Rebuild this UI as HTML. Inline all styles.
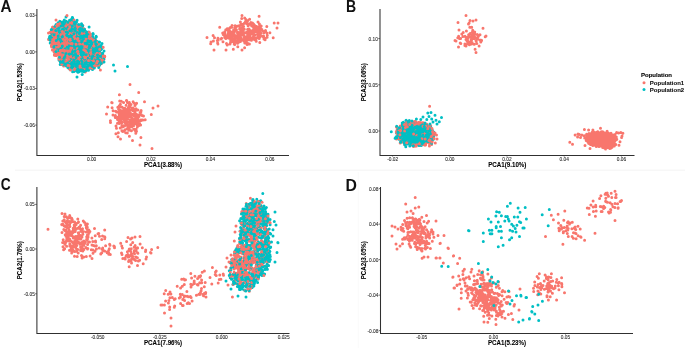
<!DOCTYPE html>
<html><head><meta charset="utf-8"><style>
html,body{margin:0;padding:0;background:#fff;width:685px;height:348px;overflow:hidden;font-family:"Liberation Sans",sans-serif}
svg{display:block;will-change:transform}
</style></head><body>
<svg width="685" height="348" viewBox="0 0 685 348">
<line x1="15" y1="170.3" x2="685" y2="170.3" stroke="#f7f7f7" stroke-width="1.4"/><line x1="358.3" y1="172" x2="358.3" y2="348" stroke="#fbfbfb" stroke-width="1"/><path d="M75.7 38.8h0M76.0 34.5h0" stroke="#F8766D" stroke-width="3.0" stroke-linecap="round"/><path d="M89.6 39.3h0" stroke="#00BFC4" stroke-width="3.0" stroke-linecap="round"/><path d="M92.1 43.9h0" stroke="#F8766D" stroke-width="3.0" stroke-linecap="round"/><path d="M96.0 53.2h0" stroke="#00BFC4" stroke-width="3.0" stroke-linecap="round"/><path d="M80.3 41.7h0" stroke="#F8766D" stroke-width="3.0" stroke-linecap="round"/><path d="M83.1 44.4h0" stroke="#00BFC4" stroke-width="3.0" stroke-linecap="round"/><path d="M95.1 66.2h0" stroke="#F8766D" stroke-width="3.0" stroke-linecap="round"/><path d="M77.0 29.1h0" stroke="#00BFC4" stroke-width="3.0" stroke-linecap="round"/><path d="M90.5 54.1h0" stroke="#F8766D" stroke-width="3.0" stroke-linecap="round"/><path d="M83.3 53.7h0M93.5 55.9h0M93.1 47.6h0" stroke="#00BFC4" stroke-width="3.0" stroke-linecap="round"/><path d="M83.4 68.6h0M92.6 55.9h0M92.9 39.0h0M79.3 47.0h0" stroke="#F8766D" stroke-width="3.0" stroke-linecap="round"/><path d="M81.8 64.0h0" stroke="#00BFC4" stroke-width="3.0" stroke-linecap="round"/><path d="M56.1 45.6h0M74.0 41.2h0M78.3 30.7h0M58.6 54.9h0" stroke="#F8766D" stroke-width="3.0" stroke-linecap="round"/><path d="M98.8 65.0h0M87.0 54.6h0" stroke="#00BFC4" stroke-width="3.0" stroke-linecap="round"/><path d="M80.2 31.1h0M53.8 44.0h0M96.1 60.2h0M56.8 45.8h0" stroke="#F8766D" stroke-width="3.0" stroke-linecap="round"/><path d="M54.3 33.8h0" stroke="#00BFC4" stroke-width="3.0" stroke-linecap="round"/><path d="M55.6 31.6h0" stroke="#F8766D" stroke-width="3.0" stroke-linecap="round"/><path d="M71.9 42.8h0M53.1 31.9h0" stroke="#00BFC4" stroke-width="3.0" stroke-linecap="round"/><path d="M61.8 45.8h0M80.9 39.7h0M69.7 62.7h0" stroke="#F8766D" stroke-width="3.0" stroke-linecap="round"/><path d="M64.3 42.4h0M95.1 46.1h0M100.7 47.7h0" stroke="#00BFC4" stroke-width="3.0" stroke-linecap="round"/><path d="M100.7 53.7h0M55.0 52.5h0M64.1 28.9h0M101.0 63.6h0M87.9 59.2h0M91.4 65.6h0" stroke="#F8766D" stroke-width="3.0" stroke-linecap="round"/><path d="M55.8 42.5h0M67.2 45.3h0" stroke="#00BFC4" stroke-width="3.0" stroke-linecap="round"/><path d="M88.4 60.2h0" stroke="#F8766D" stroke-width="3.0" stroke-linecap="round"/><path d="M65.0 40.8h0M91.2 53.0h0" stroke="#00BFC4" stroke-width="3.0" stroke-linecap="round"/><path d="M70.8 61.3h0M61.2 31.1h0" stroke="#F8766D" stroke-width="3.0" stroke-linecap="round"/><path d="M86.1 51.6h0M91.0 40.0h0" stroke="#00BFC4" stroke-width="3.0" stroke-linecap="round"/><path d="M78.2 61.4h0" stroke="#F8766D" stroke-width="3.0" stroke-linecap="round"/><path d="M82.2 74.4h0" stroke="#00BFC4" stroke-width="3.0" stroke-linecap="round"/><path d="M79.0 67.8h0M68.0 43.8h0M50.7 38.9h0" stroke="#F8766D" stroke-width="3.0" stroke-linecap="round"/><path d="M79.6 33.0h0M101.7 48.3h0" stroke="#00BFC4" stroke-width="3.0" stroke-linecap="round"/><path d="M100.0 57.1h0M75.0 63.4h0" stroke="#F8766D" stroke-width="3.0" stroke-linecap="round"/><path d="M87.1 41.4h0M69.4 36.6h0M77.8 62.3h0M86.3 36.3h0M77.0 31.1h0M99.9 45.5h0M70.6 56.1h0M54.8 51.8h0M89.7 53.6h0M79.3 49.3h0M71.9 66.0h0M69.9 38.3h0" stroke="#00BFC4" stroke-width="3.0" stroke-linecap="round"/><path d="M57.0 44.1h0" stroke="#F8766D" stroke-width="3.0" stroke-linecap="round"/><path d="M93.3 49.7h0" stroke="#00BFC4" stroke-width="3.0" stroke-linecap="round"/><path d="M76.0 40.0h0M62.2 44.2h0" stroke="#F8766D" stroke-width="3.0" stroke-linecap="round"/><path d="M62.4 31.3h0" stroke="#00BFC4" stroke-width="3.0" stroke-linecap="round"/><path d="M62.3 64.4h0M90.4 36.5h0M80.4 68.0h0M85.3 72.0h0" stroke="#F8766D" stroke-width="3.0" stroke-linecap="round"/><path d="M69.8 43.5h0M78.0 69.0h0" stroke="#00BFC4" stroke-width="3.0" stroke-linecap="round"/><path d="M68.9 57.5h0" stroke="#F8766D" stroke-width="3.0" stroke-linecap="round"/><path d="M75.2 29.6h0" stroke="#00BFC4" stroke-width="3.0" stroke-linecap="round"/><path d="M58.3 29.5h0M91.1 60.9h0M84.9 30.9h0" stroke="#F8766D" stroke-width="3.0" stroke-linecap="round"/><path d="M91.2 59.2h0" stroke="#00BFC4" stroke-width="3.0" stroke-linecap="round"/><path d="M82.6 56.6h0" stroke="#F8766D" stroke-width="3.0" stroke-linecap="round"/><path d="M94.0 53.1h0" stroke="#00BFC4" stroke-width="3.0" stroke-linecap="round"/><path d="M68.8 58.2h0" stroke="#F8766D" stroke-width="3.0" stroke-linecap="round"/><path d="M88.0 65.1h0M68.0 32.8h0M90.4 42.1h0M65.2 53.2h0" stroke="#00BFC4" stroke-width="3.0" stroke-linecap="round"/><path d="M55.5 55.0h0" stroke="#F8766D" stroke-width="3.0" stroke-linecap="round"/><path d="M54.3 52.0h0" stroke="#00BFC4" stroke-width="3.0" stroke-linecap="round"/><path d="M75.5 52.4h0M76.2 36.3h0M85.1 68.3h0M98.1 64.3h0M75.8 61.4h0" stroke="#F8766D" stroke-width="3.0" stroke-linecap="round"/><path d="M93.3 42.0h0M50.2 43.1h0" stroke="#00BFC4" stroke-width="3.0" stroke-linecap="round"/><path d="M82.9 29.5h0M59.4 38.0h0" stroke="#F8766D" stroke-width="3.0" stroke-linecap="round"/><path d="M83.3 62.9h0" stroke="#00BFC4" stroke-width="3.0" stroke-linecap="round"/><path d="M61.5 36.8h0" stroke="#F8766D" stroke-width="3.0" stroke-linecap="round"/><path d="M73.5 45.3h0" stroke="#00BFC4" stroke-width="3.0" stroke-linecap="round"/><path d="M62.9 39.4h0M66.2 61.2h0" stroke="#F8766D" stroke-width="3.0" stroke-linecap="round"/><path d="M64.1 25.9h0M78.1 63.2h0" stroke="#00BFC4" stroke-width="3.0" stroke-linecap="round"/><path d="M57.4 41.3h0" stroke="#F8766D" stroke-width="3.0" stroke-linecap="round"/><path d="M82.4 56.3h0M66.8 62.5h0" stroke="#00BFC4" stroke-width="3.0" stroke-linecap="round"/><path d="M80.1 58.9h0M63.1 52.4h0" stroke="#F8766D" stroke-width="3.0" stroke-linecap="round"/><path d="M59.5 53.2h0M98.3 64.6h0" stroke="#00BFC4" stroke-width="3.0" stroke-linecap="round"/><path d="M73.9 25.4h0M101.5 47.2h0M68.7 43.8h0" stroke="#F8766D" stroke-width="3.0" stroke-linecap="round"/><path d="M56.5 48.9h0M102.2 58.5h0" stroke="#00BFC4" stroke-width="3.0" stroke-linecap="round"/><path d="M60.9 54.2h0M94.4 57.8h0M96.8 50.8h0M72.2 38.9h0" stroke="#F8766D" stroke-width="3.0" stroke-linecap="round"/><path d="M97.7 45.7h0M86.5 43.0h0" stroke="#00BFC4" stroke-width="3.0" stroke-linecap="round"/><path d="M82.4 48.5h0" stroke="#F8766D" stroke-width="3.0" stroke-linecap="round"/><path d="M86.1 35.2h0" stroke="#00BFC4" stroke-width="3.0" stroke-linecap="round"/><path d="M64.2 46.3h0" stroke="#F8766D" stroke-width="3.0" stroke-linecap="round"/><path d="M79.7 51.6h0M91.2 58.0h0" stroke="#00BFC4" stroke-width="3.0" stroke-linecap="round"/><path d="M72.0 61.4h0" stroke="#F8766D" stroke-width="3.0" stroke-linecap="round"/><path d="M78.6 27.5h0M69.1 30.7h0M85.9 39.7h0M88.2 46.4h0" stroke="#00BFC4" stroke-width="3.0" stroke-linecap="round"/><path d="M83.8 65.9h0" stroke="#F8766D" stroke-width="3.0" stroke-linecap="round"/><path d="M58.2 31.0h0M86.8 62.1h0" stroke="#00BFC4" stroke-width="3.0" stroke-linecap="round"/><path d="M80.9 43.9h0" stroke="#F8766D" stroke-width="3.0" stroke-linecap="round"/><path d="M94.0 55.1h0M79.7 47.7h0M86.1 36.1h0" stroke="#00BFC4" stroke-width="3.0" stroke-linecap="round"/><path d="M57.5 45.8h0" stroke="#F8766D" stroke-width="3.0" stroke-linecap="round"/><path d="M91.9 36.8h0M90.4 66.6h0" stroke="#00BFC4" stroke-width="3.0" stroke-linecap="round"/><path d="M87.4 50.4h0M63.8 22.6h0" stroke="#F8766D" stroke-width="3.0" stroke-linecap="round"/><path d="M76.4 57.4h0M73.7 33.0h0M78.2 52.2h0" stroke="#00BFC4" stroke-width="3.0" stroke-linecap="round"/><path d="M88.5 46.6h0M70.3 35.5h0" stroke="#F8766D" stroke-width="3.0" stroke-linecap="round"/><path d="M71.8 32.9h0M83.2 50.4h0" stroke="#00BFC4" stroke-width="3.0" stroke-linecap="round"/><path d="M94.0 49.8h0M57.4 36.0h0" stroke="#F8766D" stroke-width="3.0" stroke-linecap="round"/><path d="M96.4 45.4h0M78.3 32.0h0" stroke="#00BFC4" stroke-width="3.0" stroke-linecap="round"/><path d="M57.0 37.2h0" stroke="#F8766D" stroke-width="3.0" stroke-linecap="round"/><path d="M87.0 42.5h0M67.4 53.6h0M85.8 37.3h0M88.1 53.1h0" stroke="#00BFC4" stroke-width="3.0" stroke-linecap="round"/><path d="M65.8 37.4h0" stroke="#F8766D" stroke-width="3.0" stroke-linecap="round"/><path d="M62.1 38.5h0" stroke="#00BFC4" stroke-width="3.0" stroke-linecap="round"/><path d="M73.2 35.5h0M69.8 46.9h0" stroke="#F8766D" stroke-width="3.0" stroke-linecap="round"/><path d="M81.4 48.3h0M75.8 32.5h0" stroke="#00BFC4" stroke-width="3.0" stroke-linecap="round"/><path d="M57.9 46.6h0" stroke="#F8766D" stroke-width="3.0" stroke-linecap="round"/><path d="M86.2 50.5h0M71.8 65.4h0M94.1 48.4h0M71.9 23.1h0M75.7 28.9h0" stroke="#00BFC4" stroke-width="3.0" stroke-linecap="round"/><path d="M72.7 59.6h0" stroke="#F8766D" stroke-width="3.0" stroke-linecap="round"/><path d="M88.0 36.0h0M64.1 37.7h0M80.1 68.1h0M85.7 47.2h0" stroke="#00BFC4" stroke-width="3.0" stroke-linecap="round"/><path d="M98.0 48.6h0M101.1 46.5h0M61.6 36.4h0M91.8 65.2h0M62.3 50.0h0" stroke="#F8766D" stroke-width="3.0" stroke-linecap="round"/><path d="M72.7 66.4h0M89.1 44.5h0M55.6 52.8h0" stroke="#00BFC4" stroke-width="3.0" stroke-linecap="round"/><path d="M68.4 56.2h0" stroke="#F8766D" stroke-width="3.0" stroke-linecap="round"/><path d="M76.1 26.3h0M72.8 55.3h0M65.2 35.1h0" stroke="#00BFC4" stroke-width="3.0" stroke-linecap="round"/><path d="M93.7 38.2h0M51.7 43.9h0M100.8 54.7h0" stroke="#F8766D" stroke-width="3.0" stroke-linecap="round"/><path d="M85.0 40.5h0M84.5 46.7h0" stroke="#00BFC4" stroke-width="3.0" stroke-linecap="round"/><path d="M57.1 47.7h0" stroke="#F8766D" stroke-width="3.0" stroke-linecap="round"/><path d="M84.7 43.4h0" stroke="#00BFC4" stroke-width="3.0" stroke-linecap="round"/><path d="M63.7 66.0h0M57.8 53.4h0" stroke="#F8766D" stroke-width="3.0" stroke-linecap="round"/><path d="M60.4 56.0h0M70.1 40.2h0" stroke="#00BFC4" stroke-width="3.0" stroke-linecap="round"/><path d="M66.9 41.6h0M75.3 32.8h0M58.8 40.9h0M59.4 38.0h0" stroke="#F8766D" stroke-width="3.0" stroke-linecap="round"/><path d="M59.8 33.9h0M70.6 27.4h0M96.8 62.5h0M82.0 32.1h0" stroke="#00BFC4" stroke-width="3.0" stroke-linecap="round"/><path d="M84.7 50.7h0" stroke="#F8766D" stroke-width="3.0" stroke-linecap="round"/><path d="M68.7 65.4h0M90.0 43.6h0M82.3 42.8h0M73.7 32.8h0M74.3 52.0h0" stroke="#00BFC4" stroke-width="3.0" stroke-linecap="round"/><path d="M77.1 44.1h0" stroke="#F8766D" stroke-width="3.0" stroke-linecap="round"/><path d="M59.4 57.8h0M69.8 25.5h0M82.2 51.2h0" stroke="#00BFC4" stroke-width="3.0" stroke-linecap="round"/><path d="M89.5 38.2h0" stroke="#F8766D" stroke-width="3.0" stroke-linecap="round"/><path d="M65.0 62.5h0" stroke="#00BFC4" stroke-width="3.0" stroke-linecap="round"/><path d="M84.4 29.3h0" stroke="#F8766D" stroke-width="3.0" stroke-linecap="round"/><path d="M83.3 33.5h0" stroke="#00BFC4" stroke-width="3.0" stroke-linecap="round"/><path d="M51.1 32.2h0" stroke="#F8766D" stroke-width="3.0" stroke-linecap="round"/><path d="M92.9 66.8h0" stroke="#00BFC4" stroke-width="3.0" stroke-linecap="round"/><path d="M55.9 55.3h0" stroke="#F8766D" stroke-width="3.0" stroke-linecap="round"/><path d="M96.9 46.3h0" stroke="#00BFC4" stroke-width="3.0" stroke-linecap="round"/><path d="M66.5 53.8h0" stroke="#F8766D" stroke-width="3.0" stroke-linecap="round"/><path d="M62.7 63.3h0" stroke="#00BFC4" stroke-width="3.0" stroke-linecap="round"/><path d="M54.5 55.0h0M74.0 33.3h0M86.4 37.2h0" stroke="#F8766D" stroke-width="3.0" stroke-linecap="round"/><path d="M97.0 49.9h0" stroke="#00BFC4" stroke-width="3.0" stroke-linecap="round"/><path d="M59.4 31.8h0" stroke="#F8766D" stroke-width="3.0" stroke-linecap="round"/><path d="M92.7 62.8h0M69.7 37.2h0M85.6 60.7h0M90.9 50.2h0M95.2 42.0h0M62.6 64.8h0M102.6 61.8h0" stroke="#00BFC4" stroke-width="3.0" stroke-linecap="round"/><path d="M100.5 62.3h0" stroke="#F8766D" stroke-width="3.0" stroke-linecap="round"/><path d="M91.9 46.4h0" stroke="#00BFC4" stroke-width="3.0" stroke-linecap="round"/><path d="M60.6 41.9h0" stroke="#F8766D" stroke-width="3.0" stroke-linecap="round"/><path d="M53.7 29.1h0" stroke="#00BFC4" stroke-width="3.0" stroke-linecap="round"/><path d="M63.1 49.6h0" stroke="#F8766D" stroke-width="3.0" stroke-linecap="round"/><path d="M65.4 54.4h0" stroke="#00BFC4" stroke-width="3.0" stroke-linecap="round"/><path d="M63.6 52.5h0" stroke="#F8766D" stroke-width="3.0" stroke-linecap="round"/><path d="M59.1 23.7h0M60.7 51.8h0M83.2 31.0h0M49.0 38.8h0M93.3 53.6h0M81.9 32.2h0" stroke="#00BFC4" stroke-width="3.0" stroke-linecap="round"/><path d="M89.5 49.8h0" stroke="#F8766D" stroke-width="3.0" stroke-linecap="round"/><path d="M96.3 43.6h0" stroke="#00BFC4" stroke-width="3.0" stroke-linecap="round"/><path d="M62.8 31.0h0M70.2 26.0h0M103.5 59.2h0" stroke="#F8766D" stroke-width="3.0" stroke-linecap="round"/><path d="M99.6 53.1h0" stroke="#00BFC4" stroke-width="3.0" stroke-linecap="round"/><path d="M94.0 58.1h0M82.8 56.7h0M75.4 44.8h0" stroke="#F8766D" stroke-width="3.0" stroke-linecap="round"/><path d="M71.2 55.4h0M89.5 54.4h0" stroke="#00BFC4" stroke-width="3.0" stroke-linecap="round"/><path d="M54.2 48.3h0" stroke="#F8766D" stroke-width="3.0" stroke-linecap="round"/><path d="M102.6 53.7h0M97.8 53.3h0" stroke="#00BFC4" stroke-width="3.0" stroke-linecap="round"/><path d="M80.3 63.8h0" stroke="#F8766D" stroke-width="3.0" stroke-linecap="round"/><path d="M64.6 61.1h0M100.6 49.9h0M81.3 26.2h0M91.8 49.6h0M64.9 22.0h0M72.8 18.8h0M68.8 44.2h0M92.5 56.9h0M85.0 66.8h0M88.7 37.1h0M55.4 26.1h0" stroke="#00BFC4" stroke-width="3.0" stroke-linecap="round"/><path d="M52.7 30.9h0M63.0 49.8h0" stroke="#F8766D" stroke-width="3.0" stroke-linecap="round"/><path d="M83.6 32.4h0M66.8 26.7h0M85.6 49.7h0" stroke="#00BFC4" stroke-width="3.0" stroke-linecap="round"/><path d="M81.8 28.7h0" stroke="#F8766D" stroke-width="3.0" stroke-linecap="round"/><path d="M76.7 42.2h0" stroke="#00BFC4" stroke-width="3.0" stroke-linecap="round"/><path d="M92.2 54.7h0" stroke="#F8766D" stroke-width="3.0" stroke-linecap="round"/><path d="M57.5 31.4h0" stroke="#00BFC4" stroke-width="3.0" stroke-linecap="round"/><path d="M77.3 44.8h0M59.8 24.5h0" stroke="#F8766D" stroke-width="3.0" stroke-linecap="round"/><path d="M93.5 63.2h0" stroke="#00BFC4" stroke-width="3.0" stroke-linecap="round"/><path d="M71.2 49.7h0M104.6 56.8h0M75.1 65.0h0" stroke="#F8766D" stroke-width="3.0" stroke-linecap="round"/><path d="M64.2 42.1h0M61.2 41.8h0M77.1 20.2h0" stroke="#00BFC4" stroke-width="3.0" stroke-linecap="round"/><path d="M70.1 63.5h0" stroke="#F8766D" stroke-width="3.0" stroke-linecap="round"/><path d="M63.0 40.8h0M93.6 56.5h0" stroke="#00BFC4" stroke-width="3.0" stroke-linecap="round"/><path d="M69.2 32.5h0" stroke="#F8766D" stroke-width="3.0" stroke-linecap="round"/><path d="M99.9 63.4h0" stroke="#00BFC4" stroke-width="3.0" stroke-linecap="round"/><path d="M56.4 55.6h0M61.0 35.8h0" stroke="#F8766D" stroke-width="3.0" stroke-linecap="round"/><path d="M91.6 51.2h0" stroke="#00BFC4" stroke-width="3.0" stroke-linecap="round"/><path d="M70.7 39.0h0" stroke="#F8766D" stroke-width="3.0" stroke-linecap="round"/><path d="M71.8 19.1h0M71.7 42.9h0M65.4 56.2h0" stroke="#00BFC4" stroke-width="3.0" stroke-linecap="round"/><path d="M76.3 62.9h0" stroke="#F8766D" stroke-width="3.0" stroke-linecap="round"/><path d="M98.1 60.7h0" stroke="#00BFC4" stroke-width="3.0" stroke-linecap="round"/><path d="M82.4 58.8h0" stroke="#F8766D" stroke-width="3.0" stroke-linecap="round"/><path d="M79.1 27.4h0M102.2 62.3h0M97.4 60.5h0M76.1 28.3h0M85.1 31.7h0M70.5 40.0h0M93.4 43.1h0M73.2 31.0h0M62.7 50.7h0M59.5 48.5h0M92.1 49.8h0M92.4 45.3h0M76.3 49.1h0M64.9 33.9h0" stroke="#00BFC4" stroke-width="3.0" stroke-linecap="round"/><path d="M58.9 42.3h0" stroke="#F8766D" stroke-width="3.0" stroke-linecap="round"/><path d="M86.7 58.0h0M99.6 48.3h0" stroke="#00BFC4" stroke-width="3.0" stroke-linecap="round"/><path d="M87.0 60.7h0M52.4 41.4h0M71.0 50.3h0" stroke="#F8766D" stroke-width="3.0" stroke-linecap="round"/><path d="M87.5 47.1h0M67.0 44.1h0M89.4 59.0h0" stroke="#00BFC4" stroke-width="3.0" stroke-linecap="round"/><path d="M99.2 60.9h0M73.4 33.4h0" stroke="#F8766D" stroke-width="3.0" stroke-linecap="round"/><path d="M76.1 46.4h0" stroke="#00BFC4" stroke-width="3.0" stroke-linecap="round"/><path d="M74.0 59.7h0" stroke="#F8766D" stroke-width="3.0" stroke-linecap="round"/><path d="M69.2 52.0h0M86.4 31.7h0M95.1 49.4h0" stroke="#00BFC4" stroke-width="3.0" stroke-linecap="round"/><path d="M70.7 63.3h0M90.4 40.2h0" stroke="#F8766D" stroke-width="3.0" stroke-linecap="round"/><path d="M78.4 61.0h0M83.1 57.6h0" stroke="#00BFC4" stroke-width="3.0" stroke-linecap="round"/><path d="M56.3 41.4h0" stroke="#F8766D" stroke-width="3.0" stroke-linecap="round"/><path d="M65.6 33.8h0M73.1 30.1h0M69.6 27.2h0" stroke="#00BFC4" stroke-width="3.0" stroke-linecap="round"/><path d="M57.4 40.9h0" stroke="#F8766D" stroke-width="3.0" stroke-linecap="round"/><path d="M88.4 52.7h0M74.4 25.4h0M63.5 44.8h0" stroke="#00BFC4" stroke-width="3.0" stroke-linecap="round"/><path d="M62.9 49.8h0" stroke="#F8766D" stroke-width="3.0" stroke-linecap="round"/><path d="M76.2 51.4h0" stroke="#00BFC4" stroke-width="3.0" stroke-linecap="round"/><path d="M63.4 32.2h0M70.5 22.5h0M84.3 64.6h0M86.5 60.8h0M71.7 39.0h0" stroke="#F8766D" stroke-width="3.0" stroke-linecap="round"/><path d="M79.2 28.7h0M55.9 43.5h0M87.5 42.9h0" stroke="#00BFC4" stroke-width="3.0" stroke-linecap="round"/><path d="M93.3 57.1h0M54.4 32.7h0" stroke="#F8766D" stroke-width="3.0" stroke-linecap="round"/><path d="M79.1 71.7h0" stroke="#00BFC4" stroke-width="3.0" stroke-linecap="round"/><path d="M55.4 38.4h0" stroke="#F8766D" stroke-width="3.0" stroke-linecap="round"/><path d="M69.7 23.3h0" stroke="#00BFC4" stroke-width="3.0" stroke-linecap="round"/><path d="M73.2 25.2h0M79.7 50.9h0M71.6 44.5h0M96.9 48.3h0" stroke="#F8766D" stroke-width="3.0" stroke-linecap="round"/><path d="M70.9 64.3h0" stroke="#00BFC4" stroke-width="3.0" stroke-linecap="round"/><path d="M72.3 55.0h0M53.7 47.1h0" stroke="#F8766D" stroke-width="3.0" stroke-linecap="round"/><path d="M68.3 51.8h0" stroke="#00BFC4" stroke-width="3.0" stroke-linecap="round"/><path d="M91.5 51.1h0M73.7 36.2h0M88.8 62.4h0" stroke="#F8766D" stroke-width="3.0" stroke-linecap="round"/><path d="M102.1 56.4h0" stroke="#00BFC4" stroke-width="3.0" stroke-linecap="round"/><path d="M81.7 51.5h0M85.4 36.1h0" stroke="#F8766D" stroke-width="3.0" stroke-linecap="round"/><path d="M89.2 65.5h0M79.2 36.5h0M81.7 31.8h0" stroke="#00BFC4" stroke-width="3.0" stroke-linecap="round"/><path d="M100.0 63.3h0" stroke="#F8766D" stroke-width="3.0" stroke-linecap="round"/><path d="M95.4 39.2h0" stroke="#00BFC4" stroke-width="3.0" stroke-linecap="round"/><path d="M87.4 58.6h0" stroke="#F8766D" stroke-width="3.0" stroke-linecap="round"/><path d="M84.0 48.7h0M81.0 55.3h0" stroke="#00BFC4" stroke-width="3.0" stroke-linecap="round"/><path d="M78.1 66.9h0M67.1 27.1h0M62.4 39.0h0M67.3 44.3h0" stroke="#F8766D" stroke-width="3.0" stroke-linecap="round"/><path d="M61.7 32.0h0" stroke="#00BFC4" stroke-width="3.0" stroke-linecap="round"/><path d="M61.4 50.3h0M59.1 39.7h0" stroke="#F8766D" stroke-width="3.0" stroke-linecap="round"/><path d="M97.6 62.6h0" stroke="#00BFC4" stroke-width="3.0" stroke-linecap="round"/><path d="M52.2 33.9h0M92.0 43.3h0" stroke="#F8766D" stroke-width="3.0" stroke-linecap="round"/><path d="M90.4 62.4h0" stroke="#00BFC4" stroke-width="3.0" stroke-linecap="round"/><path d="M60.7 30.9h0" stroke="#F8766D" stroke-width="3.0" stroke-linecap="round"/><path d="M94.0 61.0h0" stroke="#00BFC4" stroke-width="3.0" stroke-linecap="round"/><path d="M58.5 37.7h0" stroke="#F8766D" stroke-width="3.0" stroke-linecap="round"/><path d="M54.8 33.5h0M91.0 43.2h0M63.0 54.8h0" stroke="#00BFC4" stroke-width="3.0" stroke-linecap="round"/><path d="M79.4 38.1h0" stroke="#F8766D" stroke-width="3.0" stroke-linecap="round"/><path d="M64.9 36.3h0" stroke="#00BFC4" stroke-width="3.0" stroke-linecap="round"/><path d="M81.8 61.8h0" stroke="#F8766D" stroke-width="3.0" stroke-linecap="round"/><path d="M94.9 52.2h0" stroke="#00BFC4" stroke-width="3.0" stroke-linecap="round"/><path d="M63.6 31.3h0M60.0 43.6h0" stroke="#F8766D" stroke-width="3.0" stroke-linecap="round"/><path d="M70.7 20.0h0M76.9 71.0h0M72.2 60.7h0" stroke="#00BFC4" stroke-width="3.0" stroke-linecap="round"/><path d="M85.8 61.2h0M69.3 25.2h0" stroke="#F8766D" stroke-width="3.0" stroke-linecap="round"/><path d="M56.1 36.4h0" stroke="#00BFC4" stroke-width="3.0" stroke-linecap="round"/><path d="M69.9 22.4h0" stroke="#F8766D" stroke-width="3.0" stroke-linecap="round"/><path d="M84.2 60.1h0M71.2 69.3h0M74.9 41.4h0M80.9 50.1h0" stroke="#00BFC4" stroke-width="3.0" stroke-linecap="round"/><path d="M64.5 41.2h0" stroke="#F8766D" stroke-width="3.0" stroke-linecap="round"/><path d="M67.7 50.1h0" stroke="#00BFC4" stroke-width="3.0" stroke-linecap="round"/><path d="M98.9 57.6h0M58.9 46.1h0" stroke="#F8766D" stroke-width="3.0" stroke-linecap="round"/><path d="M51.6 42.1h0" stroke="#00BFC4" stroke-width="3.0" stroke-linecap="round"/><path d="M74.2 61.5h0M62.3 31.5h0M70.2 55.4h0M81.2 53.5h0" stroke="#F8766D" stroke-width="3.0" stroke-linecap="round"/><path d="M51.6 38.4h0" stroke="#00BFC4" stroke-width="3.0" stroke-linecap="round"/><path d="M86.5 67.9h0M64.5 26.8h0M62.9 58.3h0" stroke="#F8766D" stroke-width="3.0" stroke-linecap="round"/><path d="M88.8 31.9h0M67.6 60.5h0M84.5 37.7h0" stroke="#00BFC4" stroke-width="3.0" stroke-linecap="round"/><path d="M66.1 29.9h0" stroke="#F8766D" stroke-width="3.0" stroke-linecap="round"/><path d="M55.1 35.0h0M74.0 51.5h0" stroke="#00BFC4" stroke-width="3.0" stroke-linecap="round"/><path d="M80.8 45.0h0" stroke="#F8766D" stroke-width="3.0" stroke-linecap="round"/><path d="M92.5 69.6h0M96.6 45.3h0" stroke="#00BFC4" stroke-width="3.0" stroke-linecap="round"/><path d="M82.5 54.2h0" stroke="#F8766D" stroke-width="3.0" stroke-linecap="round"/><path d="M73.3 25.4h0" stroke="#00BFC4" stroke-width="3.0" stroke-linecap="round"/><path d="M95.7 60.5h0M92.0 46.3h0M67.0 61.0h0" stroke="#F8766D" stroke-width="3.0" stroke-linecap="round"/><path d="M70.5 63.5h0" stroke="#00BFC4" stroke-width="3.0" stroke-linecap="round"/><path d="M84.4 39.0h0M103.4 56.0h0M70.9 60.3h0" stroke="#F8766D" stroke-width="3.0" stroke-linecap="round"/><path d="M74.9 33.0h0" stroke="#00BFC4" stroke-width="3.0" stroke-linecap="round"/><path d="M70.6 53.7h0" stroke="#F8766D" stroke-width="3.0" stroke-linecap="round"/><path d="M67.8 55.5h0M61.0 33.8h0" stroke="#00BFC4" stroke-width="3.0" stroke-linecap="round"/><path d="M102.3 61.9h0" stroke="#F8766D" stroke-width="3.0" stroke-linecap="round"/><path d="M86.2 32.4h0" stroke="#00BFC4" stroke-width="3.0" stroke-linecap="round"/><path d="M69.2 44.0h0M55.8 52.0h0" stroke="#F8766D" stroke-width="3.0" stroke-linecap="round"/><path d="M83.6 69.3h0" stroke="#00BFC4" stroke-width="3.0" stroke-linecap="round"/><path d="M92.2 61.9h0" stroke="#F8766D" stroke-width="3.0" stroke-linecap="round"/><path d="M85.2 64.5h0M86.2 61.9h0" stroke="#00BFC4" stroke-width="3.0" stroke-linecap="round"/><path d="M58.8 23.6h0M70.5 42.4h0" stroke="#F8766D" stroke-width="3.0" stroke-linecap="round"/><path d="M81.1 32.4h0" stroke="#00BFC4" stroke-width="3.0" stroke-linecap="round"/><path d="M70.7 23.1h0" stroke="#F8766D" stroke-width="3.0" stroke-linecap="round"/><path d="M93.0 34.3h0" stroke="#00BFC4" stroke-width="3.0" stroke-linecap="round"/><path d="M86.5 45.4h0" stroke="#F8766D" stroke-width="3.0" stroke-linecap="round"/><path d="M61.4 46.9h0" stroke="#00BFC4" stroke-width="3.0" stroke-linecap="round"/><path d="M68.8 25.5h0" stroke="#F8766D" stroke-width="3.0" stroke-linecap="round"/><path d="M81.9 64.9h0" stroke="#00BFC4" stroke-width="3.0" stroke-linecap="round"/><path d="M63.0 27.5h0M65.0 44.2h0" stroke="#F8766D" stroke-width="3.0" stroke-linecap="round"/><path d="M82.6 55.6h0" stroke="#00BFC4" stroke-width="3.0" stroke-linecap="round"/><path d="M63.0 39.0h0" stroke="#F8766D" stroke-width="3.0" stroke-linecap="round"/><path d="M91.4 52.1h0" stroke="#00BFC4" stroke-width="3.0" stroke-linecap="round"/><path d="M67.7 30.9h0" stroke="#F8766D" stroke-width="3.0" stroke-linecap="round"/><path d="M84.2 28.9h0" stroke="#00BFC4" stroke-width="3.0" stroke-linecap="round"/><path d="M68.8 33.3h0M81.1 50.9h0" stroke="#F8766D" stroke-width="3.0" stroke-linecap="round"/><path d="M67.5 42.8h0" stroke="#00BFC4" stroke-width="3.0" stroke-linecap="round"/><path d="M56.6 53.8h0" stroke="#F8766D" stroke-width="3.0" stroke-linecap="round"/><path d="M82.6 52.1h0" stroke="#00BFC4" stroke-width="3.0" stroke-linecap="round"/><path d="M92.4 40.7h0M72.5 65.2h0" stroke="#F8766D" stroke-width="3.0" stroke-linecap="round"/><path d="M75.2 51.5h0M55.2 33.5h0M82.0 47.1h0" stroke="#00BFC4" stroke-width="3.0" stroke-linecap="round"/><path d="M86.7 59.8h0" stroke="#F8766D" stroke-width="3.0" stroke-linecap="round"/><path d="M77.2 66.0h0M68.6 64.8h0M85.8 49.9h0" stroke="#00BFC4" stroke-width="3.0" stroke-linecap="round"/><path d="M68.1 58.3h0M98.3 65.5h0M88.2 66.4h0" stroke="#F8766D" stroke-width="3.0" stroke-linecap="round"/><path d="M75.4 25.7h0M77.3 28.1h0" stroke="#00BFC4" stroke-width="3.0" stroke-linecap="round"/><path d="M101.0 55.2h0" stroke="#F8766D" stroke-width="3.0" stroke-linecap="round"/><path d="M87.2 49.5h0" stroke="#00BFC4" stroke-width="3.0" stroke-linecap="round"/><path d="M78.0 61.3h0" stroke="#F8766D" stroke-width="3.0" stroke-linecap="round"/><path d="M89.4 44.3h0M82.7 58.6h0M80.2 33.5h0M76.5 26.6h0M80.4 53.4h0M84.4 68.5h0M74.2 66.9h0" stroke="#00BFC4" stroke-width="3.0" stroke-linecap="round"/><path d="M52.8 27.1h0" stroke="#F8766D" stroke-width="3.0" stroke-linecap="round"/><path d="M74.7 31.3h0M101.9 47.2h0M75.4 23.4h0" stroke="#00BFC4" stroke-width="3.0" stroke-linecap="round"/><path d="M84.9 67.9h0M48.6 39.6h0M51.3 32.7h0M55.3 35.2h0" stroke="#F8766D" stroke-width="3.0" stroke-linecap="round"/><path d="M59.0 36.6h0M94.4 56.9h0" stroke="#00BFC4" stroke-width="3.0" stroke-linecap="round"/><path d="M93.9 49.0h0M74.4 42.6h0M51.3 33.6h0" stroke="#F8766D" stroke-width="3.0" stroke-linecap="round"/><path d="M76.8 42.7h0M81.1 34.6h0M99.2 49.9h0" stroke="#00BFC4" stroke-width="3.0" stroke-linecap="round"/><path d="M76.7 67.5h0" stroke="#F8766D" stroke-width="3.0" stroke-linecap="round"/><path d="M61.8 31.3h0" stroke="#00BFC4" stroke-width="3.0" stroke-linecap="round"/><path d="M81.4 44.1h0" stroke="#F8766D" stroke-width="3.0" stroke-linecap="round"/><path d="M50.5 36.6h0" stroke="#00BFC4" stroke-width="3.0" stroke-linecap="round"/><path d="M69.9 45.3h0" stroke="#F8766D" stroke-width="3.0" stroke-linecap="round"/><path d="M68.0 28.6h0M96.4 64.0h0M62.4 60.9h0" stroke="#00BFC4" stroke-width="3.0" stroke-linecap="round"/><path d="M71.2 54.7h0" stroke="#F8766D" stroke-width="3.0" stroke-linecap="round"/><path d="M82.2 64.2h0M52.6 36.4h0M84.0 29.5h0M71.6 20.4h0M84.3 29.6h0" stroke="#00BFC4" stroke-width="3.0" stroke-linecap="round"/><path d="M68.5 31.6h0" stroke="#F8766D" stroke-width="3.0" stroke-linecap="round"/><path d="M83.6 32.4h0M76.3 25.2h0M62.4 63.0h0" stroke="#00BFC4" stroke-width="3.0" stroke-linecap="round"/><path d="M80.1 59.2h0" stroke="#F8766D" stroke-width="3.0" stroke-linecap="round"/><path d="M56.1 24.6h0" stroke="#00BFC4" stroke-width="3.0" stroke-linecap="round"/><path d="M75.2 57.5h0" stroke="#F8766D" stroke-width="3.0" stroke-linecap="round"/><path d="M76.6 59.7h0M84.7 43.2h0M57.3 48.7h0M66.7 29.2h0M80.3 41.1h0" stroke="#00BFC4" stroke-width="3.0" stroke-linecap="round"/><path d="M97.4 50.2h0M76.2 25.6h0" stroke="#F8766D" stroke-width="3.0" stroke-linecap="round"/><path d="M79.0 65.4h0" stroke="#00BFC4" stroke-width="3.0" stroke-linecap="round"/><path d="M82.2 37.3h0M75.2 30.6h0M90.1 56.6h0" stroke="#F8766D" stroke-width="3.0" stroke-linecap="round"/><path d="M82.6 62.2h0M60.4 45.7h0M63.3 44.9h0M69.0 26.7h0" stroke="#00BFC4" stroke-width="3.0" stroke-linecap="round"/><path d="M67.7 44.5h0M75.8 60.6h0M66.7 24.5h0M54.4 54.9h0M54.0 51.4h0" stroke="#F8766D" stroke-width="3.0" stroke-linecap="round"/><path d="M98.7 53.6h0" stroke="#00BFC4" stroke-width="3.0" stroke-linecap="round"/><path d="M60.9 38.7h0" stroke="#F8766D" stroke-width="3.0" stroke-linecap="round"/><path d="M63.9 33.1h0M82.6 60.2h0" stroke="#00BFC4" stroke-width="3.0" stroke-linecap="round"/><path d="M84.4 31.0h0M77.8 57.6h0" stroke="#F8766D" stroke-width="3.0" stroke-linecap="round"/><path d="M58.0 44.8h0" stroke="#00BFC4" stroke-width="3.0" stroke-linecap="round"/><path d="M63.5 49.1h0" stroke="#F8766D" stroke-width="3.0" stroke-linecap="round"/><path d="M84.2 64.3h0" stroke="#00BFC4" stroke-width="3.0" stroke-linecap="round"/><path d="M60.4 36.6h0" stroke="#F8766D" stroke-width="3.0" stroke-linecap="round"/><path d="M83.7 64.2h0M49.9 38.3h0" stroke="#00BFC4" stroke-width="3.0" stroke-linecap="round"/><path d="M61.3 50.4h0" stroke="#F8766D" stroke-width="3.0" stroke-linecap="round"/><path d="M69.5 46.0h0M85.7 56.2h0M60.0 51.1h0" stroke="#00BFC4" stroke-width="3.0" stroke-linecap="round"/><path d="M74.0 25.6h0" stroke="#F8766D" stroke-width="3.0" stroke-linecap="round"/><path d="M71.7 21.4h0" stroke="#00BFC4" stroke-width="3.0" stroke-linecap="round"/><path d="M88.7 40.8h0" stroke="#F8766D" stroke-width="3.0" stroke-linecap="round"/><path d="M97.6 41.7h0" stroke="#00BFC4" stroke-width="3.0" stroke-linecap="round"/><path d="M87.3 35.1h0" stroke="#F8766D" stroke-width="3.0" stroke-linecap="round"/><path d="M81.9 49.6h0" stroke="#00BFC4" stroke-width="3.0" stroke-linecap="round"/><path d="M84.9 34.9h0" stroke="#F8766D" stroke-width="3.0" stroke-linecap="round"/><path d="M74.1 48.0h0M70.0 57.8h0" stroke="#00BFC4" stroke-width="3.0" stroke-linecap="round"/><path d="M98.5 44.1h0M100.4 69.9h0M64.0 55.0h0" stroke="#F8766D" stroke-width="3.0" stroke-linecap="round"/><path d="M82.0 71.3h0" stroke="#00BFC4" stroke-width="3.0" stroke-linecap="round"/><path d="M62.0 45.2h0M63.8 51.5h0" stroke="#F8766D" stroke-width="3.0" stroke-linecap="round"/><path d="M91.3 38.0h0" stroke="#00BFC4" stroke-width="3.0" stroke-linecap="round"/><path d="M73.6 36.0h0M99.7 59.4h0M76.4 42.6h0" stroke="#F8766D" stroke-width="3.0" stroke-linecap="round"/><path d="M85.8 56.8h0" stroke="#00BFC4" stroke-width="3.0" stroke-linecap="round"/><path d="M94.6 43.6h0" stroke="#F8766D" stroke-width="3.0" stroke-linecap="round"/><path d="M90.6 41.3h0" stroke="#00BFC4" stroke-width="3.0" stroke-linecap="round"/><path d="M68.7 45.1h0" stroke="#F8766D" stroke-width="3.0" stroke-linecap="round"/><path d="M76.0 24.6h0M65.9 45.6h0M81.5 56.9h0" stroke="#00BFC4" stroke-width="3.0" stroke-linecap="round"/><path d="M64.5 52.2h0M87.4 59.9h0M64.7 58.9h0" stroke="#F8766D" stroke-width="3.0" stroke-linecap="round"/><path d="M62.5 35.8h0" stroke="#00BFC4" stroke-width="3.0" stroke-linecap="round"/><path d="M66.4 34.9h0" stroke="#F8766D" stroke-width="3.0" stroke-linecap="round"/><path d="M90.6 58.2h0" stroke="#00BFC4" stroke-width="3.0" stroke-linecap="round"/><path d="M84.6 41.1h0" stroke="#F8766D" stroke-width="3.0" stroke-linecap="round"/><path d="M88.1 45.9h0M97.0 50.5h0M57.3 48.4h0" stroke="#00BFC4" stroke-width="3.0" stroke-linecap="round"/><path d="M87.5 35.8h0" stroke="#F8766D" stroke-width="3.0" stroke-linecap="round"/><path d="M67.7 63.8h0M64.9 51.4h0M65.1 24.4h0M82.5 43.7h0M68.2 29.5h0M53.2 36.9h0M72.1 67.9h0M99.0 56.7h0M73.1 63.8h0M51.1 32.7h0M88.0 39.1h0M86.8 50.3h0M70.8 57.4h0" stroke="#00BFC4" stroke-width="3.0" stroke-linecap="round"/><path d="M65.8 25.9h0" stroke="#F8766D" stroke-width="3.0" stroke-linecap="round"/><path d="M67.3 45.1h0M73.7 62.0h0M85.9 57.8h0" stroke="#00BFC4" stroke-width="3.0" stroke-linecap="round"/><path d="M65.8 49.6h0" stroke="#F8766D" stroke-width="3.0" stroke-linecap="round"/><path d="M85.0 44.4h0M66.4 66.0h0M81.8 62.7h0" stroke="#00BFC4" stroke-width="3.0" stroke-linecap="round"/><path d="M58.4 26.6h0" stroke="#F8766D" stroke-width="3.0" stroke-linecap="round"/><path d="M58.0 29.0h0" stroke="#00BFC4" stroke-width="3.0" stroke-linecap="round"/><path d="M97.9 45.8h0M81.0 66.8h0M93.6 44.6h0" stroke="#F8766D" stroke-width="3.0" stroke-linecap="round"/><path d="M73.7 33.1h0M68.2 25.2h0M86.3 54.8h0M89.8 34.4h0" stroke="#00BFC4" stroke-width="3.0" stroke-linecap="round"/><path d="M54.1 43.3h0" stroke="#F8766D" stroke-width="3.0" stroke-linecap="round"/><path d="M86.9 39.5h0" stroke="#00BFC4" stroke-width="3.0" stroke-linecap="round"/><path d="M85.0 62.1h0" stroke="#F8766D" stroke-width="3.0" stroke-linecap="round"/><path d="M83.3 39.5h0" stroke="#00BFC4" stroke-width="3.0" stroke-linecap="round"/><path d="M79.5 42.6h0M54.3 52.0h0" stroke="#F8766D" stroke-width="3.0" stroke-linecap="round"/><path d="M85.6 49.5h0M73.2 29.4h0" stroke="#00BFC4" stroke-width="3.0" stroke-linecap="round"/><path d="M61.3 53.5h0M69.7 25.9h0" stroke="#F8766D" stroke-width="3.0" stroke-linecap="round"/><path d="M78.8 38.8h0" stroke="#00BFC4" stroke-width="3.0" stroke-linecap="round"/><path d="M64.3 25.5h0" stroke="#F8766D" stroke-width="3.0" stroke-linecap="round"/><path d="M78.3 40.3h0M69.9 69.3h0" stroke="#00BFC4" stroke-width="3.0" stroke-linecap="round"/><path d="M88.8 50.8h0M76.0 25.3h0" stroke="#F8766D" stroke-width="3.0" stroke-linecap="round"/><path d="M99.6 65.3h0M57.2 34.0h0M68.1 52.7h0M79.9 29.9h0M83.4 36.3h0" stroke="#00BFC4" stroke-width="3.0" stroke-linecap="round"/><path d="M79.5 50.8h0M79.9 57.5h0M53.4 32.2h0" stroke="#F8766D" stroke-width="3.0" stroke-linecap="round"/><path d="M78.8 36.1h0" stroke="#00BFC4" stroke-width="3.0" stroke-linecap="round"/><path d="M98.1 46.8h0M56.4 39.0h0M66.1 57.2h0" stroke="#F8766D" stroke-width="3.0" stroke-linecap="round"/><path d="M69.7 36.5h0" stroke="#00BFC4" stroke-width="3.0" stroke-linecap="round"/><path d="M63.8 44.1h0" stroke="#F8766D" stroke-width="3.0" stroke-linecap="round"/><path d="M58.8 26.6h0M92.2 53.0h0" stroke="#00BFC4" stroke-width="3.0" stroke-linecap="round"/><path d="M63.5 25.1h0" stroke="#F8766D" stroke-width="3.0" stroke-linecap="round"/><path d="M55.6 34.0h0" stroke="#00BFC4" stroke-width="3.0" stroke-linecap="round"/><path d="M57.6 52.0h0M68.2 38.6h0" stroke="#F8766D" stroke-width="3.0" stroke-linecap="round"/><path d="M91.1 38.4h0M73.4 55.0h0M66.2 21.3h0" stroke="#00BFC4" stroke-width="3.0" stroke-linecap="round"/><path d="M93.1 68.2h0M78.3 48.1h0M85.2 53.8h0" stroke="#F8766D" stroke-width="3.0" stroke-linecap="round"/><path d="M92.7 36.6h0" stroke="#00BFC4" stroke-width="3.0" stroke-linecap="round"/><path d="M93.5 60.9h0M75.7 67.4h0M56.5 45.4h0M63.2 22.2h0" stroke="#F8766D" stroke-width="3.0" stroke-linecap="round"/><path d="M70.4 47.2h0" stroke="#00BFC4" stroke-width="3.0" stroke-linecap="round"/><path d="M65.2 49.3h0M67.4 46.1h0" stroke="#F8766D" stroke-width="3.0" stroke-linecap="round"/><path d="M71.8 51.4h0" stroke="#00BFC4" stroke-width="3.0" stroke-linecap="round"/><path d="M87.4 50.3h0M67.2 41.2h0" stroke="#F8766D" stroke-width="3.0" stroke-linecap="round"/><path d="M95.0 60.2h0M73.2 57.4h0" stroke="#00BFC4" stroke-width="3.0" stroke-linecap="round"/><path d="M50.1 36.9h0M62.9 39.9h0" stroke="#F8766D" stroke-width="3.0" stroke-linecap="round"/><path d="M58.1 22.7h0M91.9 54.1h0" stroke="#00BFC4" stroke-width="3.0" stroke-linecap="round"/><path d="M94.5 58.6h0M63.9 54.4h0M59.6 26.0h0" stroke="#F8766D" stroke-width="3.0" stroke-linecap="round"/><path d="M61.0 33.1h0M76.4 29.5h0M85.7 67.0h0M72.2 67.6h0M71.9 64.0h0M74.4 40.2h0M85.3 48.3h0" stroke="#00BFC4" stroke-width="3.0" stroke-linecap="round"/><path d="M68.9 25.8h0" stroke="#F8766D" stroke-width="3.0" stroke-linecap="round"/><path d="M87.6 40.7h0" stroke="#00BFC4" stroke-width="3.0" stroke-linecap="round"/><path d="M64.2 31.8h0M92.8 65.0h0" stroke="#F8766D" stroke-width="3.0" stroke-linecap="round"/><path d="M75.7 47.6h0" stroke="#00BFC4" stroke-width="3.0" stroke-linecap="round"/><path d="M56.4 45.5h0" stroke="#F8766D" stroke-width="3.0" stroke-linecap="round"/><path d="M56.0 30.6h0" stroke="#00BFC4" stroke-width="3.0" stroke-linecap="round"/><path d="M71.9 36.3h0" stroke="#F8766D" stroke-width="3.0" stroke-linecap="round"/><path d="M81.6 32.4h0" stroke="#00BFC4" stroke-width="3.0" stroke-linecap="round"/><path d="M67.8 22.7h0" stroke="#F8766D" stroke-width="3.0" stroke-linecap="round"/><path d="M75.4 23.7h0M66.1 51.7h0" stroke="#00BFC4" stroke-width="3.0" stroke-linecap="round"/><path d="M56.6 32.5h0" stroke="#F8766D" stroke-width="3.0" stroke-linecap="round"/><path d="M85.8 61.9h0M53.9 36.6h0M86.2 41.6h0" stroke="#00BFC4" stroke-width="3.0" stroke-linecap="round"/><path d="M86.7 62.4h0M61.3 49.0h0" stroke="#F8766D" stroke-width="3.0" stroke-linecap="round"/><path d="M66.5 38.6h0M81.5 23.7h0M95.9 50.1h0" stroke="#00BFC4" stroke-width="3.0" stroke-linecap="round"/><path d="M74.2 55.0h0" stroke="#F8766D" stroke-width="3.0" stroke-linecap="round"/><path d="M63.5 39.2h0M74.9 48.5h0M65.9 41.8h0M60.0 25.3h0M58.1 37.3h0M79.4 57.2h0M70.7 68.2h0M84.7 39.0h0M94.7 40.8h0M84.6 47.4h0" stroke="#00BFC4" stroke-width="3.0" stroke-linecap="round"/><path d="M83.3 33.6h0" stroke="#F8766D" stroke-width="3.0" stroke-linecap="round"/><path d="M90.3 59.1h0M85.1 42.3h0" stroke="#00BFC4" stroke-width="3.0" stroke-linecap="round"/><path d="M69.9 23.7h0" stroke="#F8766D" stroke-width="3.0" stroke-linecap="round"/><path d="M70.7 39.5h0M93.0 38.1h0M88.2 52.5h0M73.6 48.5h0" stroke="#00BFC4" stroke-width="3.0" stroke-linecap="round"/><path d="M76.3 52.5h0" stroke="#F8766D" stroke-width="3.0" stroke-linecap="round"/><path d="M55.7 38.3h0" stroke="#00BFC4" stroke-width="3.0" stroke-linecap="round"/><path d="M73.4 63.0h0" stroke="#F8766D" stroke-width="3.0" stroke-linecap="round"/><path d="M101.0 45.7h0" stroke="#00BFC4" stroke-width="3.0" stroke-linecap="round"/><path d="M67.2 26.6h0M86.8 45.4h0M85.1 50.1h0M92.4 60.9h0M53.9 37.4h0" stroke="#F8766D" stroke-width="3.0" stroke-linecap="round"/><path d="M88.8 36.4h0" stroke="#00BFC4" stroke-width="3.0" stroke-linecap="round"/><path d="M68.0 52.9h0M68.1 43.8h0" stroke="#F8766D" stroke-width="3.0" stroke-linecap="round"/><path d="M65.4 33.2h0M76.7 35.6h0M88.3 57.4h0M68.1 28.1h0" stroke="#00BFC4" stroke-width="3.0" stroke-linecap="round"/><path d="M89.8 42.1h0" stroke="#F8766D" stroke-width="3.0" stroke-linecap="round"/><path d="M86.8 32.6h0" stroke="#00BFC4" stroke-width="3.0" stroke-linecap="round"/><path d="M96.3 64.2h0M80.5 27.5h0" stroke="#F8766D" stroke-width="3.0" stroke-linecap="round"/><path d="M70.1 33.4h0" stroke="#00BFC4" stroke-width="3.0" stroke-linecap="round"/><path d="M75.4 27.2h0" stroke="#F8766D" stroke-width="3.0" stroke-linecap="round"/><path d="M73.0 66.4h0" stroke="#00BFC4" stroke-width="3.0" stroke-linecap="round"/><path d="M100.4 60.7h0" stroke="#F8766D" stroke-width="3.0" stroke-linecap="round"/><path d="M75.5 41.9h0M82.3 33.1h0M88.3 59.5h0" stroke="#00BFC4" stroke-width="3.0" stroke-linecap="round"/><path d="M57.1 29.0h0" stroke="#F8766D" stroke-width="3.0" stroke-linecap="round"/><path d="M55.4 44.8h0" stroke="#00BFC4" stroke-width="3.0" stroke-linecap="round"/><path d="M73.6 55.7h0" stroke="#F8766D" stroke-width="3.0" stroke-linecap="round"/><path d="M70.6 60.5h0" stroke="#00BFC4" stroke-width="3.0" stroke-linecap="round"/><path d="M77.5 27.6h0" stroke="#F8766D" stroke-width="3.0" stroke-linecap="round"/><path d="M76.2 21.8h0M72.0 61.2h0M49.6 37.6h0" stroke="#00BFC4" stroke-width="3.0" stroke-linecap="round"/><path d="M62.6 55.8h0M77.3 54.2h0" stroke="#F8766D" stroke-width="3.0" stroke-linecap="round"/><path d="M95.7 63.6h0M81.3 49.4h0" stroke="#00BFC4" stroke-width="3.0" stroke-linecap="round"/><path d="M57.7 48.2h0" stroke="#F8766D" stroke-width="3.0" stroke-linecap="round"/><path d="M76.8 69.7h0" stroke="#00BFC4" stroke-width="3.0" stroke-linecap="round"/><path d="M62.7 60.2h0" stroke="#F8766D" stroke-width="3.0" stroke-linecap="round"/><path d="M65.8 53.6h0" stroke="#00BFC4" stroke-width="3.0" stroke-linecap="round"/><path d="M93.1 52.1h0M55.5 53.6h0" stroke="#F8766D" stroke-width="3.0" stroke-linecap="round"/><path d="M72.4 45.3h0M74.0 71.4h0M88.3 60.0h0M59.5 32.1h0" stroke="#00BFC4" stroke-width="3.0" stroke-linecap="round"/><path d="M86.6 49.0h0" stroke="#F8766D" stroke-width="3.0" stroke-linecap="round"/><path d="M80.8 32.7h0M62.0 29.8h0M65.3 45.9h0M85.3 55.0h0M78.8 51.9h0M98.7 63.9h0" stroke="#00BFC4" stroke-width="3.0" stroke-linecap="round"/><path d="M60.4 58.6h0M64.0 60.6h0M72.1 32.2h0M82.3 26.6h0M81.4 60.5h0M93.1 55.0h0M78.7 31.9h0M53.5 31.7h0M54.4 34.7h0M71.1 62.0h0M78.8 33.1h0M69.2 44.1h0" stroke="#F8766D" stroke-width="3.0" stroke-linecap="round"/><path d="M74.0 60.5h0" stroke="#00BFC4" stroke-width="3.0" stroke-linecap="round"/><path d="M85.8 47.0h0" stroke="#F8766D" stroke-width="3.0" stroke-linecap="round"/><path d="M57.2 46.0h0" stroke="#00BFC4" stroke-width="3.0" stroke-linecap="round"/><path d="M59.6 39.7h0M91.2 45.0h0" stroke="#F8766D" stroke-width="3.0" stroke-linecap="round"/><path d="M71.0 36.9h0" stroke="#00BFC4" stroke-width="3.0" stroke-linecap="round"/><path d="M99.7 55.9h0" stroke="#F8766D" stroke-width="3.0" stroke-linecap="round"/><path d="M63.4 37.0h0" stroke="#00BFC4" stroke-width="3.0" stroke-linecap="round"/><path d="M80.1 68.0h0" stroke="#F8766D" stroke-width="3.0" stroke-linecap="round"/><path d="M67.1 37.2h0M74.1 29.7h0" stroke="#00BFC4" stroke-width="3.0" stroke-linecap="round"/><path d="M66.0 37.8h0" stroke="#F8766D" stroke-width="3.0" stroke-linecap="round"/><path d="M80.0 61.0h0M89.2 35.3h0M59.2 27.9h0" stroke="#00BFC4" stroke-width="3.0" stroke-linecap="round"/><path d="M88.3 60.5h0M53.3 34.7h0" stroke="#F8766D" stroke-width="3.0" stroke-linecap="round"/><path d="M71.4 29.8h0M85.6 52.7h0" stroke="#00BFC4" stroke-width="3.0" stroke-linecap="round"/><path d="M94.6 58.1h0M55.0 41.7h0" stroke="#F8766D" stroke-width="3.0" stroke-linecap="round"/><path d="M89.4 54.4h0" stroke="#00BFC4" stroke-width="3.0" stroke-linecap="round"/><path d="M72.5 24.8h0M58.6 24.7h0" stroke="#F8766D" stroke-width="3.0" stroke-linecap="round"/><path d="M76.4 60.5h0M50.4 37.9h0" stroke="#00BFC4" stroke-width="3.0" stroke-linecap="round"/><path d="M82.8 28.3h0" stroke="#F8766D" stroke-width="3.0" stroke-linecap="round"/><path d="M84.2 48.8h0M91.1 58.6h0" stroke="#00BFC4" stroke-width="3.0" stroke-linecap="round"/><path d="M88.8 52.8h0" stroke="#F8766D" stroke-width="3.0" stroke-linecap="round"/><path d="M85.2 48.9h0M67.4 36.2h0" stroke="#00BFC4" stroke-width="3.0" stroke-linecap="round"/><path d="M73.9 45.4h0" stroke="#F8766D" stroke-width="3.0" stroke-linecap="round"/><path d="M61.5 35.9h0" stroke="#00BFC4" stroke-width="3.0" stroke-linecap="round"/><path d="M60.7 55.7h0" stroke="#F8766D" stroke-width="3.0" stroke-linecap="round"/><path d="M101.2 49.1h0" stroke="#00BFC4" stroke-width="3.0" stroke-linecap="round"/><path d="M64.2 53.6h0M82.8 25.5h0M67.7 43.1h0M85.2 47.4h0" stroke="#F8766D" stroke-width="3.0" stroke-linecap="round"/><path d="M75.5 61.9h0M72.7 23.3h0M70.2 66.5h0M72.8 46.6h0" stroke="#00BFC4" stroke-width="3.0" stroke-linecap="round"/><path d="M90.5 64.2h0" stroke="#F8766D" stroke-width="3.0" stroke-linecap="round"/><path d="M86.7 33.0h0" stroke="#00BFC4" stroke-width="3.0" stroke-linecap="round"/><path d="M97.3 65.1h0M74.0 20.0h0" stroke="#F8766D" stroke-width="3.0" stroke-linecap="round"/><path d="M72.0 64.9h0" stroke="#00BFC4" stroke-width="3.0" stroke-linecap="round"/><path d="M57.4 38.3h0" stroke="#F8766D" stroke-width="3.0" stroke-linecap="round"/><path d="M77.4 62.0h0M66.3 38.0h0M52.2 33.2h0M71.4 26.2h0" stroke="#00BFC4" stroke-width="3.0" stroke-linecap="round"/><path d="M76.9 55.1h0M75.8 62.7h0" stroke="#F8766D" stroke-width="3.0" stroke-linecap="round"/><path d="M85.1 66.9h0M63.2 61.1h0" stroke="#00BFC4" stroke-width="3.0" stroke-linecap="round"/><path d="M74.7 25.7h0" stroke="#F8766D" stroke-width="3.0" stroke-linecap="round"/><path d="M89.0 48.7h0" stroke="#00BFC4" stroke-width="3.0" stroke-linecap="round"/><path d="M77.6 58.1h0" stroke="#F8766D" stroke-width="3.0" stroke-linecap="round"/><path d="M61.4 57.5h0M72.6 36.0h0M79.1 51.0h0M84.1 52.5h0M78.5 64.9h0M92.9 61.3h0" stroke="#00BFC4" stroke-width="3.0" stroke-linecap="round"/><path d="M96.9 58.1h0M70.6 47.2h0" stroke="#F8766D" stroke-width="3.0" stroke-linecap="round"/><path d="M55.4 48.6h0M63.6 35.5h0" stroke="#00BFC4" stroke-width="3.0" stroke-linecap="round"/><path d="M70.0 48.9h0" stroke="#F8766D" stroke-width="3.0" stroke-linecap="round"/><path d="M61.3 38.3h0M65.3 46.5h0" stroke="#00BFC4" stroke-width="3.0" stroke-linecap="round"/><path d="M98.1 49.5h0M64.7 24.9h0" stroke="#F8766D" stroke-width="3.0" stroke-linecap="round"/><path d="M75.6 44.5h0M76.3 37.1h0M100.8 61.3h0M72.8 44.4h0M74.1 50.5h0" stroke="#00BFC4" stroke-width="3.0" stroke-linecap="round"/><path d="M61.1 26.0h0M76.8 30.6h0" stroke="#F8766D" stroke-width="3.0" stroke-linecap="round"/><path d="M74.2 58.8h0" stroke="#00BFC4" stroke-width="3.0" stroke-linecap="round"/><path d="M73.8 51.8h0M69.4 46.9h0" stroke="#F8766D" stroke-width="3.0" stroke-linecap="round"/><path d="M77.7 49.9h0M87.0 34.4h0" stroke="#00BFC4" stroke-width="3.0" stroke-linecap="round"/><path d="M83.9 62.6h0M54.5 40.6h0" stroke="#F8766D" stroke-width="3.0" stroke-linecap="round"/><path d="M57.1 36.1h0M88.6 43.5h0M59.0 47.8h0" stroke="#00BFC4" stroke-width="3.0" stroke-linecap="round"/><path d="M91.2 47.1h0M90.5 63.8h0M52.5 41.7h0" stroke="#F8766D" stroke-width="3.0" stroke-linecap="round"/><path d="M91.4 45.1h0M95.3 60.1h0" stroke="#00BFC4" stroke-width="3.0" stroke-linecap="round"/><path d="M60.7 59.7h0" stroke="#F8766D" stroke-width="3.0" stroke-linecap="round"/><path d="M61.7 42.7h0M69.5 20.3h0" stroke="#00BFC4" stroke-width="3.0" stroke-linecap="round"/><path d="M71.0 33.9h0" stroke="#F8766D" stroke-width="3.0" stroke-linecap="round"/><path d="M91.2 53.7h0" stroke="#00BFC4" stroke-width="3.0" stroke-linecap="round"/><path d="M59.4 58.7h0M91.2 53.9h0" stroke="#F8766D" stroke-width="3.0" stroke-linecap="round"/><path d="M64.5 52.4h0" stroke="#00BFC4" stroke-width="3.0" stroke-linecap="round"/><path d="M64.9 41.4h0" stroke="#F8766D" stroke-width="3.0" stroke-linecap="round"/><path d="M71.4 58.9h0M76.2 64.0h0M77.8 42.5h0M64.7 45.8h0M86.9 52.8h0M95.0 60.5h0" stroke="#00BFC4" stroke-width="3.0" stroke-linecap="round"/><path d="M67.2 37.0h0" stroke="#F8766D" stroke-width="3.0" stroke-linecap="round"/><path d="M61.8 53.2h0M96.1 43.4h0M81.1 68.6h0" stroke="#00BFC4" stroke-width="3.0" stroke-linecap="round"/><path d="M83.2 68.9h0M59.7 45.8h0M57.3 52.2h0M75.3 33.4h0" stroke="#F8766D" stroke-width="3.0" stroke-linecap="round"/><path d="M78.8 40.3h0" stroke="#00BFC4" stroke-width="3.0" stroke-linecap="round"/><path d="M96.0 64.3h0M64.3 45.5h0M84.0 55.5h0M58.4 40.5h0" stroke="#F8766D" stroke-width="3.0" stroke-linecap="round"/><path d="M100.8 53.6h0M86.5 37.3h0M81.7 47.7h0M84.3 29.9h0M81.4 66.1h0" stroke="#00BFC4" stroke-width="3.0" stroke-linecap="round"/><path d="M84.2 46.5h0" stroke="#F8766D" stroke-width="3.0" stroke-linecap="round"/><path d="M79.8 29.2h0M93.2 56.3h0M95.5 51.9h0M68.9 37.2h0" stroke="#00BFC4" stroke-width="3.0" stroke-linecap="round"/><path d="M80.6 44.4h0" stroke="#F8766D" stroke-width="3.0" stroke-linecap="round"/><path d="M91.5 43.6h0M61.0 32.2h0M74.6 70.8h0" stroke="#00BFC4" stroke-width="3.0" stroke-linecap="round"/><path d="M89.4 40.4h0M65.8 26.5h0" stroke="#F8766D" stroke-width="3.0" stroke-linecap="round"/><path d="M73.0 46.3h0" stroke="#00BFC4" stroke-width="3.0" stroke-linecap="round"/><path d="M54.0 42.6h0" stroke="#F8766D" stroke-width="3.0" stroke-linecap="round"/><path d="M81.8 41.7h0" stroke="#00BFC4" stroke-width="3.0" stroke-linecap="round"/><path d="M79.3 58.7h0" stroke="#F8766D" stroke-width="3.0" stroke-linecap="round"/><path d="M72.8 51.9h0" stroke="#00BFC4" stroke-width="3.0" stroke-linecap="round"/><path d="M61.5 49.4h0" stroke="#F8766D" stroke-width="3.0" stroke-linecap="round"/><path d="M81.7 58.6h0" stroke="#00BFC4" stroke-width="3.0" stroke-linecap="round"/><path d="M67.2 26.5h0M62.8 48.5h0M89.4 52.9h0" stroke="#F8766D" stroke-width="3.0" stroke-linecap="round"/><path d="M90.1 40.7h0" stroke="#00BFC4" stroke-width="3.0" stroke-linecap="round"/><path d="M86.2 57.0h0" stroke="#F8766D" stroke-width="3.0" stroke-linecap="round"/><path d="M52.3 40.6h0" stroke="#00BFC4" stroke-width="3.0" stroke-linecap="round"/><path d="M60.5 56.4h0" stroke="#F8766D" stroke-width="3.0" stroke-linecap="round"/><path d="M66.1 49.6h0M62.2 42.6h0M98.8 52.0h0M84.4 66.4h0" stroke="#00BFC4" stroke-width="3.0" stroke-linecap="round"/><path d="M58.5 39.6h0" stroke="#F8766D" stroke-width="3.0" stroke-linecap="round"/><path d="M87.5 50.0h0" stroke="#00BFC4" stroke-width="3.0" stroke-linecap="round"/><path d="M69.9 28.4h0" stroke="#F8766D" stroke-width="3.0" stroke-linecap="round"/><path d="M98.5 50.4h0M70.1 45.0h0M55.7 28.6h0" stroke="#00BFC4" stroke-width="3.0" stroke-linecap="round"/><path d="M59.8 58.3h0" stroke="#F8766D" stroke-width="3.0" stroke-linecap="round"/><path d="M71.7 22.4h0M64.8 25.8h0M65.0 27.3h0" stroke="#00BFC4" stroke-width="3.0" stroke-linecap="round"/><path d="M78.8 26.1h0" stroke="#F8766D" stroke-width="3.0" stroke-linecap="round"/><path d="M58.8 30.7h0M60.8 24.8h0M90.0 59.1h0M88.5 66.5h0M93.3 54.3h0" stroke="#00BFC4" stroke-width="3.0" stroke-linecap="round"/><path d="M56.1 41.2h0" stroke="#F8766D" stroke-width="3.0" stroke-linecap="round"/><path d="M94.8 66.0h0" stroke="#00BFC4" stroke-width="3.0" stroke-linecap="round"/><path d="M62.9 36.1h0M95.6 40.4h0" stroke="#F8766D" stroke-width="3.0" stroke-linecap="round"/><path d="M85.6 59.2h0M81.0 31.8h0M50.4 40.1h0M69.2 31.2h0" stroke="#00BFC4" stroke-width="3.0" stroke-linecap="round"/><path d="M79.7 68.5h0M65.3 37.0h0" stroke="#F8766D" stroke-width="3.0" stroke-linecap="round"/><path d="M64.5 26.3h0M73.6 53.0h0M86.1 62.5h0M88.7 58.7h0" stroke="#00BFC4" stroke-width="3.0" stroke-linecap="round"/><path d="M68.9 68.4h0M99.3 57.6h0" stroke="#F8766D" stroke-width="3.0" stroke-linecap="round"/><path d="M90.3 45.0h0M51.5 30.1h0M99.5 62.1h0M66.9 49.4h0" stroke="#00BFC4" stroke-width="3.0" stroke-linecap="round"/><path d="M52.5 31.6h0M70.6 34.8h0" stroke="#F8766D" stroke-width="3.0" stroke-linecap="round"/><path d="M64.3 19.9h0M92.8 50.2h0M59.8 37.2h0" stroke="#00BFC4" stroke-width="3.0" stroke-linecap="round"/><path d="M68.8 60.9h0M65.1 53.7h0M75.7 41.2h0M104.1 59.0h0M60.6 45.1h0" stroke="#F8766D" stroke-width="3.0" stroke-linecap="round"/><path d="M68.0 57.7h0M104.0 51.1h0M75.6 69.5h0M77.1 32.4h0" stroke="#00BFC4" stroke-width="3.0" stroke-linecap="round"/><path d="M66.0 48.5h0" stroke="#F8766D" stroke-width="3.0" stroke-linecap="round"/><path d="M60.6 62.4h0" stroke="#00BFC4" stroke-width="3.0" stroke-linecap="round"/><path d="M61.8 44.1h0M51.7 39.7h0" stroke="#F8766D" stroke-width="3.0" stroke-linecap="round"/><path d="M76.4 46.1h0" stroke="#00BFC4" stroke-width="3.0" stroke-linecap="round"/><path d="M83.5 33.0h0" stroke="#F8766D" stroke-width="3.0" stroke-linecap="round"/><path d="M72.7 23.4h0M70.5 50.5h0M79.7 61.4h0" stroke="#00BFC4" stroke-width="3.0" stroke-linecap="round"/><path d="M91.6 67.2h0" stroke="#F8766D" stroke-width="3.0" stroke-linecap="round"/><path d="M76.6 34.7h0M88.2 65.2h0" stroke="#00BFC4" stroke-width="3.0" stroke-linecap="round"/><path d="M95.5 54.7h0M85.9 45.3h0M79.0 34.8h0M69.0 52.3h0" stroke="#F8766D" stroke-width="3.0" stroke-linecap="round"/><path d="M71.6 44.4h0" stroke="#00BFC4" stroke-width="3.0" stroke-linecap="round"/><path d="M57.9 24.2h0M66.7 38.6h0" stroke="#F8766D" stroke-width="3.0" stroke-linecap="round"/><path d="M63.5 64.8h0" stroke="#00BFC4" stroke-width="3.0" stroke-linecap="round"/><path d="M61.8 54.4h0" stroke="#F8766D" stroke-width="3.0" stroke-linecap="round"/><path d="M85.9 48.4h0M88.0 47.4h0" stroke="#00BFC4" stroke-width="3.0" stroke-linecap="round"/><path d="M103.1 57.3h0M52.9 43.4h0M62.5 39.5h0" stroke="#F8766D" stroke-width="3.0" stroke-linecap="round"/><path d="M71.2 46.6h0M53.6 44.6h0" stroke="#00BFC4" stroke-width="3.0" stroke-linecap="round"/><path d="M65.1 46.7h0M69.0 51.0h0" stroke="#F8766D" stroke-width="3.0" stroke-linecap="round"/><path d="M82.4 65.0h0" stroke="#00BFC4" stroke-width="3.0" stroke-linecap="round"/><path d="M55.3 42.5h0M94.3 59.0h0M100.3 60.1h0M85.3 68.0h0M86.2 61.5h0" stroke="#F8766D" stroke-width="3.0" stroke-linecap="round"/><path d="M69.3 26.7h0M100.4 56.2h0M75.0 22.3h0M75.2 28.5h0" stroke="#00BFC4" stroke-width="3.0" stroke-linecap="round"/><path d="M60.9 38.0h0" stroke="#F8766D" stroke-width="3.0" stroke-linecap="round"/><path d="M83.2 43.2h0M61.3 25.2h0M80.2 31.0h0M86.1 66.8h0" stroke="#00BFC4" stroke-width="3.0" stroke-linecap="round"/><path d="M79.2 49.4h0M70.3 60.3h0M83.3 37.3h0M90.1 63.6h0M55.6 26.6h0" stroke="#F8766D" stroke-width="3.0" stroke-linecap="round"/><path d="M67.5 43.4h0M82.7 31.0h0" stroke="#00BFC4" stroke-width="3.0" stroke-linecap="round"/><path d="M81.2 47.0h0" stroke="#F8766D" stroke-width="3.0" stroke-linecap="round"/><path d="M70.5 61.6h0" stroke="#00BFC4" stroke-width="3.0" stroke-linecap="round"/><path d="M104.7 56.4h0" stroke="#F8766D" stroke-width="3.0" stroke-linecap="round"/><path d="M91.3 62.6h0M79.9 61.2h0M71.5 33.3h0M93.9 49.2h0M85.3 35.1h0M68.9 48.1h0" stroke="#00BFC4" stroke-width="3.0" stroke-linecap="round"/><path d="M53.3 44.1h0M67.3 31.6h0M60.0 48.0h0M65.4 31.3h0" stroke="#F8766D" stroke-width="3.0" stroke-linecap="round"/><path d="M89.5 68.8h0M56.2 47.6h0M49.8 36.3h0" stroke="#00BFC4" stroke-width="3.0" stroke-linecap="round"/><path d="M70.5 61.8h0" stroke="#F8766D" stroke-width="3.0" stroke-linecap="round"/><path d="M80.8 33.1h0M66.3 28.0h0" stroke="#00BFC4" stroke-width="3.0" stroke-linecap="round"/><path d="M77.5 52.6h0" stroke="#F8766D" stroke-width="3.0" stroke-linecap="round"/><path d="M86.4 69.0h0M88.0 58.2h0M81.6 35.6h0M89.9 49.3h0" stroke="#00BFC4" stroke-width="3.0" stroke-linecap="round"/><path d="M73.2 60.3h0M81.7 60.2h0" stroke="#F8766D" stroke-width="3.0" stroke-linecap="round"/><path d="M98.7 46.9h0" stroke="#00BFC4" stroke-width="3.0" stroke-linecap="round"/><path d="M64.2 50.1h0" stroke="#F8766D" stroke-width="3.0" stroke-linecap="round"/><path d="M81.9 67.3h0M82.7 41.8h0M77.9 54.9h0" stroke="#00BFC4" stroke-width="3.0" stroke-linecap="round"/><path d="M71.3 43.0h0M68.4 52.6h0M59.6 60.2h0M68.0 23.6h0M91.1 58.0h0" stroke="#F8766D" stroke-width="3.0" stroke-linecap="round"/><path d="M80.7 60.8h0M72.6 24.2h0M81.0 48.4h0M74.2 39.6h0" stroke="#00BFC4" stroke-width="3.0" stroke-linecap="round"/><path d="M68.0 23.6h0M59.7 26.5h0M81.0 38.8h0M95.4 46.1h0M86.8 40.4h0" stroke="#F8766D" stroke-width="3.0" stroke-linecap="round"/><path d="M70.5 54.2h0" stroke="#00BFC4" stroke-width="3.0" stroke-linecap="round"/><path d="M64.4 48.3h0" stroke="#F8766D" stroke-width="3.0" stroke-linecap="round"/><path d="M83.0 32.1h0M87.9 68.3h0M74.3 42.1h0" stroke="#00BFC4" stroke-width="3.0" stroke-linecap="round"/><path d="M101.1 63.7h0M64.1 31.7h0" stroke="#F8766D" stroke-width="3.0" stroke-linecap="round"/><path d="M79.7 38.4h0M67.6 26.9h0M77.9 53.3h0M74.8 34.7h0" stroke="#00BFC4" stroke-width="3.0" stroke-linecap="round"/><path d="M57.1 34.8h0" stroke="#F8766D" stroke-width="3.0" stroke-linecap="round"/><path d="M80.2 70.4h0M66.8 34.3h0" stroke="#00BFC4" stroke-width="3.0" stroke-linecap="round"/><path d="M71.8 59.5h0M70.5 41.7h0M97.1 53.0h0M88.1 38.4h0M60.7 21.9h0" stroke="#F8766D" stroke-width="3.0" stroke-linecap="round"/><path d="M70.0 58.5h0M65.0 58.1h0" stroke="#00BFC4" stroke-width="3.0" stroke-linecap="round"/><path d="M73.5 62.6h0M63.1 24.0h0" stroke="#F8766D" stroke-width="3.0" stroke-linecap="round"/><path d="M76.4 22.5h0M67.5 50.6h0M91.6 43.0h0M87.8 67.6h0M61.5 36.0h0" stroke="#00BFC4" stroke-width="3.0" stroke-linecap="round"/><path d="M61.3 50.7h0" stroke="#F8766D" stroke-width="3.0" stroke-linecap="round"/><path d="M99.5 51.7h0M93.4 60.8h0M86.3 69.2h0" stroke="#00BFC4" stroke-width="3.0" stroke-linecap="round"/><path d="M73.1 32.0h0" stroke="#F8766D" stroke-width="3.0" stroke-linecap="round"/><path d="M70.1 44.5h0M62.9 46.9h0M66.0 53.1h0" stroke="#00BFC4" stroke-width="3.0" stroke-linecap="round"/><path d="M52.4 50.0h0" stroke="#F8766D" stroke-width="3.0" stroke-linecap="round"/><path d="M54.4 26.9h0" stroke="#00BFC4" stroke-width="3.0" stroke-linecap="round"/><path d="M93.9 64.9h0" stroke="#F8766D" stroke-width="3.0" stroke-linecap="round"/><path d="M66.1 63.3h0M72.4 28.6h0" stroke="#00BFC4" stroke-width="3.0" stroke-linecap="round"/><path d="M91.9 58.0h0" stroke="#F8766D" stroke-width="3.0" stroke-linecap="round"/><path d="M96.9 56.3h0M87.8 52.0h0M73.1 22.4h0M97.7 63.3h0M55.9 48.6h0M77.7 37.4h0M59.8 21.2h0M70.1 40.1h0M76.1 44.8h0M74.3 63.8h0" stroke="#00BFC4" stroke-width="3.0" stroke-linecap="round"/><path d="M69.3 25.3h0M62.7 42.2h0M79.6 45.1h0" stroke="#F8766D" stroke-width="3.0" stroke-linecap="round"/><path d="M83.4 66.7h0M94.4 64.2h0M86.9 61.6h0M62.9 39.8h0" stroke="#00BFC4" stroke-width="3.0" stroke-linecap="round"/><path d="M53.5 35.0h0" stroke="#F8766D" stroke-width="3.0" stroke-linecap="round"/><path d="M97.9 49.1h0" stroke="#00BFC4" stroke-width="3.0" stroke-linecap="round"/><path d="M55.7 53.1h0" stroke="#F8766D" stroke-width="3.0" stroke-linecap="round"/><path d="M93.3 47.1h0M98.3 50.8h0M63.9 33.7h0M65.3 34.3h0" stroke="#00BFC4" stroke-width="3.0" stroke-linecap="round"/><path d="M81.0 68.3h0M60.2 53.2h0M89.3 42.1h0M55.9 31.5h0M64.6 34.9h0M59.4 52.6h0" stroke="#F8766D" stroke-width="3.0" stroke-linecap="round"/><path d="M72.3 17.8h0" stroke="#00BFC4" stroke-width="3.0" stroke-linecap="round"/><path d="M84.9 57.7h0" stroke="#F8766D" stroke-width="3.0" stroke-linecap="round"/><path d="M72.7 32.5h0M86.2 49.2h0M58.9 48.6h0M94.6 39.8h0" stroke="#00BFC4" stroke-width="3.0" stroke-linecap="round"/><path d="M76.9 40.5h0M62.4 56.7h0" stroke="#F8766D" stroke-width="3.0" stroke-linecap="round"/><path d="M74.3 54.7h0" stroke="#00BFC4" stroke-width="3.0" stroke-linecap="round"/><path d="M85.2 55.1h0" stroke="#F8766D" stroke-width="3.0" stroke-linecap="round"/><path d="M62.4 22.3h0" stroke="#00BFC4" stroke-width="3.0" stroke-linecap="round"/><path d="M51.9 32.3h0" stroke="#F8766D" stroke-width="3.0" stroke-linecap="round"/><path d="M72.2 44.6h0" stroke="#00BFC4" stroke-width="3.0" stroke-linecap="round"/><path d="M88.4 40.1h0M90.5 49.8h0M84.4 34.6h0M55.9 36.3h0" stroke="#F8766D" stroke-width="3.0" stroke-linecap="round"/><path d="M96.6 41.5h0" stroke="#00BFC4" stroke-width="3.0" stroke-linecap="round"/><path d="M71.1 50.5h0" stroke="#F8766D" stroke-width="3.0" stroke-linecap="round"/><path d="M62.8 40.8h0" stroke="#00BFC4" stroke-width="3.0" stroke-linecap="round"/><path d="M60.6 59.6h0" stroke="#F8766D" stroke-width="3.0" stroke-linecap="round"/><path d="M70.3 32.0h0" stroke="#00BFC4" stroke-width="3.0" stroke-linecap="round"/><path d="M70.3 56.9h0M86.5 54.4h0" stroke="#F8766D" stroke-width="3.0" stroke-linecap="round"/><path d="M75.2 60.0h0M99.4 60.7h0" stroke="#00BFC4" stroke-width="3.0" stroke-linecap="round"/><path d="M63.8 30.1h0M59.0 39.8h0" stroke="#F8766D" stroke-width="3.0" stroke-linecap="round"/><path d="M98.7 67.6h0M79.2 48.1h0" stroke="#00BFC4" stroke-width="3.0" stroke-linecap="round"/><path d="M87.6 59.2h0M84.4 69.4h0" stroke="#F8766D" stroke-width="3.0" stroke-linecap="round"/><path d="M87.0 49.2h0M66.0 27.3h0M62.5 29.4h0M68.7 55.0h0" stroke="#00BFC4" stroke-width="3.0" stroke-linecap="round"/><path d="M66.9 42.5h0" stroke="#F8766D" stroke-width="3.0" stroke-linecap="round"/><path d="M69.1 27.0h0M70.4 41.6h0" stroke="#00BFC4" stroke-width="3.0" stroke-linecap="round"/><path d="M96.6 42.3h0" stroke="#F8766D" stroke-width="3.0" stroke-linecap="round"/><path d="M84.0 36.2h0" stroke="#00BFC4" stroke-width="3.0" stroke-linecap="round"/><path d="M64.5 33.6h0" stroke="#F8766D" stroke-width="3.0" stroke-linecap="round"/><path d="M60.4 49.0h0M89.1 34.3h0M81.1 69.7h0" stroke="#00BFC4" stroke-width="3.0" stroke-linecap="round"/><path d="M98.4 60.5h0M58.6 42.3h0" stroke="#F8766D" stroke-width="3.0" stroke-linecap="round"/><path d="M63.2 32.3h0M69.9 58.3h0" stroke="#00BFC4" stroke-width="3.0" stroke-linecap="round"/><path d="M87.3 35.5h0M69.2 31.8h0" stroke="#F8766D" stroke-width="3.0" stroke-linecap="round"/><path d="M84.1 42.5h0M81.8 25.1h0" stroke="#00BFC4" stroke-width="3.0" stroke-linecap="round"/><path d="M72.8 26.9h0" stroke="#F8766D" stroke-width="3.0" stroke-linecap="round"/><path d="M79.9 41.7h0M69.5 29.7h0M71.0 54.6h0M88.6 55.7h0M72.9 45.7h0M103.7 59.0h0M88.8 58.5h0" stroke="#00BFC4" stroke-width="3.0" stroke-linecap="round"/><path d="M91.1 58.4h0M73.5 53.4h0M64.3 42.0h0M53.9 34.7h0" stroke="#F8766D" stroke-width="3.0" stroke-linecap="round"/><path d="M101.9 48.2h0M86.3 70.6h0M78.0 69.5h0" stroke="#00BFC4" stroke-width="3.0" stroke-linecap="round"/><path d="M59.9 59.5h0M69.8 33.2h0" stroke="#F8766D" stroke-width="3.0" stroke-linecap="round"/><path d="M80.9 70.7h0M72.6 71.7h0M79.5 63.3h0M88.2 56.7h0M65.9 57.4h0" stroke="#00BFC4" stroke-width="3.0" stroke-linecap="round"/><path d="M52.5 27.5h0" stroke="#F8766D" stroke-width="3.0" stroke-linecap="round"/><path d="M69.2 45.5h0M66.3 50.2h0M73.0 38.1h0" stroke="#00BFC4" stroke-width="3.0" stroke-linecap="round"/><path d="M82.9 61.0h0M59.4 24.6h0" stroke="#F8766D" stroke-width="3.0" stroke-linecap="round"/><path d="M63.5 23.8h0" stroke="#00BFC4" stroke-width="3.0" stroke-linecap="round"/><path d="M65.8 48.9h0" stroke="#F8766D" stroke-width="3.0" stroke-linecap="round"/><path d="M71.9 28.1h0M70.9 60.2h0M95.8 52.3h0M70.8 26.5h0" stroke="#00BFC4" stroke-width="3.0" stroke-linecap="round"/><path d="M59.7 36.0h0" stroke="#F8766D" stroke-width="3.0" stroke-linecap="round"/><path d="M83.2 51.7h0M89.4 58.3h0M72.0 66.7h0" stroke="#00BFC4" stroke-width="3.0" stroke-linecap="round"/><path d="M71.8 24.5h0" stroke="#F8766D" stroke-width="3.0" stroke-linecap="round"/><path d="M74.7 24.9h0" stroke="#00BFC4" stroke-width="3.0" stroke-linecap="round"/><path d="M98.5 65.1h0" stroke="#F8766D" stroke-width="3.0" stroke-linecap="round"/><path d="M62.8 22.0h0M90.0 38.8h0" stroke="#00BFC4" stroke-width="3.0" stroke-linecap="round"/><path d="M56.1 35.8h0M86.2 46.8h0M86.7 52.5h0M52.2 38.0h0M62.5 32.9h0M54.8 28.9h0" stroke="#F8766D" stroke-width="3.0" stroke-linecap="round"/><path d="M80.4 58.4h0" stroke="#00BFC4" stroke-width="3.0" stroke-linecap="round"/><path d="M75.6 67.9h0" stroke="#F8766D" stroke-width="3.0" stroke-linecap="round"/><path d="M73.3 32.8h0M63.5 39.4h0" stroke="#00BFC4" stroke-width="3.0" stroke-linecap="round"/><path d="M70.8 61.0h0M80.0 66.0h0M73.1 26.2h0" stroke="#F8766D" stroke-width="3.0" stroke-linecap="round"/><path d="M59.0 59.9h0" stroke="#00BFC4" stroke-width="3.0" stroke-linecap="round"/><path d="M63.6 39.3h0M96.6 54.9h0M72.5 48.2h0" stroke="#F8766D" stroke-width="3.0" stroke-linecap="round"/><path d="M71.2 35.3h0" stroke="#00BFC4" stroke-width="3.0" stroke-linecap="round"/><path d="M53.1 40.2h0M57.8 25.4h0M68.8 51.3h0" stroke="#F8766D" stroke-width="3.0" stroke-linecap="round"/><path d="M92.8 53.1h0" stroke="#00BFC4" stroke-width="3.0" stroke-linecap="round"/><path d="M71.7 22.5h0" stroke="#F8766D" stroke-width="3.0" stroke-linecap="round"/><path d="M81.1 53.1h0" stroke="#00BFC4" stroke-width="3.0" stroke-linecap="round"/><path d="M68.8 29.3h0M70.9 23.6h0M84.5 66.7h0M83.3 34.1h0" stroke="#F8766D" stroke-width="3.0" stroke-linecap="round"/><path d="M89.1 57.1h0M59.1 27.9h0" stroke="#00BFC4" stroke-width="3.0" stroke-linecap="round"/><path d="M80.1 57.3h0M50.4 32.0h0M51.4 40.7h0M72.5 33.5h0" stroke="#F8766D" stroke-width="3.0" stroke-linecap="round"/><path d="M100.4 56.0h0M82.0 55.0h0M93.3 61.2h0M70.4 42.6h0M57.7 29.2h0M91.1 64.2h0" stroke="#00BFC4" stroke-width="3.0" stroke-linecap="round"/><path d="M88.9 60.6h0" stroke="#F8766D" stroke-width="3.0" stroke-linecap="round"/><path d="M85.7 35.9h0M51.6 37.2h0M90.5 66.7h0" stroke="#00BFC4" stroke-width="3.0" stroke-linecap="round"/><path d="M52.7 43.1h0M73.6 50.3h0M98.3 50.8h0M90.4 33.9h0" stroke="#F8766D" stroke-width="3.0" stroke-linecap="round"/><path d="M89.8 47.0h0M69.2 26.0h0M77.9 68.8h0M86.7 44.0h0M86.9 38.3h0" stroke="#00BFC4" stroke-width="3.0" stroke-linecap="round"/><path d="M81.6 62.3h0M93.2 66.3h0" stroke="#F8766D" stroke-width="3.0" stroke-linecap="round"/><path d="M64.6 56.8h0" stroke="#00BFC4" stroke-width="3.0" stroke-linecap="round"/><path d="M81.4 33.2h0M70.5 51.8h0" stroke="#F8766D" stroke-width="3.0" stroke-linecap="round"/><path d="M60.3 61.5h0M79.8 36.6h0" stroke="#00BFC4" stroke-width="3.0" stroke-linecap="round"/><path d="M99.2 49.6h0" stroke="#F8766D" stroke-width="3.0" stroke-linecap="round"/><path d="M93.0 60.4h0M96.3 47.4h0" stroke="#00BFC4" stroke-width="3.0" stroke-linecap="round"/><path d="M102.7 60.3h0M72.4 44.1h0" stroke="#F8766D" stroke-width="3.0" stroke-linecap="round"/><path d="M87.5 67.9h0M82.1 36.6h0M91.8 42.7h0" stroke="#00BFC4" stroke-width="3.0" stroke-linecap="round"/><path d="M64.5 51.2h0" stroke="#F8766D" stroke-width="3.0" stroke-linecap="round"/><path d="M93.9 53.3h0" stroke="#00BFC4" stroke-width="3.0" stroke-linecap="round"/><path d="M89.8 58.3h0" stroke="#F8766D" stroke-width="3.0" stroke-linecap="round"/><path d="M75.5 25.0h0M60.0 41.8h0M76.3 48.4h0M99.5 60.2h0" stroke="#00BFC4" stroke-width="3.0" stroke-linecap="round"/><path d="M86.1 55.8h0" stroke="#F8766D" stroke-width="3.0" stroke-linecap="round"/><path d="M64.1 60.3h0" stroke="#00BFC4" stroke-width="3.0" stroke-linecap="round"/><path d="M65.8 26.0h0M77.1 48.6h0" stroke="#F8766D" stroke-width="3.0" stroke-linecap="round"/><path d="M52.1 35.1h0" stroke="#00BFC4" stroke-width="3.0" stroke-linecap="round"/><path d="M103.2 47.3h0M78.5 45.2h0M54.9 39.4h0M88.9 38.5h0M97.4 55.4h0" stroke="#F8766D" stroke-width="3.0" stroke-linecap="round"/><path d="M74.8 47.6h0" stroke="#00BFC4" stroke-width="3.0" stroke-linecap="round"/><path d="M55.0 30.0h0" stroke="#F8766D" stroke-width="3.0" stroke-linecap="round"/><path d="M62.5 54.5h0" stroke="#00BFC4" stroke-width="3.0" stroke-linecap="round"/><path d="M64.6 47.5h0" stroke="#F8766D" stroke-width="3.0" stroke-linecap="round"/><path d="M67.4 47.0h0M73.8 55.4h0" stroke="#00BFC4" stroke-width="3.0" stroke-linecap="round"/><path d="M55.4 37.7h0" stroke="#F8766D" stroke-width="3.0" stroke-linecap="round"/><path d="M97.7 57.4h0M84.0 42.2h0M77.3 42.9h0M73.4 50.0h0M102.7 53.3h0" stroke="#00BFC4" stroke-width="3.0" stroke-linecap="round"/><path d="M61.5 24.5h0" stroke="#F8766D" stroke-width="3.0" stroke-linecap="round"/><path d="M65.9 54.3h0M61.9 22.3h0M73.8 39.3h0" stroke="#00BFC4" stroke-width="3.0" stroke-linecap="round"/><path d="M97.2 61.3h0" stroke="#F8766D" stroke-width="3.0" stroke-linecap="round"/><path d="M96.2 60.9h0M89.7 65.9h0M70.6 45.6h0M86.0 38.0h0M83.4 66.2h0M70.0 30.7h0M92.3 37.6h0" stroke="#00BFC4" stroke-width="3.0" stroke-linecap="round"/><path d="M53.0 35.5h0M86.7 47.8h0" stroke="#F8766D" stroke-width="3.0" stroke-linecap="round"/><path d="M84.3 71.4h0" stroke="#00BFC4" stroke-width="3.0" stroke-linecap="round"/><path d="M96.8 53.3h0" stroke="#F8766D" stroke-width="3.0" stroke-linecap="round"/><path d="M87.2 33.0h0M63.0 24.4h0" stroke="#00BFC4" stroke-width="3.0" stroke-linecap="round"/><path d="M55.9 30.0h0M64.2 38.2h0M76.0 25.0h0M55.6 43.8h0" stroke="#F8766D" stroke-width="3.0" stroke-linecap="round"/><path d="M77.6 37.5h0" stroke="#00BFC4" stroke-width="3.0" stroke-linecap="round"/><path d="M65.9 62.0h0" stroke="#F8766D" stroke-width="3.0" stroke-linecap="round"/><path d="M83.7 35.8h0M67.6 63.1h0M88.3 59.0h0M82.1 49.9h0" stroke="#00BFC4" stroke-width="3.0" stroke-linecap="round"/><path d="M51.7 46.9h0" stroke="#F8766D" stroke-width="3.0" stroke-linecap="round"/><path d="M97.5 63.8h0M78.1 50.5h0M75.5 53.7h0M70.3 25.7h0M88.2 41.2h0" stroke="#00BFC4" stroke-width="3.0" stroke-linecap="round"/><path d="M98.6 49.4h0" stroke="#F8766D" stroke-width="3.0" stroke-linecap="round"/><path d="M54.0 34.8h0" stroke="#00BFC4" stroke-width="3.0" stroke-linecap="round"/><path d="M74.2 50.3h0M55.2 49.8h0M69.1 65.7h0" stroke="#F8766D" stroke-width="3.0" stroke-linecap="round"/><path d="M65.9 55.8h0M74.9 51.0h0M97.9 59.2h0M77.8 69.6h0M88.7 41.2h0M71.5 63.3h0" stroke="#00BFC4" stroke-width="3.0" stroke-linecap="round"/><path d="M72.4 56.5h0" stroke="#F8766D" stroke-width="3.0" stroke-linecap="round"/><path d="M74.9 28.2h0M94.9 51.2h0" stroke="#00BFC4" stroke-width="3.0" stroke-linecap="round"/><path d="M55.9 40.3h0" stroke="#F8766D" stroke-width="3.0" stroke-linecap="round"/><path d="M80.3 46.3h0M99.4 50.6h0" stroke="#00BFC4" stroke-width="3.0" stroke-linecap="round"/><path d="M57.5 24.4h0" stroke="#F8766D" stroke-width="3.0" stroke-linecap="round"/><path d="M82.8 70.3h0M101.1 63.4h0" stroke="#00BFC4" stroke-width="3.0" stroke-linecap="round"/><path d="M66.5 44.3h0M93.6 40.1h0M68.0 24.3h0" stroke="#F8766D" stroke-width="3.0" stroke-linecap="round"/><path d="M63.5 29.5h0M82.9 36.5h0M61.8 39.9h0" stroke="#00BFC4" stroke-width="3.0" stroke-linecap="round"/><path d="M75.3 24.6h0M74.1 36.7h0" stroke="#F8766D" stroke-width="3.0" stroke-linecap="round"/><path d="M60.5 48.8h0M69.3 36.4h0M80.8 59.3h0M65.2 48.7h0M74.3 55.6h0" stroke="#00BFC4" stroke-width="3.0" stroke-linecap="round"/><path d="M70.2 39.3h0M77.8 59.2h0" stroke="#F8766D" stroke-width="3.0" stroke-linecap="round"/><path d="M85.7 64.1h0" stroke="#00BFC4" stroke-width="3.0" stroke-linecap="round"/><path d="M93.8 63.9h0" stroke="#F8766D" stroke-width="3.0" stroke-linecap="round"/><path d="M94.4 59.9h0M64.1 39.8h0M96.2 37.1h0M74.6 45.3h0M82.1 46.5h0M82.1 61.6h0" stroke="#00BFC4" stroke-width="3.0" stroke-linecap="round"/><path d="M69.6 50.9h0M59.1 51.5h0" stroke="#F8766D" stroke-width="3.0" stroke-linecap="round"/><path d="M69.0 47.3h0" stroke="#00BFC4" stroke-width="3.0" stroke-linecap="round"/><path d="M55.2 30.3h0M58.7 58.2h0" stroke="#F8766D" stroke-width="3.0" stroke-linecap="round"/><path d="M76.0 25.4h0" stroke="#00BFC4" stroke-width="3.0" stroke-linecap="round"/><path d="M55.1 31.4h0" stroke="#F8766D" stroke-width="3.0" stroke-linecap="round"/><path d="M61.1 25.8h0M77.7 62.5h0" stroke="#00BFC4" stroke-width="3.0" stroke-linecap="round"/><path d="M68.7 40.6h0" stroke="#F8766D" stroke-width="3.0" stroke-linecap="round"/><path d="M96.1 44.5h0" stroke="#00BFC4" stroke-width="3.0" stroke-linecap="round"/><path d="M64.1 43.4h0M87.0 47.4h0" stroke="#F8766D" stroke-width="3.0" stroke-linecap="round"/><path d="M87.5 69.0h0M98.0 49.4h0" stroke="#00BFC4" stroke-width="3.0" stroke-linecap="round"/><path d="M76.1 60.9h0" stroke="#F8766D" stroke-width="3.0" stroke-linecap="round"/><path d="M91.7 63.5h0M67.9 67.5h0M88.2 55.1h0M85.2 62.8h0M60.2 64.4h0M77.9 72.3h0M86.1 49.8h0" stroke="#00BFC4" stroke-width="3.0" stroke-linecap="round"/><path d="M86.2 39.0h0" stroke="#F8766D" stroke-width="3.0" stroke-linecap="round"/><path d="M77.6 43.1h0M79.0 49.5h0M88.3 60.5h0M88.5 70.2h0" stroke="#00BFC4" stroke-width="3.0" stroke-linecap="round"/><path d="M73.0 61.0h0" stroke="#F8766D" stroke-width="3.0" stroke-linecap="round"/><path d="M74.7 45.6h0" stroke="#00BFC4" stroke-width="3.0" stroke-linecap="round"/><path d="M64.7 50.4h0" stroke="#F8766D" stroke-width="3.0" stroke-linecap="round"/><path d="M80.0 51.4h0" stroke="#00BFC4" stroke-width="3.0" stroke-linecap="round"/><path d="M70.9 48.1h0" stroke="#F8766D" stroke-width="3.0" stroke-linecap="round"/><path d="M76.7 25.3h0M66.6 35.0h0" stroke="#00BFC4" stroke-width="3.0" stroke-linecap="round"/><path d="M61.8 50.4h0" stroke="#F8766D" stroke-width="3.0" stroke-linecap="round"/><path d="M87.6 62.0h0M97.6 50.6h0" stroke="#00BFC4" stroke-width="3.0" stroke-linecap="round"/><path d="M61.9 64.3h0" stroke="#F8766D" stroke-width="3.0" stroke-linecap="round"/><path d="M72.0 43.3h0" stroke="#00BFC4" stroke-width="3.0" stroke-linecap="round"/><path d="M75.1 38.8h0M68.0 65.4h0M60.0 23.6h0M67.6 55.7h0M68.7 43.0h0" stroke="#F8766D" stroke-width="3.0" stroke-linecap="round"/><path d="M56.0 51.5h0" stroke="#00BFC4" stroke-width="3.0" stroke-linecap="round"/><path d="M91.4 38.6h0" stroke="#F8766D" stroke-width="3.0" stroke-linecap="round"/><path d="M58.8 50.5h0M62.1 36.2h0M80.3 41.8h0" stroke="#00BFC4" stroke-width="3.0" stroke-linecap="round"/><path d="M60.4 50.5h0M62.0 31.6h0" stroke="#F8766D" stroke-width="3.0" stroke-linecap="round"/><path d="M60.7 33.0h0" stroke="#00BFC4" stroke-width="3.0" stroke-linecap="round"/><path d="M62.3 45.0h0M58.6 42.5h0" stroke="#F8766D" stroke-width="3.0" stroke-linecap="round"/><path d="M83.8 71.7h0M92.1 66.5h0M82.3 63.4h0" stroke="#00BFC4" stroke-width="3.0" stroke-linecap="round"/><path d="M96.7 63.1h0M87.7 55.4h0" stroke="#F8766D" stroke-width="3.0" stroke-linecap="round"/><path d="M80.3 28.6h0" stroke="#00BFC4" stroke-width="3.0" stroke-linecap="round"/><path d="M69.8 26.8h0" stroke="#F8766D" stroke-width="3.0" stroke-linecap="round"/><path d="M84.6 66.8h0" stroke="#00BFC4" stroke-width="3.0" stroke-linecap="round"/><path d="M83.1 44.1h0" stroke="#F8766D" stroke-width="3.0" stroke-linecap="round"/><path d="M88.9 35.3h0" stroke="#00BFC4" stroke-width="3.0" stroke-linecap="round"/><path d="M99.7 53.5h0M78.6 34.1h0" stroke="#F8766D" stroke-width="3.0" stroke-linecap="round"/><path d="M79.1 33.6h0" stroke="#00BFC4" stroke-width="3.0" stroke-linecap="round"/><path d="M55.6 47.2h0" stroke="#F8766D" stroke-width="3.0" stroke-linecap="round"/><path d="M90.1 63.2h0" stroke="#00BFC4" stroke-width="3.0" stroke-linecap="round"/><path d="M54.0 49.5h0M61.0 34.4h0M91.9 59.5h0" stroke="#F8766D" stroke-width="3.0" stroke-linecap="round"/><path d="M94.3 68.0h0" stroke="#00BFC4" stroke-width="3.0" stroke-linecap="round"/><path d="M71.3 43.8h0" stroke="#F8766D" stroke-width="3.0" stroke-linecap="round"/><path d="M79.8 32.0h0" stroke="#00BFC4" stroke-width="3.0" stroke-linecap="round"/><path d="M88.5 60.4h0" stroke="#F8766D" stroke-width="3.0" stroke-linecap="round"/><path d="M92.0 56.7h0M77.9 45.7h0M76.4 66.4h0M62.1 29.7h0M55.8 30.6h0M62.1 22.6h0" stroke="#00BFC4" stroke-width="3.0" stroke-linecap="round"/><path d="M97.3 61.2h0" stroke="#F8766D" stroke-width="3.0" stroke-linecap="round"/><path d="M93.5 63.5h0" stroke="#00BFC4" stroke-width="3.0" stroke-linecap="round"/><path d="M84.4 41.2h0" stroke="#F8766D" stroke-width="3.0" stroke-linecap="round"/><path d="M51.4 29.5h0" stroke="#00BFC4" stroke-width="3.0" stroke-linecap="round"/><path d="M65.0 40.0h0M61.1 56.6h0M79.6 43.9h0" stroke="#F8766D" stroke-width="3.0" stroke-linecap="round"/><path d="M64.0 23.6h0M67.8 22.2h0" stroke="#00BFC4" stroke-width="3.0" stroke-linecap="round"/><path d="M64.5 45.7h0M59.3 59.3h0" stroke="#F8766D" stroke-width="3.0" stroke-linecap="round"/><path d="M72.6 51.6h0M50.0 39.9h0M86.1 54.7h0" stroke="#00BFC4" stroke-width="3.0" stroke-linecap="round"/><path d="M54.5 42.9h0" stroke="#F8766D" stroke-width="3.0" stroke-linecap="round"/><path d="M77.3 55.2h0M90.9 52.1h0M74.5 61.6h0M99.1 49.3h0M58.2 36.0h0" stroke="#00BFC4" stroke-width="3.0" stroke-linecap="round"/><path d="M73.3 32.9h0" stroke="#F8766D" stroke-width="3.0" stroke-linecap="round"/><path d="M89.8 65.5h0" stroke="#00BFC4" stroke-width="3.0" stroke-linecap="round"/><path d="M79.1 59.3h0" stroke="#F8766D" stroke-width="3.0" stroke-linecap="round"/><path d="M57.3 38.9h0M73.4 56.2h0M60.8 62.1h0M83.6 51.6h0" stroke="#00BFC4" stroke-width="3.0" stroke-linecap="round"/><path d="M55.5 38.5h0M57.2 54.4h0M85.3 57.5h0" stroke="#F8766D" stroke-width="3.0" stroke-linecap="round"/><path d="M84.6 29.9h0M79.8 51.0h0" stroke="#00BFC4" stroke-width="3.0" stroke-linecap="round"/><path d="M85.4 50.8h0M83.8 49.8h0M65.6 32.7h0M95.1 65.8h0" stroke="#F8766D" stroke-width="3.0" stroke-linecap="round"/><path d="M85.2 43.2h0M61.4 26.0h0M86.9 36.3h0" stroke="#00BFC4" stroke-width="3.0" stroke-linecap="round"/><path d="M58.3 46.9h0M77.0 25.4h0" stroke="#F8766D" stroke-width="3.0" stroke-linecap="round"/><path d="M74.3 56.4h0M95.9 44.0h0" stroke="#00BFC4" stroke-width="3.0" stroke-linecap="round"/><path d="M78.9 41.1h0M89.2 32.2h0M64.9 59.0h0" stroke="#F8766D" stroke-width="3.0" stroke-linecap="round"/><path d="M56.2 40.4h0" stroke="#00BFC4" stroke-width="3.0" stroke-linecap="round"/><path d="M77.8 38.6h0" stroke="#F8766D" stroke-width="3.0" stroke-linecap="round"/><path d="M62.6 62.2h0" stroke="#00BFC4" stroke-width="3.0" stroke-linecap="round"/><path d="M76.1 44.2h0M51.4 45.8h0M72.0 43.5h0M68.6 40.5h0M90.0 68.0h0" stroke="#F8766D" stroke-width="3.0" stroke-linecap="round"/><path d="M76.1 63.8h0M53.9 47.0h0M59.7 39.2h0" stroke="#00BFC4" stroke-width="3.0" stroke-linecap="round"/><path d="M62.8 55.0h0" stroke="#F8766D" stroke-width="3.0" stroke-linecap="round"/><path d="M75.3 41.1h0M72.0 53.6h0M64.1 58.3h0" stroke="#00BFC4" stroke-width="3.0" stroke-linecap="round"/><path d="M89.3 36.0h0M58.4 44.2h0M53.7 39.2h0M63.2 39.3h0" stroke="#F8766D" stroke-width="3.0" stroke-linecap="round"/><path d="M72.2 62.5h0M77.5 60.9h0M75.3 30.6h0M89.0 47.8h0M59.5 57.2h0" stroke="#00BFC4" stroke-width="3.0" stroke-linecap="round"/><path d="M90.2 35.7h0M93.5 60.8h0" stroke="#F8766D" stroke-width="3.0" stroke-linecap="round"/><path d="M62.3 36.7h0M89.8 41.6h0" stroke="#00BFC4" stroke-width="3.0" stroke-linecap="round"/><path d="M70.2 43.1h0" stroke="#F8766D" stroke-width="3.0" stroke-linecap="round"/><path d="M75.4 64.5h0M69.5 60.6h0" stroke="#00BFC4" stroke-width="3.0" stroke-linecap="round"/><path d="M74.2 57.8h0" stroke="#F8766D" stroke-width="3.0" stroke-linecap="round"/><path d="M69.2 54.0h0" stroke="#00BFC4" stroke-width="3.0" stroke-linecap="round"/><path d="M70.5 56.7h0" stroke="#F8766D" stroke-width="3.0" stroke-linecap="round"/><path d="M83.5 54.6h0M67.5 35.8h0M97.5 54.9h0" stroke="#00BFC4" stroke-width="3.0" stroke-linecap="round"/><path d="M74.4 69.4h0M70.5 70.0h0" stroke="#F8766D" stroke-width="3.0" stroke-linecap="round"/><path d="M90.4 45.6h0" stroke="#00BFC4" stroke-width="3.0" stroke-linecap="round"/><path d="M68.6 59.2h0" stroke="#F8766D" stroke-width="3.0" stroke-linecap="round"/><path d="M87.9 40.7h0M69.7 41.1h0" stroke="#00BFC4" stroke-width="3.0" stroke-linecap="round"/><path d="M93.6 46.1h0M59.9 54.6h0" stroke="#F8766D" stroke-width="3.0" stroke-linecap="round"/><path d="M82.1 28.7h0M91.7 58.4h0" stroke="#00BFC4" stroke-width="3.0" stroke-linecap="round"/><path d="M93.1 52.9h0" stroke="#F8766D" stroke-width="3.0" stroke-linecap="round"/><path d="M86.1 63.7h0M72.0 40.5h0" stroke="#00BFC4" stroke-width="3.0" stroke-linecap="round"/><path d="M78.3 53.6h0" stroke="#F8766D" stroke-width="3.0" stroke-linecap="round"/><path d="M93.9 50.7h0M87.3 34.2h0M67.6 32.5h0M88.4 50.6h0M65.4 64.0h0M95.3 41.6h0" stroke="#00BFC4" stroke-width="3.0" stroke-linecap="round"/><path d="M74.9 34.8h0M91.1 52.4h0" stroke="#F8766D" stroke-width="3.0" stroke-linecap="round"/><path d="M77.3 71.1h0M82.5 38.0h0M78.1 61.9h0M93.4 52.5h0" stroke="#00BFC4" stroke-width="3.0" stroke-linecap="round"/><path d="M70.2 40.3h0" stroke="#F8766D" stroke-width="3.0" stroke-linecap="round"/><path d="M82.0 37.0h0M73.7 59.9h0" stroke="#00BFC4" stroke-width="3.0" stroke-linecap="round"/><path d="M67.5 57.9h0M99.7 49.3h0" stroke="#F8766D" stroke-width="3.0" stroke-linecap="round"/><path d="M72.4 26.0h0" stroke="#00BFC4" stroke-width="3.0" stroke-linecap="round"/><path d="M61.6 55.0h0M62.3 31.5h0" stroke="#F8766D" stroke-width="3.0" stroke-linecap="round"/><path d="M73.8 33.7h0M85.8 35.5h0" stroke="#00BFC4" stroke-width="3.0" stroke-linecap="round"/><path d="M67.4 51.0h0" stroke="#F8766D" stroke-width="3.0" stroke-linecap="round"/><path d="M74.9 24.0h0M82.3 40.5h0" stroke="#00BFC4" stroke-width="3.0" stroke-linecap="round"/><path d="M77.8 51.2h0" stroke="#F8766D" stroke-width="3.0" stroke-linecap="round"/><path d="M62.3 46.0h0M66.3 32.1h0M76.1 57.4h0M113.5 65.0h0M115.0 71.0h0M127.5 66.5h0M77.0 77.0h0M66.0 17.0h0M104.0 62.0h0M72.4 17.6h0M78.8 24.5h0M82.7 25.8h0M89.1 27.1h0M93.0 33.6h0M96.1 36.2h0M99.5 41.9h0M102.0 43.4h0" stroke="#00BFC4" stroke-width="3.0" stroke-linecap="round"/><path d="M67.0 15.5h0M56.0 20.0h0M48.5 33.0h0M104.5 56.0h0M102.0 60.0h0M129.3 105.1h0M134.9 121.3h0M124.8 108.3h0M121.8 117.4h0M122.2 107.3h0M131.5 119.0h0M134.8 123.5h0M118.1 117.0h0M120.4 104.3h0M128.1 113.6h0M130.3 112.4h0M132.2 114.6h0M129.1 125.1h0M140.4 113.0h0M112.1 102.8h0M136.5 131.2h0M133.8 129.1h0M124.8 111.8h0M137.2 123.0h0M131.7 121.8h0M127.4 102.5h0M136.2 118.8h0M122.2 112.5h0M134.2 111.1h0M119.2 120.0h0M134.1 124.6h0M134.0 119.3h0M126.4 100.5h0M126.7 111.6h0M140.1 112.5h0M130.2 123.6h0M119.4 106.9h0M137.3 127.0h0M115.3 117.4h0M137.9 110.0h0M128.1 117.6h0M125.1 112.3h0M107.7 107.0h0M124.9 118.2h0M140.9 137.4h0M137.9 118.2h0M119.4 114.9h0M135.7 115.4h0M129.5 127.4h0M120.8 110.6h0M138.9 121.5h0M134.9 119.1h0M120.2 128.1h0M124.9 121.2h0M132.3 120.9h0M119.4 121.1h0M118.3 119.7h0M125.0 129.8h0M123.5 115.6h0M126.7 100.5h0M126.1 116.4h0M121.9 115.4h0M129.8 119.9h0M131.8 125.6h0M136.3 114.3h0M130.2 116.4h0M124.3 112.4h0M119.6 118.2h0M134.8 113.1h0M124.1 108.9h0M117.8 107.3h0M129.0 102.5h0M139.6 123.3h0M127.9 111.4h0M134.3 113.7h0M142.1 115.4h0M131.0 109.5h0M135.7 120.8h0M131.4 130.8h0M121.3 101.2h0M113.1 110.8h0M125.1 113.5h0M131.3 125.8h0M122.3 127.1h0M123.7 108.5h0M133.3 124.0h0M132.9 108.3h0M138.1 120.2h0M122.1 117.2h0M129.3 116.6h0M123.6 130.9h0M124.2 120.0h0M127.5 119.1h0M115.9 133.7h0M139.0 116.5h0M136.4 117.6h0M134.0 116.1h0M116.5 111.9h0M123.7 111.1h0M113.0 114.9h0M132.1 120.0h0M121.9 130.8h0M126.3 119.9h0M126.3 110.0h0M128.8 108.9h0M119.7 101.1h0M129.1 121.9h0M127.4 113.5h0M126.2 123.6h0M124.1 116.3h0M130.5 115.8h0M130.2 122.3h0M125.7 132.8h0M122.9 116.9h0M129.7 116.5h0M119.6 117.1h0M120.9 115.5h0M131.7 123.1h0M127.7 112.8h0M143.5 115.9h0M141.1 110.4h0M129.6 130.0h0M121.4 107.0h0M134.9 130.0h0M133.9 120.6h0M124.1 119.8h0M134.3 113.7h0M116.0 126.1h0M119.3 105.8h0M124.4 125.9h0M118.4 117.2h0M141.5 120.2h0M126.3 110.1h0M116.5 128.3h0M118.1 117.9h0M135.0 111.9h0M126.3 125.3h0M128.7 126.8h0M136.1 129.2h0M117.5 119.4h0M128.4 115.2h0M115.4 115.5h0M137.1 124.8h0M122.7 115.9h0M127.0 123.5h0M122.8 111.5h0M117.5 123.3h0M141.6 120.1h0M132.2 123.4h0M119.6 121.9h0M138.9 125.4h0M126.5 110.6h0M123.0 126.7h0M123.5 117.8h0M129.6 114.5h0M121.2 120.5h0M122.4 113.4h0M136.3 122.9h0M112.1 107.7h0M133.5 109.3h0M133.8 125.6h0M135.6 131.4h0M118.6 109.6h0M124.4 113.1h0M134.9 120.9h0M122.0 113.3h0M119.2 114.1h0M118.3 132.7h0M134.1 114.3h0M127.1 123.7h0M128.1 127.6h0M129.4 136.3h0M133.1 108.1h0M120.8 112.9h0M141.1 114.6h0M135.0 105.4h0M132.1 108.3h0M124.7 117.2h0M118.0 136.7h0M119.9 113.1h0M140.6 125.0h0M110.4 120.7h0M136.0 108.8h0M128.2 111.1h0M122.7 131.6h0M135.5 110.4h0M119.2 123.6h0M130.0 114.7h0M130.1 106.5h0M122.8 111.2h0M137.5 117.3h0M121.0 111.2h0M136.3 120.4h0M124.5 114.5h0M133.9 115.0h0M126.6 111.8h0M110.5 122.4h0M127.2 124.4h0M151.3 114.6h0M132.8 114.4h0M122.9 110.7h0M125.7 117.8h0M141.2 120.5h0M124.2 125.6h0M121.7 123.3h0M130.1 112.9h0M131.7 126.8h0M133.1 101.8h0M115.4 116.4h0M126.1 105.3h0M133.8 121.3h0M137.1 119.6h0M140.9 111.8h0M125.3 122.7h0M131.0 104.5h0M122.4 122.2h0M129.1 111.2h0M126.0 115.9h0M126.6 121.0h0M133.0 110.7h0M145.2 119.7h0M127.3 132.9h0M128.3 107.4h0M118.5 112.3h0M123.6 102.6h0M125.3 110.0h0M137.5 120.8h0M121.9 125.7h0M126.7 100.5h0M127.9 129.1h0M128.7 112.0h0M128.7 112.3h0M132.5 119.5h0M125.8 124.0h0M140.7 120.0h0M137.7 124.2h0M126.9 117.8h0M139.2 120.7h0M135.5 104.4h0M134.0 102.9h0M142.9 120.1h0M134.9 111.9h0M127.9 108.4h0M121.3 119.2h0M125.9 114.9h0M127.1 128.8h0M135.8 133.3h0M126.7 112.7h0M130.2 123.9h0M118.2 123.0h0M126.3 121.6h0M130.9 115.3h0M122.8 115.4h0M136.6 103.2h0M129.8 116.3h0M127.1 119.2h0M131.7 117.5h0M138.2 115.1h0M144.5 101.7h0M140.4 114.5h0M119.5 109.9h0M124.7 118.8h0M127.8 128.4h0M127.2 114.9h0M125.8 121.9h0M128.8 130.2h0M124.2 114.3h0M124.8 110.7h0M125.1 109.7h0M111.7 102.4h0M119.4 94.7h0M121.3 121.5h0M129.4 102.5h0M115.8 111.3h0M121.1 120.6h0M130.0 84.5h0M138.7 92.5h0M106.5 114.0h0M158.0 106.0h0M153.0 108.0h0M140.0 145.0h0M152.0 148.6h0M120.5 139.0h0M132.5 140.5h0M243.9 41.0h0M248.5 35.1h0M250.5 24.3h0M257.8 36.6h0M243.4 30.2h0M228.5 34.3h0M244.7 18.1h0M241.6 28.3h0M235.4 39.2h0M231.2 34.4h0M249.1 39.3h0M235.9 27.2h0M233.3 41.8h0M258.6 28.8h0M250.3 30.4h0M231.1 34.5h0M226.5 43.5h0M244.3 29.3h0M244.5 22.9h0M250.9 22.4h0M246.4 32.9h0M250.0 39.2h0M230.0 34.5h0M250.6 33.7h0M235.1 42.6h0M238.5 26.0h0M240.1 36.4h0M223.2 34.4h0M259.2 38.5h0M238.8 39.9h0M253.3 38.9h0M265.7 31.7h0M253.6 32.0h0M256.0 26.3h0M248.9 39.1h0M254.2 29.5h0M247.4 38.5h0M240.4 41.5h0M258.3 36.2h0M233.7 40.4h0M256.2 41.2h0M238.1 26.0h0M259.2 29.5h0M257.3 26.9h0M253.3 32.5h0M243.6 26.4h0M238.8 35.6h0M254.3 32.2h0M240.6 31.4h0M256.4 38.2h0M257.0 31.8h0M237.7 35.8h0M246.9 23.7h0M229.8 43.9h0M250.0 36.5h0M225.8 38.6h0M263.7 33.1h0M257.9 32.9h0M261.6 30.0h0M234.1 34.1h0M261.6 35.9h0M252.4 30.8h0M234.2 32.4h0M236.4 29.8h0M233.5 34.9h0M254.0 28.6h0M264.0 39.1h0M247.6 20.8h0M244.8 42.9h0M230.0 38.3h0M241.3 35.0h0M256.2 27.8h0M221.0 39.0h0M231.8 32.1h0M245.9 19.4h0M249.3 32.8h0M247.8 34.8h0M259.1 29.2h0M266.8 33.0h0M263.4 37.1h0M239.4 34.5h0M228.4 38.0h0M227.1 35.5h0M246.4 41.7h0M225.4 35.6h0M254.5 26.9h0M234.8 28.0h0M265.5 30.4h0M228.6 32.2h0M238.0 34.9h0M250.8 33.9h0M241.4 31.2h0M241.4 25.3h0M243.7 29.5h0M238.3 42.6h0M251.5 38.3h0M228.6 34.6h0M241.6 32.8h0M228.4 28.8h0M260.4 32.2h0M224.6 35.9h0M249.0 39.8h0M254.7 34.9h0M257.6 28.2h0M247.1 44.4h0M240.8 30.6h0M261.2 25.9h0M265.2 38.6h0M237.5 41.5h0M238.2 36.1h0M233.0 35.8h0M237.8 41.0h0M240.4 22.0h0M238.0 42.0h0M240.1 25.6h0M236.1 35.8h0M233.7 38.7h0M230.8 36.0h0M251.5 39.7h0M231.5 33.4h0M224.7 33.0h0M256.4 29.2h0M222.7 33.1h0M243.5 39.5h0M241.0 24.0h0M247.3 22.6h0M233.7 39.1h0M237.8 46.8h0M259.0 32.8h0M253.5 34.8h0M259.2 32.1h0M231.7 36.4h0M248.6 30.0h0M253.0 38.3h0M246.4 36.6h0M255.4 38.1h0M247.6 29.6h0M248.3 24.3h0M251.5 34.0h0M258.7 32.5h0M234.2 43.9h0M245.9 36.8h0M237.4 36.8h0M249.6 19.3h0M230.0 44.0h0M267.3 35.2h0M253.5 23.9h0M237.6 43.3h0M258.9 34.8h0M241.2 34.3h0M248.1 25.8h0M244.2 39.8h0M259.1 26.6h0M263.7 36.2h0M238.0 34.8h0M228.6 37.8h0M254.0 26.2h0M244.3 32.7h0M225.8 29.7h0M245.5 21.4h0M253.4 27.0h0M253.6 28.9h0M230.3 33.0h0M242.2 34.7h0M257.4 34.5h0M236.2 41.7h0M251.4 40.2h0M254.8 39.7h0M252.0 33.7h0M250.6 23.1h0M235.2 29.3h0M224.8 31.7h0M238.3 35.1h0M235.8 26.1h0M228.4 31.1h0M232.9 39.2h0M230.5 42.3h0M247.8 37.6h0M247.6 43.3h0M237.9 32.2h0M247.8 29.3h0M241.1 24.0h0M255.6 27.5h0M263.4 31.6h0M244.3 36.9h0M246.5 32.3h0M231.6 38.0h0M231.3 34.7h0M230.7 40.2h0M243.0 31.6h0M256.5 30.2h0M229.3 38.2h0M227.1 28.7h0M244.6 47.8h0M273.2 37.7h0M217.6 43.0h0M230.9 39.1h0M257.7 35.1h0M230.3 27.6h0M255.8 39.9h0M229.1 28.9h0M239.6 29.1h0M259.6 37.5h0M254.8 25.5h0M228.0 33.5h0M246.1 38.9h0M249.0 29.0h0M253.3 37.0h0M239.4 26.2h0M252.1 38.6h0M252.5 23.0h0M250.2 32.3h0M239.3 32.7h0M233.6 29.9h0M248.1 32.0h0M243.4 24.1h0M249.4 44.1h0M226.6 37.4h0M243.6 35.2h0M254.0 26.2h0M258.4 35.1h0M239.8 38.8h0M265.1 39.7h0M242.0 40.1h0M242.7 27.6h0M256.6 28.8h0M247.6 29.4h0M274.2 23.0h0M247.2 39.8h0M244.4 40.7h0M249.0 32.0h0M241.7 18.6h0M260.5 34.7h0M250.9 33.4h0M228.4 37.2h0M228.8 32.1h0M224.7 34.4h0M260.7 33.0h0M227.8 29.8h0M260.4 27.7h0M259.8 42.5h0M258.0 21.9h0M219.7 27.2h0M234.3 32.3h0M251.7 26.1h0M230.7 42.3h0M221.6 38.3h0M261.9 29.4h0M217.9 38.3h0M259.4 24.1h0M218.0 38.2h0M210.7 43.8h0M255.4 31.8h0M227.2 45.1h0M267.1 37.3h0M238.2 38.3h0M234.7 44.6h0M235.0 25.7h0M241.2 38.0h0M241.9 32.3h0M228.5 37.0h0M242.3 34.0h0M240.9 33.1h0M233.3 49.3h0M218.1 40.3h0M259.1 16.3h0M217.9 44.1h0M236.2 30.3h0M232.0 25.5h0M234.5 41.8h0M238.6 36.8h0M254.8 25.4h0M237.4 35.6h0M230.5 36.4h0M253.2 31.1h0M217.3 40.6h0M239.9 33.5h0M224.7 37.4h0M240.4 29.1h0M230.6 34.3h0M213.4 41.1h0M236.5 42.3h0M213.1 35.5h0M247.8 33.9h0M237.5 41.5h0M236.2 38.3h0M241.6 31.2h0M229.5 30.5h0M234.5 37.2h0M231.8 27.2h0M252.2 31.9h0M251.3 31.7h0M269.9 32.7h0M248.3 35.5h0M258.3 30.8h0M253.7 29.1h0M266.8 26.6h0M237.4 32.8h0M214.5 37.8h0M223.0 41.8h0M207.0 37.5h0M211.0 42.0h0M278.0 23.0h0M277.0 28.0h0M242.0 15.5h0M214.0 50.0h0M226.0 50.0h0M242.0 50.0h0" stroke="#F8766D" stroke-width="3.0" stroke-linecap="round"/><path d="M36.9 9V155.4H289" fill="none" stroke="#303030" stroke-width="1.05"/><path d="M35.1 15.3H36.9" stroke="#333" stroke-width="0.7"/><text x="34.8" y="17.2" text-anchor="end" font-size="4.8" fill="#2a2a2a" stroke="#2a2a2a" stroke-width="0.08" font-family="Liberation Sans, sans-serif">0.03</text><path d="M35.1 51.9H36.9" stroke="#333" stroke-width="0.7"/><text x="34.8" y="53.8" text-anchor="end" font-size="4.8" fill="#2a2a2a" stroke="#2a2a2a" stroke-width="0.08" font-family="Liberation Sans, sans-serif">0.00</text><path d="M35.1 88.5H36.9" stroke="#333" stroke-width="0.7"/><text x="34.8" y="90.4" text-anchor="end" font-size="4.8" fill="#2a2a2a" stroke="#2a2a2a" stroke-width="0.08" font-family="Liberation Sans, sans-serif">-0.03</text><path d="M35.1 125.1H36.9" stroke="#333" stroke-width="0.7"/><text x="34.8" y="127.0" text-anchor="end" font-size="4.8" fill="#2a2a2a" stroke="#2a2a2a" stroke-width="0.08" font-family="Liberation Sans, sans-serif">-0.06</text><path d="M91.6 155.4V156.6" stroke="#333" stroke-width="0.7"/><text x="91.6" y="161.4" text-anchor="middle" font-size="4.8" fill="#2a2a2a" stroke="#2a2a2a" stroke-width="0.08" font-family="Liberation Sans, sans-serif">0.00</text><path d="M151 155.4V156.6" stroke="#333" stroke-width="0.7"/><text x="151" y="161.4" text-anchor="middle" font-size="4.8" fill="#2a2a2a" stroke="#2a2a2a" stroke-width="0.08" font-family="Liberation Sans, sans-serif">0.02</text><path d="M210.4 155.4V156.6" stroke="#333" stroke-width="0.7"/><text x="210.4" y="161.4" text-anchor="middle" font-size="4.8" fill="#2a2a2a" stroke="#2a2a2a" stroke-width="0.08" font-family="Liberation Sans, sans-serif">0.04</text><path d="M269.8 155.4V156.6" stroke="#333" stroke-width="0.7"/><text x="269.8" y="161.4" text-anchor="middle" font-size="4.8" fill="#2a2a2a" stroke="#2a2a2a" stroke-width="0.08" font-family="Liberation Sans, sans-serif">0.06</text><text transform="translate(163 167.4) scale(0.94 1)" text-anchor="middle" font-size="6.6" font-weight="bold" fill="#000" stroke="#000" stroke-width="0.08" font-family="Liberation Sans, sans-serif">PCA1(3.88%)</text><text transform="translate(21.5 82.2) rotate(-90) scale(0.94 1)" text-anchor="middle" font-size="6.6" font-weight="bold" fill="#000" stroke="#000" stroke-width="0.08" font-family="Liberation Sans, sans-serif">PCA2(1.53%)</text><path d="M411.9 138.9h0M408.4 137.3h0M411.5 131.4h0M402.7 130.5h0" stroke="#00BFC4" stroke-width="3.0" stroke-linecap="round"/><path d="M398.2 134.9h0" stroke="#F8766D" stroke-width="3.0" stroke-linecap="round"/><path d="M416.2 128.1h0M401.1 139.2h0" stroke="#00BFC4" stroke-width="3.0" stroke-linecap="round"/><path d="M425.8 143.5h0" stroke="#F8766D" stroke-width="3.0" stroke-linecap="round"/><path d="M424.5 139.3h0" stroke="#00BFC4" stroke-width="3.0" stroke-linecap="round"/><path d="M414.9 125.5h0M422.1 127.0h0M424.5 143.2h0" stroke="#F8766D" stroke-width="3.0" stroke-linecap="round"/><path d="M427.1 128.4h0" stroke="#00BFC4" stroke-width="3.0" stroke-linecap="round"/><path d="M422.1 138.3h0" stroke="#F8766D" stroke-width="3.0" stroke-linecap="round"/><path d="M429.2 135.7h0M431.2 134.1h0M423.7 134.4h0" stroke="#00BFC4" stroke-width="3.0" stroke-linecap="round"/><path d="M415.2 121.3h0" stroke="#F8766D" stroke-width="3.0" stroke-linecap="round"/><path d="M408.0 143.1h0M402.9 133.9h0M424.4 134.2h0M410.6 142.5h0M418.0 140.2h0M411.4 126.1h0M408.2 138.7h0M399.7 136.7h0M406.2 130.3h0M426.8 129.1h0M398.8 130.3h0M416.5 137.5h0M404.0 129.2h0M402.9 140.4h0M407.5 129.3h0M412.1 136.9h0M408.7 131.9h0" stroke="#00BFC4" stroke-width="3.0" stroke-linecap="round"/><path d="M425.2 142.7h0" stroke="#F8766D" stroke-width="3.0" stroke-linecap="round"/><path d="M404.5 136.9h0M427.5 139.4h0" stroke="#00BFC4" stroke-width="3.0" stroke-linecap="round"/><path d="M423.0 143.0h0M425.4 129.0h0M407.8 126.4h0M413.2 123.1h0" stroke="#F8766D" stroke-width="3.0" stroke-linecap="round"/><path d="M412.5 135.7h0M424.8 139.6h0" stroke="#00BFC4" stroke-width="3.0" stroke-linecap="round"/><path d="M427.9 141.1h0" stroke="#F8766D" stroke-width="3.0" stroke-linecap="round"/><path d="M403.6 136.1h0M422.8 131.8h0M413.2 126.9h0M413.1 132.0h0M406.6 127.6h0" stroke="#00BFC4" stroke-width="3.0" stroke-linecap="round"/><path d="M403.2 132.2h0M422.9 124.0h0" stroke="#F8766D" stroke-width="3.0" stroke-linecap="round"/><path d="M406.6 137.2h0M415.2 130.5h0" stroke="#00BFC4" stroke-width="3.0" stroke-linecap="round"/><path d="M417.7 132.0h0" stroke="#F8766D" stroke-width="3.0" stroke-linecap="round"/><path d="M429.7 130.3h0M411.5 128.1h0M423.2 127.2h0M406.6 133.2h0M405.6 137.0h0" stroke="#00BFC4" stroke-width="3.0" stroke-linecap="round"/><path d="M432.7 136.7h0M432.5 130.8h0M429.2 126.0h0M430.9 138.2h0" stroke="#F8766D" stroke-width="3.0" stroke-linecap="round"/><path d="M415.7 134.0h0M406.9 139.6h0" stroke="#00BFC4" stroke-width="3.0" stroke-linecap="round"/><path d="M418.5 125.0h0M429.5 137.0h0" stroke="#F8766D" stroke-width="3.0" stroke-linecap="round"/><path d="M402.9 136.3h0M413.7 141.5h0" stroke="#00BFC4" stroke-width="3.0" stroke-linecap="round"/><path d="M411.9 132.5h0M420.3 123.8h0" stroke="#F8766D" stroke-width="3.0" stroke-linecap="round"/><path d="M399.2 127.7h0M405.8 129.9h0" stroke="#00BFC4" stroke-width="3.0" stroke-linecap="round"/><path d="M412.1 124.1h0" stroke="#F8766D" stroke-width="3.0" stroke-linecap="round"/><path d="M423.7 140.2h0M408.7 136.1h0M433.2 135.8h0M425.6 133.7h0M427.1 127.5h0M424.0 135.8h0" stroke="#00BFC4" stroke-width="3.0" stroke-linecap="round"/><path d="M407.5 143.3h0" stroke="#F8766D" stroke-width="3.0" stroke-linecap="round"/><path d="M408.5 137.6h0" stroke="#00BFC4" stroke-width="3.0" stroke-linecap="round"/><path d="M401.2 126.1h0M411.8 121.7h0" stroke="#F8766D" stroke-width="3.0" stroke-linecap="round"/><path d="M420.5 139.4h0" stroke="#00BFC4" stroke-width="3.0" stroke-linecap="round"/><path d="M425.4 127.1h0M430.3 134.6h0" stroke="#F8766D" stroke-width="3.0" stroke-linecap="round"/><path d="M408.5 134.4h0" stroke="#00BFC4" stroke-width="3.0" stroke-linecap="round"/><path d="M426.1 126.4h0" stroke="#F8766D" stroke-width="3.0" stroke-linecap="round"/><path d="M410.4 137.3h0M429.7 127.6h0" stroke="#00BFC4" stroke-width="3.0" stroke-linecap="round"/><path d="M432.1 141.3h0M433.1 135.2h0" stroke="#F8766D" stroke-width="3.0" stroke-linecap="round"/><path d="M397.1 137.7h0M412.8 139.6h0M408.4 131.0h0M410.4 142.6h0M419.7 130.9h0" stroke="#00BFC4" stroke-width="3.0" stroke-linecap="round"/><path d="M400.9 131.6h0" stroke="#F8766D" stroke-width="3.0" stroke-linecap="round"/><path d="M417.0 140.9h0M409.3 141.0h0M427.1 136.8h0M411.4 139.6h0M409.0 139.1h0M412.2 126.9h0M414.3 141.4h0" stroke="#00BFC4" stroke-width="3.0" stroke-linecap="round"/><path d="M410.8 143.5h0M398.4 133.1h0M421.1 127.2h0" stroke="#F8766D" stroke-width="3.0" stroke-linecap="round"/><path d="M400.7 132.7h0M418.3 141.1h0M419.3 136.0h0M396.5 133.1h0M430.9 139.6h0M412.9 133.2h0M418.7 139.6h0M423.7 130.8h0M402.8 137.4h0M425.3 139.8h0" stroke="#00BFC4" stroke-width="3.0" stroke-linecap="round"/><path d="M404.9 128.0h0M425.3 125.3h0" stroke="#F8766D" stroke-width="3.0" stroke-linecap="round"/><path d="M412.1 133.9h0M411.0 142.5h0M406.8 129.6h0M406.0 127.1h0" stroke="#00BFC4" stroke-width="3.0" stroke-linecap="round"/><path d="M411.5 140.7h0" stroke="#F8766D" stroke-width="3.0" stroke-linecap="round"/><path d="M418.6 125.0h0M420.0 138.8h0M421.5 128.5h0M428.7 126.2h0" stroke="#00BFC4" stroke-width="3.0" stroke-linecap="round"/><path d="M402.1 129.6h0M402.6 124.8h0" stroke="#F8766D" stroke-width="3.0" stroke-linecap="round"/><path d="M415.2 126.9h0M414.1 126.0h0M431.0 136.2h0" stroke="#00BFC4" stroke-width="3.0" stroke-linecap="round"/><path d="M402.5 124.5h0M432.3 133.2h0M430.7 125.8h0" stroke="#F8766D" stroke-width="3.0" stroke-linecap="round"/><path d="M406.7 135.0h0" stroke="#00BFC4" stroke-width="3.0" stroke-linecap="round"/><path d="M412.9 144.2h0M429.9 134.3h0M414.9 131.8h0M427.6 129.5h0" stroke="#F8766D" stroke-width="3.0" stroke-linecap="round"/><path d="M410.5 140.4h0M415.9 136.4h0" stroke="#00BFC4" stroke-width="3.0" stroke-linecap="round"/><path d="M418.5 126.6h0M405.3 142.1h0" stroke="#F8766D" stroke-width="3.0" stroke-linecap="round"/><path d="M425.8 140.5h0M420.1 143.6h0M412.7 128.8h0M427.9 134.0h0" stroke="#00BFC4" stroke-width="3.0" stroke-linecap="round"/><path d="M409.5 125.0h0" stroke="#F8766D" stroke-width="3.0" stroke-linecap="round"/><path d="M413.1 137.0h0M411.1 126.3h0M421.3 126.5h0" stroke="#00BFC4" stroke-width="3.0" stroke-linecap="round"/><path d="M417.8 136.8h0" stroke="#F8766D" stroke-width="3.0" stroke-linecap="round"/><path d="M405.0 138.3h0M414.4 129.8h0M424.9 129.2h0" stroke="#00BFC4" stroke-width="3.0" stroke-linecap="round"/><path d="M398.9 138.4h0M403.6 142.5h0" stroke="#F8766D" stroke-width="3.0" stroke-linecap="round"/><path d="M416.0 136.5h0M404.8 125.4h0M424.7 139.7h0" stroke="#00BFC4" stroke-width="3.0" stroke-linecap="round"/><path d="M431.3 136.3h0" stroke="#F8766D" stroke-width="3.0" stroke-linecap="round"/><path d="M409.9 121.8h0" stroke="#00BFC4" stroke-width="3.0" stroke-linecap="round"/><path d="M423.9 142.7h0" stroke="#F8766D" stroke-width="3.0" stroke-linecap="round"/><path d="M416.7 128.7h0M423.4 139.9h0" stroke="#00BFC4" stroke-width="3.0" stroke-linecap="round"/><path d="M425.1 144.2h0" stroke="#F8766D" stroke-width="3.0" stroke-linecap="round"/><path d="M411.9 136.7h0M416.1 134.3h0" stroke="#00BFC4" stroke-width="3.0" stroke-linecap="round"/><path d="M425.7 141.6h0" stroke="#F8766D" stroke-width="3.0" stroke-linecap="round"/><path d="M420.3 130.2h0" stroke="#00BFC4" stroke-width="3.0" stroke-linecap="round"/><path d="M408.1 121.8h0M422.6 126.2h0M406.7 128.6h0" stroke="#F8766D" stroke-width="3.0" stroke-linecap="round"/><path d="M416.8 140.5h0M412.8 141.7h0M428.3 141.2h0" stroke="#00BFC4" stroke-width="3.0" stroke-linecap="round"/><path d="M403.2 141.3h0" stroke="#F8766D" stroke-width="3.0" stroke-linecap="round"/><path d="M418.8 134.7h0M417.7 124.6h0M426.3 125.0h0M428.0 131.9h0M419.3 123.3h0M411.4 138.9h0M419.0 128.6h0M427.2 131.5h0M415.6 139.4h0M424.6 136.8h0" stroke="#00BFC4" stroke-width="3.0" stroke-linecap="round"/><path d="M402.8 140.9h0M430.9 134.6h0" stroke="#F8766D" stroke-width="3.0" stroke-linecap="round"/><path d="M420.8 128.4h0" stroke="#00BFC4" stroke-width="3.0" stroke-linecap="round"/><path d="M423.2 126.4h0" stroke="#F8766D" stroke-width="3.0" stroke-linecap="round"/><path d="M418.5 130.8h0M421.1 134.0h0M409.3 120.6h0" stroke="#00BFC4" stroke-width="3.0" stroke-linecap="round"/><path d="M431.6 131.6h0M401.0 129.8h0" stroke="#F8766D" stroke-width="3.0" stroke-linecap="round"/><path d="M414.9 136.0h0M409.7 132.5h0M407.2 144.1h0M423.3 128.6h0" stroke="#00BFC4" stroke-width="3.0" stroke-linecap="round"/><path d="M416.8 124.8h0" stroke="#F8766D" stroke-width="3.0" stroke-linecap="round"/><path d="M404.2 127.5h0" stroke="#00BFC4" stroke-width="3.0" stroke-linecap="round"/><path d="M404.4 125.7h0M423.9 126.8h0" stroke="#F8766D" stroke-width="3.0" stroke-linecap="round"/><path d="M426.2 136.1h0" stroke="#00BFC4" stroke-width="3.0" stroke-linecap="round"/><path d="M431.8 130.2h0" stroke="#F8766D" stroke-width="3.0" stroke-linecap="round"/><path d="M428.4 133.2h0" stroke="#00BFC4" stroke-width="3.0" stroke-linecap="round"/><path d="M427.2 128.5h0" stroke="#F8766D" stroke-width="3.0" stroke-linecap="round"/><path d="M405.5 123.3h0" stroke="#00BFC4" stroke-width="3.0" stroke-linecap="round"/><path d="M431.7 133.3h0M432.4 132.8h0" stroke="#F8766D" stroke-width="3.0" stroke-linecap="round"/><path d="M407.4 140.9h0M405.2 141.6h0" stroke="#00BFC4" stroke-width="3.0" stroke-linecap="round"/><path d="M400.2 142.9h0" stroke="#F8766D" stroke-width="3.0" stroke-linecap="round"/><path d="M398.3 134.4h0M411.0 138.9h0M415.4 136.7h0M420.3 137.7h0M426.6 136.5h0M399.1 134.3h0M425.2 136.8h0M413.7 135.9h0M429.3 142.0h0M399.7 136.7h0M402.5 138.8h0" stroke="#00BFC4" stroke-width="3.0" stroke-linecap="round"/><path d="M418.5 123.2h0" stroke="#F8766D" stroke-width="3.0" stroke-linecap="round"/><path d="M414.2 135.6h0M422.9 129.8h0M415.4 139.8h0M415.8 137.5h0M418.2 126.3h0M415.7 139.5h0M429.3 131.6h0M401.4 139.3h0" stroke="#00BFC4" stroke-width="3.0" stroke-linecap="round"/><path d="M425.8 133.4h0" stroke="#F8766D" stroke-width="3.0" stroke-linecap="round"/><path d="M426.9 129.4h0M413.0 142.7h0" stroke="#00BFC4" stroke-width="3.0" stroke-linecap="round"/><path d="M425.8 128.4h0" stroke="#F8766D" stroke-width="3.0" stroke-linecap="round"/><path d="M422.1 144.1h0M429.3 132.5h0" stroke="#00BFC4" stroke-width="3.0" stroke-linecap="round"/><path d="M421.2 123.4h0M399.5 130.5h0" stroke="#F8766D" stroke-width="3.0" stroke-linecap="round"/><path d="M411.5 128.9h0M420.2 124.4h0" stroke="#00BFC4" stroke-width="3.0" stroke-linecap="round"/><path d="M430.5 133.1h0" stroke="#F8766D" stroke-width="3.0" stroke-linecap="round"/><path d="M402.0 134.7h0M425.3 141.8h0M427.5 135.1h0M416.0 134.3h0M414.0 123.5h0M403.6 131.2h0M419.4 129.5h0M409.0 138.3h0" stroke="#00BFC4" stroke-width="3.0" stroke-linecap="round"/><path d="M416.0 125.4h0M401.8 139.8h0M400.2 125.9h0M415.1 131.6h0M425.8 132.3h0" stroke="#F8766D" stroke-width="3.0" stroke-linecap="round"/><path d="M407.7 128.2h0" stroke="#00BFC4" stroke-width="3.0" stroke-linecap="round"/><path d="M424.4 127.4h0" stroke="#F8766D" stroke-width="3.0" stroke-linecap="round"/><path d="M413.5 126.1h0M402.8 135.8h0M414.3 134.7h0M408.5 129.9h0" stroke="#00BFC4" stroke-width="3.0" stroke-linecap="round"/><path d="M420.1 122.6h0" stroke="#F8766D" stroke-width="3.0" stroke-linecap="round"/><path d="M407.9 143.5h0M418.4 131.7h0M410.9 128.1h0" stroke="#00BFC4" stroke-width="3.0" stroke-linecap="round"/><path d="M405.2 135.1h0M397.6 135.0h0" stroke="#F8766D" stroke-width="3.0" stroke-linecap="round"/><path d="M410.2 131.8h0" stroke="#00BFC4" stroke-width="3.0" stroke-linecap="round"/><path d="M430.7 135.2h0M407.3 128.0h0" stroke="#F8766D" stroke-width="3.0" stroke-linecap="round"/><path d="M417.6 139.6h0M400.8 136.0h0" stroke="#00BFC4" stroke-width="3.0" stroke-linecap="round"/><path d="M411.8 123.7h0" stroke="#F8766D" stroke-width="3.0" stroke-linecap="round"/><path d="M416.3 132.3h0M412.5 128.5h0M412.9 126.3h0M403.4 130.7h0M431.5 133.1h0M399.3 135.7h0M410.5 143.2h0" stroke="#00BFC4" stroke-width="3.0" stroke-linecap="round"/><path d="M415.0 125.4h0" stroke="#F8766D" stroke-width="3.0" stroke-linecap="round"/><path d="M422.7 141.5h0" stroke="#00BFC4" stroke-width="3.0" stroke-linecap="round"/><path d="M419.3 143.0h0M431.5 138.0h0" stroke="#F8766D" stroke-width="3.0" stroke-linecap="round"/><path d="M406.5 127.9h0" stroke="#00BFC4" stroke-width="3.0" stroke-linecap="round"/><path d="M403.2 129.0h0" stroke="#F8766D" stroke-width="3.0" stroke-linecap="round"/><path d="M412.2 139.3h0M418.2 144.5h0M428.1 137.2h0M411.9 128.0h0" stroke="#00BFC4" stroke-width="3.0" stroke-linecap="round"/><path d="M408.6 132.3h0" stroke="#F8766D" stroke-width="3.0" stroke-linecap="round"/><path d="M405.9 135.8h0M425.7 128.9h0M409.0 132.4h0M407.5 138.3h0M400.8 137.3h0M416.8 125.4h0" stroke="#00BFC4" stroke-width="3.0" stroke-linecap="round"/><path d="M425.3 124.9h0" stroke="#F8766D" stroke-width="3.0" stroke-linecap="round"/><path d="M418.8 141.1h0M430.7 135.7h0M422.5 141.5h0" stroke="#00BFC4" stroke-width="3.0" stroke-linecap="round"/><path d="M422.8 142.3h0" stroke="#F8766D" stroke-width="3.0" stroke-linecap="round"/><path d="M398.1 135.8h0M409.4 141.9h0M416.8 132.2h0M425.5 139.8h0M412.3 128.7h0" stroke="#00BFC4" stroke-width="3.0" stroke-linecap="round"/><path d="M427.4 142.2h0" stroke="#F8766D" stroke-width="3.0" stroke-linecap="round"/><path d="M421.6 130.8h0M424.8 130.9h0" stroke="#00BFC4" stroke-width="3.0" stroke-linecap="round"/><path d="M406.1 122.4h0M401.7 136.9h0" stroke="#F8766D" stroke-width="3.0" stroke-linecap="round"/><path d="M399.0 139.3h0M406.4 139.3h0" stroke="#00BFC4" stroke-width="3.0" stroke-linecap="round"/><path d="M407.6 130.7h0" stroke="#F8766D" stroke-width="3.0" stroke-linecap="round"/><path d="M420.7 131.7h0" stroke="#00BFC4" stroke-width="3.0" stroke-linecap="round"/><path d="M413.3 144.3h0M430.4 130.2h0" stroke="#F8766D" stroke-width="3.0" stroke-linecap="round"/><path d="M427.7 138.5h0M415.4 134.2h0M418.5 129.6h0M413.4 129.4h0M412.7 125.8h0M417.2 139.9h0" stroke="#00BFC4" stroke-width="3.0" stroke-linecap="round"/><path d="M396.5 139.1h0" stroke="#F8766D" stroke-width="3.0" stroke-linecap="round"/><path d="M432.8 135.9h0" stroke="#00BFC4" stroke-width="3.0" stroke-linecap="round"/><path d="M400.4 139.1h0" stroke="#F8766D" stroke-width="3.0" stroke-linecap="round"/><path d="M401.0 133.3h0" stroke="#00BFC4" stroke-width="3.0" stroke-linecap="round"/><path d="M396.8 131.1h0" stroke="#F8766D" stroke-width="3.0" stroke-linecap="round"/><path d="M424.7 127.2h0M401.6 133.5h0M411.8 131.7h0M424.1 129.7h0M424.9 138.6h0" stroke="#00BFC4" stroke-width="3.0" stroke-linecap="round"/><path d="M400.0 129.2h0M401.6 127.6h0" stroke="#F8766D" stroke-width="3.0" stroke-linecap="round"/><path d="M429.7 133.5h0" stroke="#00BFC4" stroke-width="3.0" stroke-linecap="round"/><path d="M425.7 127.9h0M427.7 139.7h0M432.5 139.3h0" stroke="#F8766D" stroke-width="3.0" stroke-linecap="round"/><path d="M417.8 139.6h0" stroke="#00BFC4" stroke-width="3.0" stroke-linecap="round"/><path d="M413.5 123.3h0" stroke="#F8766D" stroke-width="3.0" stroke-linecap="round"/><path d="M415.6 131.0h0" stroke="#00BFC4" stroke-width="3.0" stroke-linecap="round"/><path d="M399.9 130.1h0" stroke="#F8766D" stroke-width="3.0" stroke-linecap="round"/><path d="M405.5 134.2h0M407.0 134.1h0M418.4 132.8h0M417.0 142.9h0M403.5 131.6h0M409.0 132.0h0M424.7 137.4h0" stroke="#00BFC4" stroke-width="3.0" stroke-linecap="round"/><path d="M421.3 142.8h0" stroke="#F8766D" stroke-width="3.0" stroke-linecap="round"/><path d="M417.8 137.0h0M418.6 137.0h0M419.6 127.4h0M412.7 135.2h0M425.4 138.1h0" stroke="#00BFC4" stroke-width="3.0" stroke-linecap="round"/><path d="M406.9 125.8h0M431.6 144.5h0" stroke="#F8766D" stroke-width="3.0" stroke-linecap="round"/><path d="M410.6 138.3h0M418.1 125.1h0M412.8 131.9h0M415.5 134.9h0M410.4 132.1h0" stroke="#00BFC4" stroke-width="3.0" stroke-linecap="round"/><path d="M399.1 138.2h0" stroke="#F8766D" stroke-width="3.0" stroke-linecap="round"/><path d="M406.1 120.2h0" stroke="#00BFC4" stroke-width="3.0" stroke-linecap="round"/><path d="M405.2 144.8h0" stroke="#F8766D" stroke-width="3.0" stroke-linecap="round"/><path d="M431.2 129.7h0M433.2 138.5h0M397.5 129.1h0" stroke="#00BFC4" stroke-width="3.0" stroke-linecap="round"/><path d="M425.7 143.7h0M406.1 127.4h0" stroke="#F8766D" stroke-width="3.0" stroke-linecap="round"/><path d="M416.7 136.0h0M425.6 128.6h0" stroke="#00BFC4" stroke-width="3.0" stroke-linecap="round"/><path d="M401.6 129.8h0M426.9 128.7h0" stroke="#F8766D" stroke-width="3.0" stroke-linecap="round"/><path d="M401.4 136.0h0M426.7 133.7h0" stroke="#00BFC4" stroke-width="3.0" stroke-linecap="round"/><path d="M422.6 131.8h0" stroke="#F8766D" stroke-width="3.0" stroke-linecap="round"/><path d="M410.4 140.3h0M402.6 138.6h0" stroke="#00BFC4" stroke-width="3.0" stroke-linecap="round"/><path d="M415.6 121.7h0" stroke="#F8766D" stroke-width="3.0" stroke-linecap="round"/><path d="M410.8 142.1h0" stroke="#00BFC4" stroke-width="3.0" stroke-linecap="round"/><path d="M396.3 131.9h0" stroke="#F8766D" stroke-width="3.0" stroke-linecap="round"/><path d="M406.8 139.2h0M423.7 138.7h0M424.0 141.4h0M421.1 142.0h0M414.7 124.6h0M404.6 124.3h0" stroke="#00BFC4" stroke-width="3.0" stroke-linecap="round"/><path d="M428.3 139.8h0" stroke="#F8766D" stroke-width="3.0" stroke-linecap="round"/><path d="M418.3 126.7h0M410.5 127.8h0M403.7 134.2h0M400.7 132.3h0M422.0 136.8h0M413.4 125.8h0M426.7 131.3h0M419.3 128.7h0M429.4 134.2h0" stroke="#00BFC4" stroke-width="3.0" stroke-linecap="round"/><path d="M409.2 143.5h0M402.4 125.1h0" stroke="#F8766D" stroke-width="3.0" stroke-linecap="round"/><path d="M410.9 126.5h0M427.4 133.1h0M421.2 140.0h0M413.2 128.8h0M414.0 137.8h0M417.5 138.6h0M422.0 135.6h0" stroke="#00BFC4" stroke-width="3.0" stroke-linecap="round"/><path d="M397.2 130.9h0" stroke="#F8766D" stroke-width="3.0" stroke-linecap="round"/><path d="M414.4 138.3h0M409.5 135.4h0M410.4 130.7h0M402.6 125.9h0M414.9 139.8h0M412.3 134.1h0M407.9 143.0h0M421.4 135.3h0M432.4 132.0h0M416.6 141.5h0" stroke="#00BFC4" stroke-width="3.0" stroke-linecap="round"/><path d="M404.9 132.3h0" stroke="#F8766D" stroke-width="3.0" stroke-linecap="round"/><path d="M421.3 126.8h0M404.3 137.5h0" stroke="#00BFC4" stroke-width="3.0" stroke-linecap="round"/><path d="M411.4 124.4h0" stroke="#F8766D" stroke-width="3.0" stroke-linecap="round"/><path d="M418.6 136.2h0M408.6 130.2h0" stroke="#00BFC4" stroke-width="3.0" stroke-linecap="round"/><path d="M398.1 138.2h0M426.0 142.6h0M400.4 136.8h0M397.1 133.3h0M418.7 125.6h0" stroke="#F8766D" stroke-width="3.0" stroke-linecap="round"/><path d="M414.8 138.1h0" stroke="#00BFC4" stroke-width="3.0" stroke-linecap="round"/><path d="M427.1 141.3h0" stroke="#F8766D" stroke-width="3.0" stroke-linecap="round"/><path d="M430.9 127.5h0M431.1 132.0h0M430.3 126.7h0M403.8 133.3h0M410.8 126.4h0M407.9 129.0h0M409.5 141.7h0M408.9 141.3h0M421.8 134.3h0M409.6 131.0h0" stroke="#00BFC4" stroke-width="3.0" stroke-linecap="round"/><path d="M427.7 126.6h0" stroke="#F8766D" stroke-width="3.0" stroke-linecap="round"/><path d="M432.7 132.2h0" stroke="#00BFC4" stroke-width="3.0" stroke-linecap="round"/><path d="M404.2 141.2h0M431.7 135.9h0" stroke="#F8766D" stroke-width="3.0" stroke-linecap="round"/><path d="M422.6 135.9h0M424.1 128.5h0M425.8 128.1h0M408.2 125.7h0M402.0 131.4h0M411.2 131.7h0M412.8 125.7h0M429.1 139.3h0" stroke="#00BFC4" stroke-width="3.0" stroke-linecap="round"/><path d="M413.5 146.5h0" stroke="#F8766D" stroke-width="3.0" stroke-linecap="round"/><path d="M418.4 135.4h0M412.8 126.9h0M422.7 130.0h0M406.7 131.3h0" stroke="#00BFC4" stroke-width="3.0" stroke-linecap="round"/><path d="M406.3 128.3h0" stroke="#F8766D" stroke-width="3.0" stroke-linecap="round"/><path d="M409.6 136.8h0M403.5 136.6h0" stroke="#00BFC4" stroke-width="3.0" stroke-linecap="round"/><path d="M419.6 141.6h0M400.7 131.2h0" stroke="#F8766D" stroke-width="3.0" stroke-linecap="round"/><path d="M403.9 127.7h0M414.8 139.4h0M413.4 139.0h0M432.0 139.5h0M402.4 124.5h0" stroke="#00BFC4" stroke-width="3.0" stroke-linecap="round"/><path d="M430.5 141.0h0" stroke="#F8766D" stroke-width="3.0" stroke-linecap="round"/><path d="M405.3 135.5h0M417.1 125.0h0M402.5 132.8h0M414.0 125.4h0" stroke="#00BFC4" stroke-width="3.0" stroke-linecap="round"/><path d="M429.3 143.6h0" stroke="#F8766D" stroke-width="3.0" stroke-linecap="round"/><path d="M422.1 135.1h0M401.5 135.8h0" stroke="#00BFC4" stroke-width="3.0" stroke-linecap="round"/><path d="M418.3 122.5h0" stroke="#F8766D" stroke-width="3.0" stroke-linecap="round"/><path d="M407.5 128.3h0M404.8 137.4h0M417.7 136.7h0M433.3 139.2h0M421.5 123.5h0M409.0 134.9h0M414.7 137.6h0M414.0 138.4h0M418.7 125.1h0M416.6 127.0h0M401.2 140.5h0M426.4 140.9h0" stroke="#00BFC4" stroke-width="3.0" stroke-linecap="round"/><path d="M404.8 144.5h0M397.2 129.3h0M435.3 142.9h0" stroke="#F8766D" stroke-width="3.0" stroke-linecap="round"/><path d="M402.7 135.5h0" stroke="#00BFC4" stroke-width="3.0" stroke-linecap="round"/><path d="M412.1 124.4h0" stroke="#F8766D" stroke-width="3.0" stroke-linecap="round"/><path d="M416.7 135.7h0M398.2 131.6h0M422.1 133.1h0M426.2 134.5h0M414.0 143.0h0" stroke="#00BFC4" stroke-width="3.0" stroke-linecap="round"/><path d="M430.2 139.6h0M433.8 136.1h0" stroke="#F8766D" stroke-width="3.0" stroke-linecap="round"/><path d="M427.6 138.6h0M408.3 131.8h0M424.6 132.8h0M416.8 140.8h0" stroke="#00BFC4" stroke-width="3.0" stroke-linecap="round"/><path d="M403.0 135.5h0M422.8 122.8h0" stroke="#F8766D" stroke-width="3.0" stroke-linecap="round"/><path d="M423.3 138.0h0M431.8 137.6h0M420.6 129.7h0M422.5 140.1h0" stroke="#00BFC4" stroke-width="3.0" stroke-linecap="round"/><path d="M416.9 125.4h0" stroke="#F8766D" stroke-width="3.0" stroke-linecap="round"/><path d="M430.8 139.4h0" stroke="#00BFC4" stroke-width="3.0" stroke-linecap="round"/><path d="M418.8 140.0h0" stroke="#F8766D" stroke-width="3.0" stroke-linecap="round"/><path d="M420.2 145.0h0" stroke="#00BFC4" stroke-width="3.0" stroke-linecap="round"/><path d="M406.6 142.6h0" stroke="#F8766D" stroke-width="3.0" stroke-linecap="round"/><path d="M415.5 140.7h0M416.7 138.5h0M414.0 143.2h0M430.5 131.4h0" stroke="#00BFC4" stroke-width="3.0" stroke-linecap="round"/><path d="M410.7 135.2h0M410.8 132.7h0M425.5 144.9h0" stroke="#F8766D" stroke-width="3.0" stroke-linecap="round"/><path d="M402.4 136.6h0M403.4 140.5h0M432.7 133.2h0" stroke="#00BFC4" stroke-width="3.0" stroke-linecap="round"/><path d="M422.6 142.6h0M400.9 140.2h0" stroke="#F8766D" stroke-width="3.0" stroke-linecap="round"/><path d="M417.2 139.5h0M403.7 133.0h0M412.4 132.4h0M404.5 129.9h0M408.4 135.4h0M407.7 130.3h0M403.7 127.0h0M418.9 133.2h0" stroke="#00BFC4" stroke-width="3.0" stroke-linecap="round"/><path d="M415.2 145.9h0" stroke="#F8766D" stroke-width="3.0" stroke-linecap="round"/><path d="M426.6 129.4h0" stroke="#00BFC4" stroke-width="3.0" stroke-linecap="round"/><path d="M416.3 146.1h0M418.9 122.7h0" stroke="#F8766D" stroke-width="3.0" stroke-linecap="round"/><path d="M403.4 129.9h0" stroke="#00BFC4" stroke-width="3.0" stroke-linecap="round"/><path d="M399.9 138.4h0" stroke="#F8766D" stroke-width="3.0" stroke-linecap="round"/><path d="M424.9 136.3h0M417.5 124.8h0M419.2 130.5h0M426.0 130.1h0" stroke="#00BFC4" stroke-width="3.0" stroke-linecap="round"/><path d="M430.5 128.3h0M410.3 124.5h0M405.1 124.4h0" stroke="#F8766D" stroke-width="3.0" stroke-linecap="round"/><path d="M404.0 133.0h0M416.8 123.8h0" stroke="#00BFC4" stroke-width="3.0" stroke-linecap="round"/><path d="M401.2 138.9h0" stroke="#F8766D" stroke-width="3.0" stroke-linecap="round"/><path d="M432.3 132.9h0M417.0 134.6h0M399.6 134.3h0M415.0 139.2h0M422.9 130.2h0" stroke="#00BFC4" stroke-width="3.0" stroke-linecap="round"/><path d="M421.3 123.9h0" stroke="#F8766D" stroke-width="3.0" stroke-linecap="round"/><path d="M407.5 139.9h0M400.0 134.0h0M414.8 138.4h0M420.3 139.0h0M433.6 132.0h0" stroke="#00BFC4" stroke-width="3.0" stroke-linecap="round"/><path d="M428.3 136.6h0" stroke="#F8766D" stroke-width="3.0" stroke-linecap="round"/><path d="M421.0 133.4h0M421.3 145.4h0" stroke="#00BFC4" stroke-width="3.0" stroke-linecap="round"/><path d="M429.4 139.1h0" stroke="#F8766D" stroke-width="3.0" stroke-linecap="round"/><path d="M428.4 130.8h0M420.0 128.1h0M432.0 129.7h0M407.8 133.9h0M418.0 140.2h0" stroke="#00BFC4" stroke-width="3.0" stroke-linecap="round"/><path d="M412.4 125.1h0" stroke="#F8766D" stroke-width="3.0" stroke-linecap="round"/><path d="M428.4 136.8h0M414.6 131.0h0M405.9 133.9h0M417.9 133.0h0M410.0 139.6h0" stroke="#00BFC4" stroke-width="3.0" stroke-linecap="round"/><path d="M423.5 144.4h0" stroke="#F8766D" stroke-width="3.0" stroke-linecap="round"/><path d="M408.0 136.1h0" stroke="#00BFC4" stroke-width="3.0" stroke-linecap="round"/><path d="M407.1 141.2h0" stroke="#F8766D" stroke-width="3.0" stroke-linecap="round"/><path d="M421.8 130.6h0" stroke="#00BFC4" stroke-width="3.0" stroke-linecap="round"/><path d="M426.6 132.5h0" stroke="#F8766D" stroke-width="3.0" stroke-linecap="round"/><path d="M425.3 136.2h0M410.3 141.3h0" stroke="#00BFC4" stroke-width="3.0" stroke-linecap="round"/><path d="M423.4 127.7h0M431.6 134.4h0M396.5 126.9h0" stroke="#F8766D" stroke-width="3.0" stroke-linecap="round"/><path d="M425.8 140.0h0" stroke="#00BFC4" stroke-width="3.0" stroke-linecap="round"/><path d="M422.8 137.3h0" stroke="#F8766D" stroke-width="3.0" stroke-linecap="round"/><path d="M407.4 136.1h0M405.6 136.4h0M408.2 126.0h0M402.0 140.1h0M404.3 137.9h0M408.2 128.2h0M407.0 134.2h0" stroke="#00BFC4" stroke-width="3.0" stroke-linecap="round"/><path d="M410.0 124.7h0" stroke="#F8766D" stroke-width="3.0" stroke-linecap="round"/><path d="M422.8 134.8h0M413.6 125.3h0" stroke="#00BFC4" stroke-width="3.0" stroke-linecap="round"/><path d="M429.4 126.0h0M427.3 128.8h0" stroke="#F8766D" stroke-width="3.0" stroke-linecap="round"/><path d="M408.6 127.9h0M417.3 129.3h0" stroke="#00BFC4" stroke-width="3.0" stroke-linecap="round"/><path d="M418.3 123.3h0" stroke="#F8766D" stroke-width="3.0" stroke-linecap="round"/><path d="M428.4 129.5h0" stroke="#00BFC4" stroke-width="3.0" stroke-linecap="round"/><path d="M426.9 125.4h0" stroke="#F8766D" stroke-width="3.0" stroke-linecap="round"/><path d="M418.4 124.5h0M421.6 138.0h0M406.1 132.3h0M409.6 137.8h0M423.1 129.2h0M415.0 138.5h0M420.4 128.1h0M425.4 133.4h0" stroke="#00BFC4" stroke-width="3.0" stroke-linecap="round"/><path d="M426.8 124.3h0" stroke="#F8766D" stroke-width="3.0" stroke-linecap="round"/><path d="M403.3 138.5h0" stroke="#00BFC4" stroke-width="3.0" stroke-linecap="round"/><path d="M421.8 144.5h0" stroke="#F8766D" stroke-width="3.0" stroke-linecap="round"/><path d="M413.0 125.9h0" stroke="#00BFC4" stroke-width="3.0" stroke-linecap="round"/><path d="M406.9 124.4h0" stroke="#F8766D" stroke-width="3.0" stroke-linecap="round"/><path d="M419.1 135.5h0" stroke="#00BFC4" stroke-width="3.0" stroke-linecap="round"/><path d="M406.3 142.1h0" stroke="#F8766D" stroke-width="3.0" stroke-linecap="round"/><path d="M412.4 145.2h0M430.0 140.0h0M417.9 126.9h0M429.6 139.1h0M403.5 135.9h0M424.1 139.1h0M401.5 138.8h0M411.6 135.5h0M410.4 141.7h0" stroke="#00BFC4" stroke-width="3.0" stroke-linecap="round"/><path d="M409.7 143.3h0" stroke="#F8766D" stroke-width="3.0" stroke-linecap="round"/><path d="M424.6 140.4h0M404.7 141.6h0M411.6 138.9h0M421.7 131.5h0" stroke="#00BFC4" stroke-width="3.0" stroke-linecap="round"/><path d="M400.3 137.7h0" stroke="#F8766D" stroke-width="3.0" stroke-linecap="round"/><path d="M423.8 127.7h0M405.0 136.4h0" stroke="#00BFC4" stroke-width="3.0" stroke-linecap="round"/><path d="M419.5 123.9h0" stroke="#F8766D" stroke-width="3.0" stroke-linecap="round"/><path d="M403.8 138.2h0M429.2 140.7h0M412.6 133.3h0M428.2 133.1h0M415.0 138.5h0M410.0 131.2h0" stroke="#00BFC4" stroke-width="3.0" stroke-linecap="round"/><path d="M433.9 134.2h0M418.9 126.0h0M436.5 135.0h0" stroke="#F8766D" stroke-width="3.0" stroke-linecap="round"/><path d="M428.2 137.6h0M416.1 135.2h0" stroke="#00BFC4" stroke-width="3.0" stroke-linecap="round"/><path d="M406.5 140.1h0" stroke="#F8766D" stroke-width="3.0" stroke-linecap="round"/><path d="M407.3 138.1h0M424.8 130.8h0" stroke="#00BFC4" stroke-width="3.0" stroke-linecap="round"/><path d="M417.2 123.4h0" stroke="#F8766D" stroke-width="3.0" stroke-linecap="round"/><path d="M401.6 138.9h0M428.1 141.6h0M424.7 138.3h0M403.8 135.2h0M409.6 140.5h0" stroke="#00BFC4" stroke-width="3.0" stroke-linecap="round"/><path d="M415.9 130.8h0" stroke="#F8766D" stroke-width="3.0" stroke-linecap="round"/><path d="M422.1 129.2h0" stroke="#00BFC4" stroke-width="3.0" stroke-linecap="round"/><path d="M424.0 125.5h0" stroke="#F8766D" stroke-width="3.0" stroke-linecap="round"/><path d="M404.5 136.1h0M423.7 131.4h0M404.9 140.9h0M413.4 127.2h0M411.3 133.0h0M414.6 127.7h0" stroke="#00BFC4" stroke-width="3.0" stroke-linecap="round"/><path d="M412.4 122.5h0M423.4 123.1h0" stroke="#F8766D" stroke-width="3.0" stroke-linecap="round"/><path d="M419.6 128.8h0M419.7 126.7h0M411.1 138.0h0M421.9 131.2h0M405.8 146.8h0M417.4 132.4h0M411.0 143.8h0M413.1 130.4h0M407.4 135.5h0" stroke="#00BFC4" stroke-width="3.0" stroke-linecap="round"/><path d="M431.0 137.0h0M429.7 140.7h0M397.5 138.3h0" stroke="#F8766D" stroke-width="3.0" stroke-linecap="round"/><path d="M408.5 123.2h0M402.4 135.9h0M433.0 132.8h0M426.5 132.9h0" stroke="#00BFC4" stroke-width="3.0" stroke-linecap="round"/><path d="M402.5 141.4h0" stroke="#F8766D" stroke-width="3.0" stroke-linecap="round"/><path d="M403.4 122.2h0" stroke="#00BFC4" stroke-width="3.0" stroke-linecap="round"/><path d="M426.2 132.7h0M428.9 133.7h0" stroke="#F8766D" stroke-width="3.0" stroke-linecap="round"/><path d="M406.5 125.4h0" stroke="#00BFC4" stroke-width="3.0" stroke-linecap="round"/><path d="M401.5 138.7h0" stroke="#F8766D" stroke-width="3.0" stroke-linecap="round"/><path d="M409.0 128.8h0M400.6 135.3h0M423.5 137.2h0M412.8 128.5h0M434.0 132.7h0M417.9 133.9h0M415.0 137.0h0M406.0 131.9h0M422.4 137.0h0" stroke="#00BFC4" stroke-width="3.0" stroke-linecap="round"/><path d="M421.7 123.3h0M423.3 134.8h0" stroke="#F8766D" stroke-width="3.0" stroke-linecap="round"/><path d="M416.9 142.0h0" stroke="#00BFC4" stroke-width="3.0" stroke-linecap="round"/><path d="M405.4 133.1h0" stroke="#F8766D" stroke-width="3.0" stroke-linecap="round"/><path d="M421.8 137.7h0M406.1 124.1h0" stroke="#00BFC4" stroke-width="3.0" stroke-linecap="round"/><path d="M423.6 124.5h0" stroke="#F8766D" stroke-width="3.0" stroke-linecap="round"/><path d="M409.8 146.1h0M412.0 128.7h0M417.0 127.1h0M410.0 133.9h0M403.6 140.2h0" stroke="#00BFC4" stroke-width="3.0" stroke-linecap="round"/><path d="M400.2 131.3h0M421.0 125.4h0M403.0 129.2h0" stroke="#F8766D" stroke-width="3.0" stroke-linecap="round"/><path d="M420.7 130.5h0M403.2 129.2h0M423.0 140.7h0" stroke="#00BFC4" stroke-width="3.0" stroke-linecap="round"/><path d="M421.9 126.3h0" stroke="#F8766D" stroke-width="3.0" stroke-linecap="round"/><path d="M405.7 132.9h0M410.2 137.4h0M423.2 138.8h0" stroke="#00BFC4" stroke-width="3.0" stroke-linecap="round"/><path d="M417.2 144.4h0" stroke="#F8766D" stroke-width="3.0" stroke-linecap="round"/><path d="M418.6 135.6h0M416.1 126.8h0M424.3 138.9h0" stroke="#00BFC4" stroke-width="3.0" stroke-linecap="round"/><path d="M407.2 122.2h0" stroke="#F8766D" stroke-width="3.0" stroke-linecap="round"/><path d="M410.7 139.3h0M411.5 131.3h0M416.8 136.7h0" stroke="#00BFC4" stroke-width="3.0" stroke-linecap="round"/><path d="M421.1 124.3h0" stroke="#F8766D" stroke-width="3.0" stroke-linecap="round"/><path d="M413.4 134.2h0M411.7 143.3h0M433.4 136.8h0M424.9 125.4h0M408.5 134.9h0M421.6 139.7h0M402.6 139.3h0M416.7 127.4h0M398.2 133.3h0" stroke="#00BFC4" stroke-width="3.0" stroke-linecap="round"/><path d="M418.6 123.1h0" stroke="#F8766D" stroke-width="3.0" stroke-linecap="round"/><path d="M414.9 136.6h0M405.3 131.9h0M401.5 134.4h0M409.9 141.4h0M396.1 136.7h0M410.2 138.7h0M398.0 129.8h0" stroke="#00BFC4" stroke-width="3.0" stroke-linecap="round"/><path d="M400.4 138.6h0" stroke="#F8766D" stroke-width="3.0" stroke-linecap="round"/><path d="M426.7 125.5h0M422.1 131.9h0M419.2 128.7h0M414.5 125.5h0M419.6 133.0h0" stroke="#00BFC4" stroke-width="3.0" stroke-linecap="round"/><path d="M431.8 136.8h0" stroke="#F8766D" stroke-width="3.0" stroke-linecap="round"/><path d="M427.7 138.1h0" stroke="#00BFC4" stroke-width="3.0" stroke-linecap="round"/><path d="M412.5 121.8h0M421.6 125.1h0" stroke="#F8766D" stroke-width="3.0" stroke-linecap="round"/><path d="M401.3 131.3h0M417.8 128.7h0M412.1 142.0h0M406.3 138.7h0M402.7 129.6h0M425.8 125.4h0M402.9 139.5h0M396.8 137.8h0M399.5 127.7h0M404.7 141.9h0" stroke="#00BFC4" stroke-width="3.0" stroke-linecap="round"/><path d="M411.6 122.2h0M416.2 144.1h0M413.1 122.0h0" stroke="#F8766D" stroke-width="3.0" stroke-linecap="round"/><path d="M409.3 130.9h0M400.1 131.6h0M425.9 128.0h0M428.0 135.7h0M414.0 123.9h0M408.1 139.2h0M410.5 139.7h0M419.0 124.8h0" stroke="#00BFC4" stroke-width="3.0" stroke-linecap="round"/><path d="M430.0 139.4h0M425.2 133.2h0M421.2 125.6h0" stroke="#F8766D" stroke-width="3.0" stroke-linecap="round"/><path d="M404.7 132.9h0M405.0 137.4h0M400.4 135.7h0M409.5 132.5h0M424.0 129.7h0" stroke="#00BFC4" stroke-width="3.0" stroke-linecap="round"/><path d="M429.4 146.0h0M415.2 144.4h0" stroke="#F8766D" stroke-width="3.0" stroke-linecap="round"/><path d="M422.2 132.1h0M401.3 131.6h0M410.7 127.2h0M417.8 138.0h0M400.5 137.8h0" stroke="#00BFC4" stroke-width="3.0" stroke-linecap="round"/><path d="M421.7 125.1h0M413.6 124.5h0" stroke="#F8766D" stroke-width="3.0" stroke-linecap="round"/><path d="M414.1 137.2h0M424.9 125.7h0M407.7 125.0h0M419.0 145.4h0" stroke="#00BFC4" stroke-width="3.0" stroke-linecap="round"/><path d="M421.5 123.0h0" stroke="#F8766D" stroke-width="3.0" stroke-linecap="round"/><path d="M413.3 137.1h0" stroke="#00BFC4" stroke-width="3.0" stroke-linecap="round"/><path d="M419.8 126.0h0M412.4 125.6h0" stroke="#F8766D" stroke-width="3.0" stroke-linecap="round"/><path d="M407.3 127.1h0M420.6 135.2h0" stroke="#00BFC4" stroke-width="3.0" stroke-linecap="round"/><path d="M418.3 123.4h0" stroke="#F8766D" stroke-width="3.0" stroke-linecap="round"/><path d="M413.2 138.4h0" stroke="#00BFC4" stroke-width="3.0" stroke-linecap="round"/><path d="M400.6 130.4h0M428.8 140.2h0" stroke="#F8766D" stroke-width="3.0" stroke-linecap="round"/><path d="M408.4 131.1h0M423.5 142.6h0M431.1 137.8h0M402.0 134.5h0M418.4 140.2h0M407.8 137.4h0M428.7 129.1h0M432.2 136.3h0M404.6 134.3h0" stroke="#00BFC4" stroke-width="3.0" stroke-linecap="round"/><path d="M432.2 135.3h0" stroke="#F8766D" stroke-width="3.0" stroke-linecap="round"/><path d="M422.1 137.2h0M405.9 144.0h0M409.3 139.8h0M404.8 144.8h0M410.1 130.8h0M431.7 143.3h0" stroke="#00BFC4" stroke-width="3.0" stroke-linecap="round"/><path d="M416.8 135.4h0" stroke="#F8766D" stroke-width="3.0" stroke-linecap="round"/><path d="M411.2 124.6h0M417.1 140.8h0M403.8 127.1h0M416.2 132.6h0M426.4 135.1h0" stroke="#00BFC4" stroke-width="3.0" stroke-linecap="round"/><path d="M407.3 126.8h0" stroke="#F8766D" stroke-width="3.0" stroke-linecap="round"/><path d="M406.6 131.5h0M411.8 125.7h0M411.1 130.5h0M408.3 143.7h0" stroke="#00BFC4" stroke-width="3.0" stroke-linecap="round"/><path d="M421.8 125.4h0M432.1 133.4h0M421.9 138.7h0" stroke="#F8766D" stroke-width="3.0" stroke-linecap="round"/><path d="M420.0 128.2h0M412.1 125.2h0" stroke="#00BFC4" stroke-width="3.0" stroke-linecap="round"/><path d="M420.9 123.7h0" stroke="#F8766D" stroke-width="3.0" stroke-linecap="round"/><path d="M415.4 142.3h0M417.8 130.5h0" stroke="#00BFC4" stroke-width="3.0" stroke-linecap="round"/><path d="M415.5 124.6h0" stroke="#F8766D" stroke-width="3.0" stroke-linecap="round"/><path d="M426.8 138.7h0M421.2 142.1h0M424.9 140.4h0" stroke="#00BFC4" stroke-width="3.0" stroke-linecap="round"/><path d="M406.0 124.6h0" stroke="#F8766D" stroke-width="3.0" stroke-linecap="round"/><path d="M428.9 134.8h0M419.1 127.0h0M420.0 139.8h0" stroke="#00BFC4" stroke-width="3.0" stroke-linecap="round"/><path d="M428.9 129.0h0" stroke="#F8766D" stroke-width="3.0" stroke-linecap="round"/><path d="M424.2 141.2h0M415.8 131.7h0M416.2 139.1h0M429.0 135.7h0" stroke="#00BFC4" stroke-width="3.0" stroke-linecap="round"/><path d="M422.7 134.4h0" stroke="#F8766D" stroke-width="3.0" stroke-linecap="round"/><path d="M430.0 129.0h0M419.0 133.6h0M418.4 137.8h0M408.1 132.7h0M429.5 130.4h0M430.6 133.6h0M400.7 142.1h0M428.4 135.6h0" stroke="#00BFC4" stroke-width="3.0" stroke-linecap="round"/><path d="M426.1 126.1h0" stroke="#F8766D" stroke-width="3.0" stroke-linecap="round"/><path d="M421.3 131.2h0M400.9 142.1h0" stroke="#00BFC4" stroke-width="3.0" stroke-linecap="round"/><path d="M399.4 131.5h0" stroke="#F8766D" stroke-width="3.0" stroke-linecap="round"/><path d="M426.9 136.9h0M422.8 128.4h0M414.8 139.7h0" stroke="#00BFC4" stroke-width="3.0" stroke-linecap="round"/><path d="M434.1 138.6h0M422.0 123.5h0M413.0 144.7h0M424.6 144.9h0" stroke="#F8766D" stroke-width="3.0" stroke-linecap="round"/><path d="M416.4 137.6h0" stroke="#00BFC4" stroke-width="3.0" stroke-linecap="round"/><path d="M404.2 124.3h0" stroke="#F8766D" stroke-width="3.0" stroke-linecap="round"/><path d="M411.9 138.3h0M418.7 127.9h0M422.1 127.2h0M416.3 131.6h0M421.0 125.7h0M422.5 124.7h0M418.4 140.3h0M403.3 132.3h0M414.0 133.3h0M417.3 127.4h0M410.6 134.7h0M425.9 131.6h0M418.7 135.8h0" stroke="#00BFC4" stroke-width="3.0" stroke-linecap="round"/><path d="M433.1 133.2h0M404.7 131.1h0" stroke="#F8766D" stroke-width="3.0" stroke-linecap="round"/><path d="M400.5 135.6h0M398.8 133.2h0M403.3 139.7h0" stroke="#00BFC4" stroke-width="3.0" stroke-linecap="round"/><path d="M425.1 139.1h0" stroke="#F8766D" stroke-width="3.0" stroke-linecap="round"/><path d="M417.3 131.8h0M427.6 133.1h0M404.2 143.1h0M416.6 126.5h0M415.4 138.9h0M408.7 136.3h0" stroke="#00BFC4" stroke-width="3.0" stroke-linecap="round"/><path d="M409.7 124.6h0M431.1 136.8h0" stroke="#F8766D" stroke-width="3.0" stroke-linecap="round"/><path d="M418.7 129.1h0M410.7 127.3h0" stroke="#00BFC4" stroke-width="3.0" stroke-linecap="round"/><path d="M399.9 134.7h0M427.9 128.6h0" stroke="#F8766D" stroke-width="3.0" stroke-linecap="round"/><path d="M417.7 141.9h0M428.0 135.5h0M406.6 141.4h0" stroke="#00BFC4" stroke-width="3.0" stroke-linecap="round"/><path d="M432.0 128.4h0M398.9 131.1h0M411.9 122.2h0M423.0 126.3h0" stroke="#F8766D" stroke-width="3.0" stroke-linecap="round"/><path d="M411.6 140.5h0M424.3 126.5h0M413.3 145.8h0" stroke="#00BFC4" stroke-width="3.0" stroke-linecap="round"/><path d="M406.7 142.8h0" stroke="#F8766D" stroke-width="3.0" stroke-linecap="round"/><path d="M412.7 134.8h0" stroke="#00BFC4" stroke-width="3.0" stroke-linecap="round"/><path d="M419.4 143.8h0" stroke="#F8766D" stroke-width="3.0" stroke-linecap="round"/><path d="M408.7 131.6h0" stroke="#00BFC4" stroke-width="3.0" stroke-linecap="round"/><path d="M432.6 131.6h0" stroke="#F8766D" stroke-width="3.0" stroke-linecap="round"/><path d="M422.1 144.0h0M410.5 127.3h0M404.3 137.4h0M416.2 132.5h0M407.1 130.4h0M416.2 141.1h0M398.0 132.3h0M422.8 134.9h0M404.5 133.9h0" stroke="#00BFC4" stroke-width="3.0" stroke-linecap="round"/><path d="M405.4 127.4h0M418.8 123.1h0M413.6 134.0h0" stroke="#F8766D" stroke-width="3.0" stroke-linecap="round"/><path d="M427.8 113.1h0M431.0 112.5h0M429.0 116.4h0M435.0 115.3h0M441.5 117.5h0M439.3 121.8h0M436.0 120.2h0M431.7 119.1h0M426.8 119.6h0M423.0 116.9h0M420.8 119.6h0M416.4 119.1h0M402.2 122.9h0M396.7 126.2h0M391.3 131.7h0M395.1 138.2h0M425.0 123.0h0M430.0 124.0h0M433.0 122.0h0M437.0 124.0h0M412.0 121.0h0M408.0 121.5h0" stroke="#00BFC4" stroke-width="3.0" stroke-linecap="round"/><path d="M429.6 106.3h0M437.0 139.0h0M435.0 133.0h0M432.0 142.0h0M465.2 44.2h0M471.7 27.3h0M474.0 38.4h0M466.4 31.0h0M458.6 36.2h0M463.2 32.6h0M472.1 42.4h0M472.6 34.9h0M475.0 34.3h0M469.8 27.2h0M473.2 32.3h0M472.1 43.3h0M467.9 37.8h0M473.0 36.7h0M480.0 40.0h0M477.7 37.5h0M481.6 40.4h0M468.6 34.8h0M471.0 40.5h0M464.9 44.1h0M470.3 42.1h0M466.0 37.2h0M467.1 41.3h0M470.1 33.5h0M471.8 37.3h0M471.1 37.2h0M474.2 44.2h0M480.8 41.9h0M464.9 45.4h0M469.9 42.2h0M472.2 38.5h0M469.1 22.9h0M470.4 36.4h0M468.6 36.2h0M472.2 35.9h0M474.1 37.0h0M465.0 36.2h0M473.6 33.5h0M461.8 34.1h0M471.5 44.1h0M467.3 39.9h0M478.4 36.3h0M475.1 49.2h0M467.7 41.0h0M467.9 38.4h0M479.1 45.9h0M472.2 32.3h0M460.2 43.1h0M472.7 30.3h0M471.6 39.7h0M469.4 44.8h0M471.4 38.0h0M477.2 34.5h0M473.8 36.6h0M476.8 43.6h0M457.8 37.7h0M473.5 38.3h0M460.8 43.5h0M467.4 37.7h0M466.0 39.6h0M468.6 34.7h0M477.5 39.0h0M467.7 43.8h0M460.6 38.6h0M481.5 40.2h0M480.0 34.8h0M471.3 39.0h0M468.5 23.9h0M483.0 28.2h0M475.3 37.6h0M468.5 43.8h0M471.4 38.1h0M476.0 40.6h0M462.9 36.5h0M485.2 36.7h0M474.7 32.0h0M459.5 38.4h0M470.9 37.6h0M471.2 40.7h0M476.2 41.3h0M466.0 15.5h0M458.0 22.5h0M476.0 52.5h0M455.0 40.5h0M456.0 41.0h0M486.0 36.0h0M470.0 20.5h0M473.0 21.0h0M476.0 20.0h0M459.0 30.0h0M458.5 47.0h0M466.0 46.0h0M584.7 137.9h0M611.6 145.1h0M587.4 139.6h0M609.3 140.3h0M589.6 140.4h0M599.7 132.7h0M613.9 138.5h0M600.0 144.3h0M609.2 146.4h0M592.7 136.5h0M594.6 145.0h0M590.1 134.5h0M603.6 134.7h0M599.4 143.5h0M592.6 141.2h0M610.7 139.3h0M598.4 141.5h0M602.2 142.8h0M612.5 143.3h0M614.1 144.4h0M592.1 142.5h0M609.8 134.9h0M592.5 137.8h0M612.7 138.5h0M604.9 140.2h0M586.0 137.5h0M600.3 138.5h0M591.6 136.9h0M602.6 143.7h0M599.7 141.7h0M592.8 140.9h0M591.8 142.7h0M605.7 146.2h0M597.8 138.7h0M587.7 137.6h0M587.2 135.6h0M609.2 140.1h0M613.8 135.1h0M602.9 134.5h0M603.5 135.5h0M606.9 135.4h0M593.7 132.6h0M612.0 140.9h0M593.4 140.1h0M598.3 140.7h0M602.6 137.9h0M602.4 142.3h0M606.4 146.2h0M597.2 143.6h0M605.6 135.2h0M612.3 143.3h0M613.2 139.6h0M611.6 142.0h0M607.7 143.7h0M606.3 138.8h0M608.7 139.6h0M607.8 146.6h0M609.1 140.9h0M607.1 131.3h0M606.4 138.1h0M601.3 144.8h0M614.3 145.9h0M613.7 138.4h0M595.6 143.7h0M595.7 141.0h0M608.5 147.4h0M597.7 139.9h0M593.3 134.7h0M586.6 134.3h0M603.8 134.1h0M592.4 133.7h0M608.9 138.6h0M593.2 134.7h0M592.0 135.2h0M609.1 139.0h0M605.1 136.9h0M591.0 140.2h0M608.6 145.5h0M600.8 135.8h0M589.2 138.6h0M612.1 146.9h0M604.6 134.1h0M603.7 137.1h0M602.9 139.6h0M593.8 144.9h0M605.8 141.8h0M609.9 146.3h0M599.5 135.9h0M607.8 135.4h0M602.7 131.7h0M610.3 139.1h0M606.0 148.2h0M592.4 139.2h0M595.5 145.6h0M590.8 141.6h0M600.3 145.5h0M595.9 144.6h0M597.0 145.6h0M605.9 143.4h0M591.4 140.4h0M611.6 140.4h0M611.3 144.1h0M598.4 143.4h0M603.8 140.5h0M601.9 146.3h0M604.2 133.8h0M609.8 148.4h0M611.6 142.5h0M592.9 139.1h0M598.1 140.0h0M592.8 134.6h0M604.2 143.5h0M605.6 138.0h0M597.3 141.6h0M594.0 135.9h0M608.1 141.9h0M599.1 134.4h0M611.1 140.0h0M602.1 133.4h0M599.9 140.1h0M590.5 144.6h0M608.8 144.5h0M614.1 142.5h0M607.6 136.7h0M594.9 135.8h0M603.8 144.3h0M588.1 136.3h0M612.1 140.2h0M612.9 145.2h0M592.0 141.2h0M605.2 134.8h0M604.4 140.7h0M589.1 138.0h0M602.1 142.9h0M594.5 137.5h0M609.5 144.9h0M608.9 147.6h0M593.1 141.2h0M599.1 133.2h0M591.1 136.8h0M588.2 142.6h0M607.7 137.3h0M589.2 140.8h0M596.6 144.2h0M612.9 145.6h0M607.9 145.4h0M598.5 135.0h0M608.9 137.8h0M606.8 146.6h0M588.2 139.1h0M598.5 134.3h0M610.0 145.9h0M603.4 137.3h0M608.5 133.3h0M604.5 139.5h0M596.1 134.0h0M612.5 135.5h0M605.2 146.2h0M602.9 143.6h0M592.2 132.2h0M601.9 142.0h0M602.4 142.2h0M608.6 140.1h0M590.1 143.0h0M603.4 144.1h0M609.0 139.8h0M603.0 146.7h0M600.8 138.8h0M603.4 145.0h0M589.1 140.8h0M586.6 139.4h0M615.9 137.5h0M598.0 143.2h0M596.6 138.0h0M607.0 139.1h0M595.2 139.5h0M614.2 137.4h0M608.2 140.8h0M598.5 136.0h0M613.1 146.1h0M591.1 140.9h0M606.4 140.9h0M604.2 145.9h0M609.9 145.9h0M615.3 136.9h0M615.7 137.7h0M598.3 144.3h0M602.3 139.1h0M602.8 141.4h0M599.5 135.2h0M594.9 144.3h0M593.0 142.1h0M604.1 141.6h0M592.1 136.8h0M598.7 141.5h0M591.3 139.6h0M595.1 135.7h0M594.6 138.5h0M596.2 143.0h0M607.6 135.7h0M609.3 145.9h0M614.3 143.0h0M596.8 138.4h0M598.9 144.3h0M595.6 133.2h0M588.3 141.2h0M591.5 139.5h0M604.6 141.3h0M595.1 135.5h0M611.2 137.3h0M598.4 134.1h0M604.1 136.6h0M589.7 137.8h0M599.4 134.7h0M604.7 143.8h0M600.0 142.8h0M588.3 143.1h0M592.9 137.6h0M601.4 135.9h0M595.3 138.3h0M603.7 134.4h0M596.3 137.3h0M595.9 144.5h0M599.0 143.3h0M592.6 139.6h0M609.1 147.2h0M614.4 135.6h0M604.3 133.2h0M604.9 147.0h0M612.9 136.8h0M600.0 134.9h0M606.5 138.2h0M591.4 142.5h0M612.2 137.0h0M590.5 139.6h0M602.7 147.4h0M607.9 141.1h0M608.6 140.6h0M601.3 131.8h0M590.1 143.4h0M599.7 135.8h0M600.1 142.5h0M611.8 147.4h0M598.8 139.4h0M598.6 138.4h0M592.2 142.5h0M599.7 133.9h0M600.2 142.6h0M596.0 139.3h0M590.9 142.1h0M592.7 135.3h0M609.4 138.0h0M598.9 134.4h0M600.2 144.4h0M588.0 139.1h0M598.4 143.7h0M607.0 132.4h0M596.3 146.5h0M590.7 141.3h0M611.6 139.0h0M601.1 142.6h0M604.7 140.1h0M599.9 140.2h0M609.2 139.8h0M595.1 144.2h0M615.8 144.4h0M616.3 137.1h0M599.1 143.1h0M605.4 145.6h0M604.6 139.3h0M598.8 143.3h0M609.0 134.8h0M595.0 139.9h0M594.5 139.1h0M600.8 136.0h0M597.8 133.8h0M614.6 144.8h0M604.2 133.9h0M608.1 138.8h0M605.9 133.5h0M589.0 133.6h0M596.7 134.6h0M612.3 143.3h0M608.7 141.6h0M601.0 138.1h0M602.4 140.7h0M606.6 134.4h0M595.2 144.2h0M588.0 140.9h0M595.9 134.8h0M613.7 135.3h0M603.8 140.7h0M607.1 136.3h0M594.7 134.2h0M610.4 137.1h0M605.4 141.4h0M602.8 140.6h0M610.8 137.0h0M590.1 142.7h0M592.3 134.1h0M600.1 142.3h0M596.5 143.4h0M591.4 136.8h0M599.0 134.7h0M591.2 133.6h0M613.4 136.1h0M614.0 138.7h0M606.2 135.1h0M603.1 143.8h0M601.4 138.0h0M594.1 137.6h0M595.7 140.9h0M602.2 145.3h0M603.0 142.4h0M610.4 135.1h0M615.2 138.5h0M592.8 145.5h0M606.4 147.9h0M602.8 137.3h0M605.5 138.0h0M597.3 139.2h0M598.3 141.4h0M589.4 143.5h0M590.4 141.7h0M594.4 135.0h0M604.7 133.8h0M605.5 138.4h0M606.1 137.2h0M608.8 146.3h0M596.4 134.2h0M592.1 141.7h0M590.2 142.8h0M589.4 142.4h0M611.0 133.3h0M604.9 133.0h0M607.3 133.9h0M597.2 132.0h0M593.8 140.8h0M607.0 145.6h0M595.0 132.6h0M610.9 143.7h0M599.4 142.7h0M598.3 137.6h0M606.3 139.6h0M603.2 137.4h0M605.3 144.0h0M586.3 137.5h0M598.4 143.1h0M598.9 140.4h0M593.3 143.4h0M588.5 138.6h0M589.7 136.3h0M599.6 138.0h0M612.5 136.8h0M603.7 133.9h0M597.9 135.0h0M595.9 136.5h0M612.0 137.0h0M603.3 145.5h0M596.0 139.6h0M611.0 147.0h0M601.3 134.1h0M614.8 139.4h0M603.7 143.9h0M604.8 142.3h0M613.9 136.3h0M595.3 136.6h0M602.2 143.9h0M605.5 143.6h0M613.3 143.6h0M603.0 137.6h0M600.9 144.4h0M614.8 136.1h0M609.2 140.0h0M589.0 138.0h0M608.0 140.3h0M604.8 143.2h0M605.4 133.9h0M608.4 138.4h0M611.2 143.1h0M598.0 139.7h0M609.0 141.0h0M590.5 138.6h0M598.2 142.2h0M604.4 139.3h0M607.0 138.2h0M610.4 140.4h0M589.7 141.1h0M586.2 140.5h0M594.1 141.0h0M613.5 139.0h0M599.9 138.2h0M602.8 134.9h0M607.1 146.0h0M601.8 140.9h0M589.6 135.7h0M612.5 139.0h0M594.6 141.9h0M596.7 136.2h0M598.0 143.1h0M613.4 139.3h0M588.7 138.7h0M593.8 138.3h0M598.1 142.1h0M591.7 136.6h0M589.1 143.5h0M598.0 136.1h0M602.0 134.0h0M609.7 147.3h0M605.4 134.5h0M592.2 141.7h0M601.8 134.7h0M607.0 134.2h0M609.4 140.6h0M599.5 143.1h0M610.1 146.6h0M599.5 136.4h0M609.9 145.8h0M607.7 146.9h0M596.0 134.6h0M590.4 142.3h0M613.5 137.0h0M616.8 139.2h0M605.9 147.9h0M605.7 143.1h0M602.8 132.9h0M600.3 135.5h0M587.2 138.2h0M613.6 140.5h0M608.0 141.7h0M594.8 134.8h0M603.8 136.9h0M615.1 134.6h0M602.9 132.2h0M606.1 134.0h0M596.2 141.4h0M594.2 139.7h0M599.2 141.0h0M587.9 135.8h0M605.2 137.1h0M595.7 133.8h0M609.0 138.1h0M597.9 131.7h0M592.1 134.3h0M591.0 138.7h0M597.8 136.6h0M603.7 144.1h0M589.5 136.5h0M592.4 136.6h0M599.1 134.9h0M594.6 139.3h0M614.8 136.3h0M607.1 141.5h0M598.9 139.6h0M605.6 148.9h0M591.8 136.2h0M608.0 143.8h0M607.9 147.4h0M613.7 139.2h0M608.2 139.7h0M592.0 142.4h0M611.9 137.3h0M592.5 140.9h0M612.9 135.0h0M603.8 140.2h0M603.4 135.8h0M614.0 145.3h0M597.6 142.0h0M603.6 138.9h0M601.5 135.5h0M599.5 144.3h0M595.8 141.0h0M600.8 132.2h0M608.1 134.5h0M590.8 139.5h0M610.4 144.6h0M608.6 146.4h0M605.1 140.5h0M600.0 141.0h0M612.6 142.2h0M599.0 140.8h0M612.1 142.8h0M608.1 137.1h0M612.9 139.0h0M600.1 142.8h0M614.9 140.9h0M601.7 137.6h0M595.0 135.1h0M600.5 145.1h0M604.8 144.8h0M597.0 137.6h0M593.1 143.9h0M611.2 143.7h0M612.0 144.2h0M595.8 141.8h0M594.1 141.5h0M587.9 141.9h0M605.8 144.0h0M596.6 140.6h0M601.5 140.8h0M604.8 145.7h0M611.2 141.3h0M613.0 143.4h0M604.9 145.2h0M602.1 141.5h0M611.3 141.5h0M605.5 138.6h0M601.8 140.5h0M588.8 140.9h0M610.8 142.2h0M607.8 147.4h0M594.5 137.3h0M593.4 133.5h0M598.7 134.5h0M612.4 142.3h0M607.7 136.6h0M604.2 142.6h0M592.4 141.6h0M600.8 141.5h0M587.4 136.3h0M593.1 131.2h0M595.0 134.9h0M597.7 142.6h0M598.6 140.9h0M600.7 143.1h0M600.7 145.9h0M608.5 141.3h0M588.9 143.1h0M604.8 140.2h0M598.7 142.2h0M609.5 137.1h0M604.9 148.3h0M613.7 136.6h0M600.3 135.3h0M600.6 143.0h0M588.0 137.4h0M610.5 136.8h0M615.1 135.9h0M598.7 140.4h0M602.6 137.8h0M595.4 142.7h0M600.2 141.3h0M600.3 138.9h0M606.3 147.3h0M588.1 142.6h0M594.7 141.4h0M596.3 142.6h0M592.6 134.8h0M590.0 139.5h0M609.7 141.3h0M586.4 137.4h0M590.0 139.3h0M591.7 137.7h0M609.8 143.8h0M589.9 140.4h0M592.5 139.8h0M586.9 139.7h0M595.1 142.7h0M591.4 135.6h0M596.6 139.7h0M598.0 139.1h0M591.5 138.3h0M600.3 144.5h0M595.4 137.7h0M584.2 135.8h0M593.0 143.4h0M601.1 142.7h0M595.4 137.3h0M598.5 136.8h0M602.0 143.6h0M600.3 134.3h0M610.6 148.2h0M604.0 137.7h0M598.1 140.5h0M599.1 146.4h0M603.9 140.4h0M607.4 144.4h0M606.2 142.8h0M599.1 141.8h0M611.5 142.5h0M608.9 142.8h0M607.2 133.6h0M614.0 144.0h0M616.2 139.7h0M597.1 138.5h0M596.9 142.0h0M589.9 142.2h0M599.7 136.6h0M611.1 139.2h0M589.8 137.8h0M604.2 147.8h0M607.0 139.6h0M593.4 136.9h0M587.5 136.3h0M604.8 134.7h0M592.9 141.5h0M608.5 143.5h0M606.7 147.8h0M600.6 142.5h0M599.0 146.4h0M575.1 135.0h0M577.6 137.1h0M579.3 134.6h0M581.9 135.0h0M578.0 134.0h0M580.5 137.5h0M584.4 129.5h0M588.6 129.9h0M592.9 129.9h0M600.5 128.2h0M616.6 132.5h0M620.8 132.5h0M622.9 133.3h0M621.6 137.5h0M620.0 141.8h0M619.0 145.2h0M618.5 133.0h0M622.0 136.0h0M590.0 148.5h0M585.0 145.5h0M569.8 142.2h0M572.5 144.3h0" stroke="#F8766D" stroke-width="3.0" stroke-linecap="round"/><path d="M380.0 9V155.4H634.5" fill="none" stroke="#303030" stroke-width="1.05"/><path d="M378.2 38.6H380.0" stroke="#333" stroke-width="0.7"/><text x="377.9" y="40.5" text-anchor="end" font-size="4.8" fill="#2a2a2a" stroke="#2a2a2a" stroke-width="0.08" font-family="Liberation Sans, sans-serif">0.10</text><path d="M378.2 84.8H380.0" stroke="#333" stroke-width="0.7"/><text x="377.9" y="86.7" text-anchor="end" font-size="4.8" fill="#2a2a2a" stroke="#2a2a2a" stroke-width="0.08" font-family="Liberation Sans, sans-serif">0.05</text><path d="M378.2 131H380.0" stroke="#333" stroke-width="0.7"/><text x="377.9" y="132.9" text-anchor="end" font-size="4.8" fill="#2a2a2a" stroke="#2a2a2a" stroke-width="0.08" font-family="Liberation Sans, sans-serif">0.00</text><path d="M392.6 155.4V156.6" stroke="#333" stroke-width="0.7"/><text x="392.6" y="161.4" text-anchor="middle" font-size="4.8" fill="#2a2a2a" stroke="#2a2a2a" stroke-width="0.08" font-family="Liberation Sans, sans-serif">-0.02</text><path d="M449.8 155.4V156.6" stroke="#333" stroke-width="0.7"/><text x="449.8" y="161.4" text-anchor="middle" font-size="4.8" fill="#2a2a2a" stroke="#2a2a2a" stroke-width="0.08" font-family="Liberation Sans, sans-serif">0.00</text><path d="M507 155.4V156.6" stroke="#333" stroke-width="0.7"/><text x="507" y="161.4" text-anchor="middle" font-size="4.8" fill="#2a2a2a" stroke="#2a2a2a" stroke-width="0.08" font-family="Liberation Sans, sans-serif">0.02</text><path d="M564.2 155.4V156.6" stroke="#333" stroke-width="0.7"/><text x="564.2" y="161.4" text-anchor="middle" font-size="4.8" fill="#2a2a2a" stroke="#2a2a2a" stroke-width="0.08" font-family="Liberation Sans, sans-serif">0.04</text><path d="M621.4 155.4V156.6" stroke="#333" stroke-width="0.7"/><text x="621.4" y="161.4" text-anchor="middle" font-size="4.8" fill="#2a2a2a" stroke="#2a2a2a" stroke-width="0.08" font-family="Liberation Sans, sans-serif">0.06</text><text transform="translate(507.3 167.4) scale(0.94 1)" text-anchor="middle" font-size="6.6" font-weight="bold" fill="#000" stroke="#000" stroke-width="0.08" font-family="Liberation Sans, sans-serif">PCA1(9.10%)</text><text transform="translate(365.8 82.2) rotate(-90) scale(0.94 1)" text-anchor="middle" font-size="6.6" font-weight="bold" fill="#000" stroke="#000" stroke-width="0.08" font-family="Liberation Sans, sans-serif">PCA2(3.06%)</text><path d="M63.2 239.8h0M64.6 226.3h0M73.4 243.4h0M66.9 227.6h0M78.3 232.8h0M65.1 230.8h0M69.6 224.6h0M72.4 221.0h0M78.3 242.8h0M72.9 231.4h0M76.7 241.7h0M91.9 238.0h0M83.9 244.2h0M86.8 224.3h0M70.1 234.6h0M70.0 217.4h0M68.1 236.5h0M82.4 231.6h0M79.5 242.7h0M81.8 243.6h0M68.6 227.7h0M79.3 236.5h0M79.9 244.3h0M72.5 221.4h0M62.9 224.3h0M75.7 246.3h0M69.0 230.0h0M84.9 243.3h0M74.2 227.0h0M80.9 238.9h0M82.9 234.2h0M76.5 248.9h0M89.5 241.9h0M85.4 242.1h0M71.8 234.5h0M76.1 224.4h0M66.0 222.8h0M66.2 221.9h0M73.0 232.4h0M73.0 243.2h0M66.3 222.8h0M69.4 221.4h0M66.6 226.5h0M80.6 247.0h0M67.6 218.4h0M75.2 231.5h0M67.2 223.7h0M71.0 222.3h0M65.8 230.9h0M78.2 222.6h0M78.6 233.6h0M74.7 240.9h0M78.7 234.3h0M73.5 246.6h0M74.8 226.2h0M82.6 232.6h0M81.9 242.8h0M77.1 239.0h0M66.0 236.3h0M80.4 242.9h0M73.4 229.7h0M63.8 229.4h0M74.6 224.8h0M79.6 227.1h0M68.8 239.3h0M76.3 223.4h0M71.7 219.8h0M64.2 216.6h0M74.7 227.7h0M79.8 228.5h0M77.7 239.0h0M72.8 246.3h0M86.4 225.3h0M86.7 236.7h0M69.2 234.7h0M76.9 243.2h0M69.9 226.6h0M71.1 247.2h0M77.7 249.6h0M87.3 227.2h0M81.6 244.0h0M80.8 231.3h0M87.6 230.9h0M66.6 232.9h0M83.5 231.6h0M86.4 227.9h0M79.3 227.0h0M71.1 231.8h0M70.5 245.4h0M75.1 246.5h0M76.7 245.4h0M64.2 225.8h0M71.6 241.6h0M77.7 242.6h0M63.3 220.7h0M66.7 240.2h0M75.7 237.0h0M68.3 231.4h0M86.5 231.9h0M73.2 228.3h0M77.5 228.2h0M85.9 247.6h0M66.8 224.3h0M71.9 233.7h0M83.9 241.0h0M67.1 221.0h0M82.5 228.7h0M83.6 241.5h0M88.1 237.1h0M74.6 230.7h0M86.3 227.2h0M88.5 242.1h0M75.7 238.7h0M64.2 219.7h0M75.6 236.6h0M75.2 242.5h0M76.9 240.1h0M87.6 244.4h0M74.2 224.9h0M72.3 232.8h0M73.1 243.3h0M85.9 223.9h0M66.7 240.1h0M69.6 238.9h0M79.1 237.1h0M69.7 233.4h0M82.3 247.9h0M78.3 242.2h0M66.3 241.3h0M69.1 217.7h0M71.9 252.5h0M69.5 216.5h0M69.7 215.5h0M95.5 241.1h0M109.3 248.7h0M69.9 216.6h0M95.2 235.7h0M81.3 230.3h0M87.8 248.4h0M107.2 252.8h0M104.6 236.8h0M114.5 247.7h0M89.2 232.5h0M71.7 218.2h0M74.7 251.4h0M98.8 233.4h0M82.8 251.0h0M102.5 236.0h0M72.2 219.5h0M62.0 224.7h0M95.0 251.3h0M92.0 258.4h0M65.7 230.2h0M75.3 230.6h0M93.6 245.5h0M80.7 248.9h0M65.2 234.8h0M79.6 239.1h0M92.0 245.0h0M100.8 254.0h0M86.8 226.4h0M71.7 235.7h0M80.6 225.2h0M76.5 236.7h0M88.8 230.0h0M68.2 237.9h0M75.6 245.3h0M94.5 228.6h0M64.9 244.2h0M83.9 249.4h0M73.2 243.3h0M108.8 254.3h0M73.3 238.0h0M109.6 244.3h0M82.1 257.9h0M77.9 236.0h0M65.9 241.9h0M93.0 250.0h0M93.0 253.2h0M72.9 249.7h0M92.8 241.6h0M61.7 224.6h0M68.3 221.6h0M87.0 239.8h0M74.3 227.0h0M85.6 224.8h0M110.3 254.4h0M75.8 247.8h0M114.4 246.4h0M69.5 250.3h0M67.8 227.9h0M89.9 231.6h0M86.6 239.2h0M98.0 233.7h0M108.8 250.2h0M73.5 236.7h0M83.8 245.3h0M73.6 246.5h0M64.1 242.1h0M78.5 221.9h0M95.6 242.0h0M69.9 239.6h0M69.8 246.1h0M96.4 249.0h0M66.4 216.7h0M96.3 245.8h0M70.1 250.3h0M101.8 252.8h0M69.8 232.7h0M83.3 221.0h0M62.8 221.0h0M76.1 228.9h0M74.5 256.3h0M64.9 221.5h0M103.5 250.5h0M87.5 238.9h0M69.8 244.0h0M99.2 247.9h0M113.8 246.0h0M99.5 236.3h0M63.7 220.7h0M86.3 256.5h0M67.5 233.7h0M78.2 252.9h0M69.8 235.3h0M108.7 253.0h0M105.6 245.7h0M104.6 250.9h0M64.8 230.6h0M65.5 242.9h0M66.6 246.2h0M68.8 217.7h0M88.3 234.5h0M104.9 237.3h0M91.3 249.7h0M68.0 224.8h0M81.6 249.8h0M102.0 249.3h0M83.7 257.0h0M74.5 242.4h0M64.6 248.7h0M77.2 256.5h0M81.5 255.4h0M77.8 219.1h0M107.0 251.9h0M86.6 224.9h0M87.1 228.9h0M71.9 251.9h0M68.9 240.9h0M102.7 248.1h0M110.0 245.2h0M71.7 253.1h0M65.8 226.7h0M62.0 232.5h0M82.4 242.1h0M80.0 243.4h0M63.0 246.8h0M104.7 238.8h0M74.6 221.9h0M82.0 237.0h0M66.8 238.7h0M72.5 249.0h0M82.8 245.4h0M90.1 256.0h0M87.5 248.9h0M76.9 239.3h0M80.6 250.4h0M87.4 235.1h0M101.7 239.6h0M76.5 251.2h0M87.4 223.9h0M80.4 235.4h0M84.4 222.3h0M86.3 232.1h0M70.7 250.0h0M100.8 253.7h0M63.6 249.7h0M104.7 230.1h0M62.6 242.5h0M95.0 246.1h0M48.0 229.3h0M62.0 213.5h0M65.0 214.0h0M134.0 252.4h0M128.8 257.0h0M130.8 244.8h0M128.6 261.5h0M131.2 248.8h0M127.9 255.6h0M122.0 254.4h0M142.3 247.7h0M131.5 262.9h0M136.1 248.1h0M129.2 266.8h0M130.6 239.0h0M129.8 249.7h0M127.9 254.6h0M143.2 263.7h0M146.5 257.0h0M129.3 249.1h0M122.8 258.4h0M127.9 257.0h0M135.6 260.6h0M131.9 256.1h0M135.9 257.1h0M135.1 245.6h0M139.6 260.3h0M125.2 258.9h0M121.5 253.1h0M127.6 254.9h0M128.9 260.5h0M145.5 251.6h0M131.7 258.8h0M130.8 251.4h0M122.4 248.0h0M126.7 255.3h0M137.5 247.7h0M128.8 250.5h0M134.3 250.5h0M126.2 255.7h0M137.5 252.8h0M127.4 251.7h0M136.1 250.2h0M126.6 241.5h0M134.4 259.5h0M134.5 253.7h0M137.9 253.3h0M130.3 260.5h0M151.6 249.5h0M137.4 257.7h0M145.7 249.9h0M130.3 249.3h0M131.1 260.9h0M120.7 243.2h0M150.5 252.5h0M124.9 258.1h0M135.2 250.7h0M133.0 256.6h0M131.5 254.0h0M132.7 242.4h0M138.4 261.0h0M131.2 254.2h0M137.6 248.1h0M134.1 247.3h0M130.0 255.8h0M121.8 246.1h0M140.1 244.1h0M132.5 258.7h0M157.8 247.6h0M137.5 265.5h0M128.0 237.5h0M132.0 238.0h0M135.0 237.0h0M140.0 236.5h0M151.0 253.0h0M146.0 259.0h0M206.0 296.9h0M188.3 302.8h0M194.4 283.5h0M201.7 282.7h0M184.7 295.9h0M205.7 292.4h0M177.2 286.2h0M199.7 282.8h0M194.2 280.9h0M190.4 296.5h0M223.2 273.9h0M190.8 273.5h0M180.4 296.9h0M216.2 271.0h0M168.9 300.4h0M194.1 282.3h0M179.3 297.9h0M200.0 277.1h0M200.6 275.8h0M204.4 271.0h0M205.1 293.3h0M191.6 278.0h0M181.7 279.2h0M184.2 297.0h0M191.0 287.0h0M180.3 294.2h0M199.7 294.6h0M188.5 296.7h0M187.1 296.3h0M182.8 299.6h0M168.4 303.0h0M212.4 267.5h0M216.2 275.5h0M210.0 277.6h0M204.3 286.8h0M218.2 282.9h0M194.9 276.2h0M165.6 301.0h0M205.2 282.6h0M203.5 295.8h0M169.9 297.7h0M180.6 303.6h0M215.5 272.1h0M174.7 305.9h0M197.3 284.5h0M172.3 297.4h0M220.9 279.2h0M198.9 294.2h0M219.8 274.9h0M187.2 303.5h0M182.3 286.2h0M182.3 294.5h0M198.0 284.9h0M204.2 293.6h0M215.2 274.4h0M170.9 294.1h0M223.5 275.3h0M169.7 307.0h0M197.6 278.4h0M192.1 300.9h0M196.4 295.3h0M185.5 279.8h0M191.1 297.6h0M201.6 280.0h0M168.2 294.2h0M164.4 305.0h0M184.8 279.9h0M202.2 272.2h0M175.2 298.8h0M183.1 305.4h0M169.6 309.6h0M183.7 278.9h0M200.5 292.6h0M211.8 284.0h0M170.0 292.1h0M180.6 288.1h0M201.5 288.6h0M165.7 290.4h0M174.3 307.2h0M192.3 284.8h0M184.3 284.5h0M164.2 293.8h0M201.1 290.8h0M174.3 299.5h0M199.1 294.3h0M202.8 294.5h0M198.9 276.4h0M205.6 293.4h0M186.9 291.5h0M162.1 305.1h0M190.8 284.3h0M189.5 303.6h0M219.3 279.5h0M184.6 300.4h0M182.5 305.4h0M164.5 313.0h0M171.0 318.0h0M171.0 326.0h0M161.0 305.0h0M240.8 235.9h0" stroke="#F8766D" stroke-width="3.0" stroke-linecap="round"/><path d="M251.2 279.1h0" stroke="#00BFC4" stroke-width="3.0" stroke-linecap="round"/><path d="M241.5 268.1h0" stroke="#F8766D" stroke-width="3.0" stroke-linecap="round"/><path d="M259.9 262.9h0M238.3 276.5h0" stroke="#00BFC4" stroke-width="3.0" stroke-linecap="round"/><path d="M267.8 230.0h0M248.3 215.3h0M234.0 269.1h0" stroke="#F8766D" stroke-width="3.0" stroke-linecap="round"/><path d="M256.3 264.9h0" stroke="#00BFC4" stroke-width="3.0" stroke-linecap="round"/><path d="M236.7 276.8h0" stroke="#F8766D" stroke-width="3.0" stroke-linecap="round"/><path d="M257.6 267.3h0" stroke="#00BFC4" stroke-width="3.0" stroke-linecap="round"/><path d="M261.6 230.9h0" stroke="#F8766D" stroke-width="3.0" stroke-linecap="round"/><path d="M238.6 249.6h0M265.5 219.4h0" stroke="#00BFC4" stroke-width="3.0" stroke-linecap="round"/><path d="M240.6 250.5h0" stroke="#F8766D" stroke-width="3.0" stroke-linecap="round"/><path d="M252.9 225.7h0" stroke="#00BFC4" stroke-width="3.0" stroke-linecap="round"/><path d="M249.0 285.6h0" stroke="#F8766D" stroke-width="3.0" stroke-linecap="round"/><path d="M253.8 252.4h0M249.5 246.1h0M238.8 287.1h0M250.1 280.6h0" stroke="#00BFC4" stroke-width="3.0" stroke-linecap="round"/><path d="M247.9 206.0h0" stroke="#F8766D" stroke-width="3.0" stroke-linecap="round"/><path d="M242.5 271.1h0" stroke="#00BFC4" stroke-width="3.0" stroke-linecap="round"/><path d="M236.9 276.7h0M243.6 249.8h0M247.0 273.9h0" stroke="#F8766D" stroke-width="3.0" stroke-linecap="round"/><path d="M261.4 232.2h0M267.3 222.2h0M234.6 253.3h0M253.2 218.2h0" stroke="#00BFC4" stroke-width="3.0" stroke-linecap="round"/><path d="M235.8 262.9h0" stroke="#F8766D" stroke-width="3.0" stroke-linecap="round"/><path d="M250.0 285.0h0M254.3 273.3h0" stroke="#00BFC4" stroke-width="3.0" stroke-linecap="round"/><path d="M249.4 248.7h0M235.9 264.3h0" stroke="#F8766D" stroke-width="3.0" stroke-linecap="round"/><path d="M248.7 232.3h0" stroke="#00BFC4" stroke-width="3.0" stroke-linecap="round"/><path d="M258.9 227.3h0" stroke="#F8766D" stroke-width="3.0" stroke-linecap="round"/><path d="M257.1 231.1h0M243.1 285.7h0M236.8 276.1h0" stroke="#00BFC4" stroke-width="3.0" stroke-linecap="round"/><path d="M261.0 274.5h0" stroke="#F8766D" stroke-width="3.0" stroke-linecap="round"/><path d="M269.9 247.6h0M239.2 280.9h0M243.9 216.8h0M257.5 278.6h0M239.6 289.6h0M242.1 213.4h0" stroke="#00BFC4" stroke-width="3.0" stroke-linecap="round"/><path d="M251.3 267.3h0" stroke="#F8766D" stroke-width="3.0" stroke-linecap="round"/><path d="M245.4 248.4h0M256.9 231.3h0M250.4 203.6h0" stroke="#00BFC4" stroke-width="3.0" stroke-linecap="round"/><path d="M248.6 258.5h0M242.7 223.2h0M251.5 258.9h0" stroke="#F8766D" stroke-width="3.0" stroke-linecap="round"/><path d="M258.2 207.4h0" stroke="#00BFC4" stroke-width="3.0" stroke-linecap="round"/><path d="M259.6 254.6h0" stroke="#F8766D" stroke-width="3.0" stroke-linecap="round"/><path d="M257.0 254.7h0M253.6 238.6h0" stroke="#00BFC4" stroke-width="3.0" stroke-linecap="round"/><path d="M255.1 220.0h0" stroke="#F8766D" stroke-width="3.0" stroke-linecap="round"/><path d="M265.0 253.5h0M263.6 209.2h0M252.9 215.0h0M262.2 231.8h0M254.9 229.9h0M252.4 209.1h0M262.5 258.0h0" stroke="#00BFC4" stroke-width="3.0" stroke-linecap="round"/><path d="M248.6 263.3h0M254.2 243.6h0" stroke="#F8766D" stroke-width="3.0" stroke-linecap="round"/><path d="M240.0 289.6h0M255.0 233.6h0M255.1 276.4h0M245.4 271.9h0" stroke="#00BFC4" stroke-width="3.0" stroke-linecap="round"/><path d="M233.3 265.1h0" stroke="#F8766D" stroke-width="3.0" stroke-linecap="round"/><path d="M263.2 244.0h0M246.7 242.6h0M235.5 274.7h0" stroke="#00BFC4" stroke-width="3.0" stroke-linecap="round"/><path d="M245.7 246.3h0M251.3 280.1h0" stroke="#F8766D" stroke-width="3.0" stroke-linecap="round"/><path d="M231.9 278.7h0" stroke="#00BFC4" stroke-width="3.0" stroke-linecap="round"/><path d="M245.7 216.9h0M263.1 219.5h0" stroke="#F8766D" stroke-width="3.0" stroke-linecap="round"/><path d="M258.2 241.7h0" stroke="#00BFC4" stroke-width="3.0" stroke-linecap="round"/><path d="M236.7 273.2h0" stroke="#F8766D" stroke-width="3.0" stroke-linecap="round"/><path d="M243.4 233.2h0" stroke="#00BFC4" stroke-width="3.0" stroke-linecap="round"/><path d="M239.8 259.7h0M243.6 282.5h0" stroke="#F8766D" stroke-width="3.0" stroke-linecap="round"/><path d="M259.3 260.4h0" stroke="#00BFC4" stroke-width="3.0" stroke-linecap="round"/><path d="M257.7 272.1h0" stroke="#F8766D" stroke-width="3.0" stroke-linecap="round"/><path d="M270.3 256.4h0M264.7 259.1h0" stroke="#00BFC4" stroke-width="3.0" stroke-linecap="round"/><path d="M261.8 213.4h0" stroke="#F8766D" stroke-width="3.0" stroke-linecap="round"/><path d="M259.6 218.3h0" stroke="#00BFC4" stroke-width="3.0" stroke-linecap="round"/><path d="M246.4 285.1h0" stroke="#F8766D" stroke-width="3.0" stroke-linecap="round"/><path d="M262.2 243.5h0M239.6 220.7h0" stroke="#00BFC4" stroke-width="3.0" stroke-linecap="round"/><path d="M258.1 209.8h0M246.6 237.2h0" stroke="#F8766D" stroke-width="3.0" stroke-linecap="round"/><path d="M260.1 211.7h0" stroke="#00BFC4" stroke-width="3.0" stroke-linecap="round"/><path d="M235.9 279.9h0" stroke="#F8766D" stroke-width="3.0" stroke-linecap="round"/><path d="M248.4 231.7h0M240.6 227.5h0" stroke="#00BFC4" stroke-width="3.0" stroke-linecap="round"/><path d="M243.1 218.8h0M257.6 222.5h0" stroke="#F8766D" stroke-width="3.0" stroke-linecap="round"/><path d="M257.4 207.0h0M252.6 286.2h0M263.9 216.2h0M264.0 232.3h0M254.7 210.6h0" stroke="#00BFC4" stroke-width="3.0" stroke-linecap="round"/><path d="M253.6 202.3h0M247.5 249.1h0M245.3 212.7h0" stroke="#F8766D" stroke-width="3.0" stroke-linecap="round"/><path d="M252.2 228.9h0M250.2 280.0h0M247.1 238.2h0M244.4 261.2h0" stroke="#00BFC4" stroke-width="3.0" stroke-linecap="round"/><path d="M246.5 262.9h0" stroke="#F8766D" stroke-width="3.0" stroke-linecap="round"/><path d="M265.3 268.4h0" stroke="#00BFC4" stroke-width="3.0" stroke-linecap="round"/><path d="M261.8 214.7h0M238.9 271.2h0" stroke="#F8766D" stroke-width="3.0" stroke-linecap="round"/><path d="M261.1 243.8h0M257.1 233.8h0M258.1 257.9h0M260.4 237.8h0M266.6 241.8h0M258.6 253.7h0M241.9 283.7h0M245.1 246.1h0" stroke="#00BFC4" stroke-width="3.0" stroke-linecap="round"/><path d="M241.9 224.7h0M266.1 239.5h0M248.4 261.6h0M259.8 212.1h0M261.9 224.0h0" stroke="#F8766D" stroke-width="3.0" stroke-linecap="round"/><path d="M244.1 213.3h0" stroke="#00BFC4" stroke-width="3.0" stroke-linecap="round"/><path d="M238.4 265.1h0" stroke="#F8766D" stroke-width="3.0" stroke-linecap="round"/><path d="M269.9 254.7h0M237.1 276.2h0M263.5 248.2h0M258.2 266.6h0M249.9 246.7h0" stroke="#00BFC4" stroke-width="3.0" stroke-linecap="round"/><path d="M230.6 262.9h0M235.4 267.2h0" stroke="#F8766D" stroke-width="3.0" stroke-linecap="round"/><path d="M246.0 233.1h0M252.2 241.8h0M255.4 210.6h0M255.0 229.4h0M238.1 246.5h0" stroke="#00BFC4" stroke-width="3.0" stroke-linecap="round"/><path d="M240.4 260.7h0" stroke="#F8766D" stroke-width="3.0" stroke-linecap="round"/><path d="M248.7 204.8h0M240.7 238.6h0" stroke="#00BFC4" stroke-width="3.0" stroke-linecap="round"/><path d="M238.3 276.2h0M264.8 245.3h0M239.0 265.9h0M250.4 198.2h0" stroke="#F8766D" stroke-width="3.0" stroke-linecap="round"/><path d="M243.9 218.6h0" stroke="#00BFC4" stroke-width="3.0" stroke-linecap="round"/><path d="M243.2 250.4h0" stroke="#F8766D" stroke-width="3.0" stroke-linecap="round"/><path d="M263.9 260.0h0M230.9 270.0h0M257.5 256.2h0M243.5 285.8h0" stroke="#00BFC4" stroke-width="3.0" stroke-linecap="round"/><path d="M248.7 274.5h0" stroke="#F8766D" stroke-width="3.0" stroke-linecap="round"/><path d="M245.5 250.0h0M245.5 280.8h0" stroke="#00BFC4" stroke-width="3.0" stroke-linecap="round"/><path d="M265.5 236.3h0M245.9 266.7h0M249.3 291.3h0M239.6 239.0h0M246.2 203.4h0" stroke="#F8766D" stroke-width="3.0" stroke-linecap="round"/><path d="M265.0 228.0h0M250.1 230.3h0" stroke="#00BFC4" stroke-width="3.0" stroke-linecap="round"/><path d="M265.6 229.8h0M251.9 259.5h0" stroke="#F8766D" stroke-width="3.0" stroke-linecap="round"/><path d="M264.7 217.2h0M255.5 224.5h0" stroke="#00BFC4" stroke-width="3.0" stroke-linecap="round"/><path d="M254.1 261.4h0M257.9 251.1h0M254.6 258.2h0M241.3 266.1h0" stroke="#F8766D" stroke-width="3.0" stroke-linecap="round"/><path d="M249.1 208.3h0" stroke="#00BFC4" stroke-width="3.0" stroke-linecap="round"/><path d="M242.1 266.8h0" stroke="#F8766D" stroke-width="3.0" stroke-linecap="round"/><path d="M261.0 210.5h0M245.6 220.5h0M245.5 259.6h0" stroke="#00BFC4" stroke-width="3.0" stroke-linecap="round"/><path d="M259.2 261.5h0" stroke="#F8766D" stroke-width="3.0" stroke-linecap="round"/><path d="M249.9 213.1h0M255.3 239.1h0M243.5 261.1h0" stroke="#00BFC4" stroke-width="3.0" stroke-linecap="round"/><path d="M240.6 242.4h0M233.6 261.5h0" stroke="#F8766D" stroke-width="3.0" stroke-linecap="round"/><path d="M237.2 252.3h0M246.5 204.2h0" stroke="#00BFC4" stroke-width="3.0" stroke-linecap="round"/><path d="M243.7 274.3h0M257.9 201.5h0" stroke="#F8766D" stroke-width="3.0" stroke-linecap="round"/><path d="M240.2 263.9h0M250.1 205.0h0M263.6 242.2h0M256.5 207.2h0M264.7 234.0h0" stroke="#00BFC4" stroke-width="3.0" stroke-linecap="round"/><path d="M246.1 245.1h0M250.3 267.1h0M248.0 258.2h0" stroke="#F8766D" stroke-width="3.0" stroke-linecap="round"/><path d="M264.6 274.0h0M262.0 232.1h0M249.2 290.6h0" stroke="#00BFC4" stroke-width="3.0" stroke-linecap="round"/><path d="M242.3 274.8h0" stroke="#F8766D" stroke-width="3.0" stroke-linecap="round"/><path d="M244.7 210.6h0M253.0 272.1h0" stroke="#00BFC4" stroke-width="3.0" stroke-linecap="round"/><path d="M252.4 261.4h0" stroke="#F8766D" stroke-width="3.0" stroke-linecap="round"/><path d="M264.2 237.6h0M267.5 221.1h0M242.9 286.8h0" stroke="#00BFC4" stroke-width="3.0" stroke-linecap="round"/><path d="M262.3 241.6h0M256.0 212.4h0" stroke="#F8766D" stroke-width="3.0" stroke-linecap="round"/><path d="M245.1 223.2h0" stroke="#00BFC4" stroke-width="3.0" stroke-linecap="round"/><path d="M255.7 247.2h0" stroke="#F8766D" stroke-width="3.0" stroke-linecap="round"/><path d="M243.9 209.9h0M237.0 247.8h0M229.3 275.4h0M246.4 278.9h0M262.1 259.0h0M252.6 232.7h0M251.0 281.2h0" stroke="#00BFC4" stroke-width="3.0" stroke-linecap="round"/><path d="M240.3 281.3h0M255.7 224.2h0" stroke="#F8766D" stroke-width="3.0" stroke-linecap="round"/><path d="M241.4 278.1h0" stroke="#00BFC4" stroke-width="3.0" stroke-linecap="round"/><path d="M238.9 248.8h0" stroke="#F8766D" stroke-width="3.0" stroke-linecap="round"/><path d="M258.3 248.8h0M261.8 250.6h0M254.5 248.0h0M246.9 215.1h0M250.2 228.8h0M259.6 208.1h0" stroke="#00BFC4" stroke-width="3.0" stroke-linecap="round"/><path d="M240.4 258.5h0" stroke="#F8766D" stroke-width="3.0" stroke-linecap="round"/><path d="M248.5 290.0h0" stroke="#00BFC4" stroke-width="3.0" stroke-linecap="round"/><path d="M260.0 214.9h0" stroke="#F8766D" stroke-width="3.0" stroke-linecap="round"/><path d="M257.9 271.4h0" stroke="#00BFC4" stroke-width="3.0" stroke-linecap="round"/><path d="M257.3 245.3h0" stroke="#F8766D" stroke-width="3.0" stroke-linecap="round"/><path d="M254.0 278.6h0" stroke="#00BFC4" stroke-width="3.0" stroke-linecap="round"/><path d="M239.3 268.9h0" stroke="#F8766D" stroke-width="3.0" stroke-linecap="round"/><path d="M249.3 272.4h0M255.0 268.4h0M245.8 211.2h0M247.4 264.2h0M247.8 231.5h0" stroke="#00BFC4" stroke-width="3.0" stroke-linecap="round"/><path d="M253.6 270.2h0" stroke="#F8766D" stroke-width="3.0" stroke-linecap="round"/><path d="M254.8 208.9h0" stroke="#00BFC4" stroke-width="3.0" stroke-linecap="round"/><path d="M266.6 266.8h0M237.4 252.3h0M255.3 262.0h0" stroke="#F8766D" stroke-width="3.0" stroke-linecap="round"/><path d="M253.7 277.0h0" stroke="#00BFC4" stroke-width="3.0" stroke-linecap="round"/><path d="M261.6 262.5h0" stroke="#F8766D" stroke-width="3.0" stroke-linecap="round"/><path d="M260.8 209.8h0M253.6 210.1h0M265.7 212.8h0" stroke="#00BFC4" stroke-width="3.0" stroke-linecap="round"/><path d="M253.8 257.9h0" stroke="#F8766D" stroke-width="3.0" stroke-linecap="round"/><path d="M270.7 247.0h0" stroke="#00BFC4" stroke-width="3.0" stroke-linecap="round"/><path d="M241.0 246.8h0M256.3 207.6h0M256.5 249.4h0M241.2 243.1h0" stroke="#F8766D" stroke-width="3.0" stroke-linecap="round"/><path d="M260.9 246.7h0M265.7 215.6h0" stroke="#00BFC4" stroke-width="3.0" stroke-linecap="round"/><path d="M264.8 236.1h0M251.6 256.3h0" stroke="#F8766D" stroke-width="3.0" stroke-linecap="round"/><path d="M249.5 217.4h0M246.6 286.7h0M246.2 286.9h0M248.3 280.4h0M251.7 268.2h0M269.2 250.4h0M256.0 235.6h0M259.3 249.1h0" stroke="#00BFC4" stroke-width="3.0" stroke-linecap="round"/><path d="M241.3 258.3h0" stroke="#F8766D" stroke-width="3.0" stroke-linecap="round"/><path d="M266.3 207.4h0" stroke="#00BFC4" stroke-width="3.0" stroke-linecap="round"/><path d="M252.8 226.7h0" stroke="#F8766D" stroke-width="3.0" stroke-linecap="round"/><path d="M256.7 248.5h0M270.7 234.0h0M253.0 240.4h0M264.1 252.1h0" stroke="#00BFC4" stroke-width="3.0" stroke-linecap="round"/><path d="M245.8 237.5h0" stroke="#F8766D" stroke-width="3.0" stroke-linecap="round"/><path d="M259.5 205.9h0M251.5 287.6h0" stroke="#00BFC4" stroke-width="3.0" stroke-linecap="round"/><path d="M259.2 210.1h0" stroke="#F8766D" stroke-width="3.0" stroke-linecap="round"/><path d="M262.7 257.3h0" stroke="#00BFC4" stroke-width="3.0" stroke-linecap="round"/><path d="M239.9 279.6h0" stroke="#F8766D" stroke-width="3.0" stroke-linecap="round"/><path d="M241.5 240.2h0M257.6 282.6h0M252.2 233.5h0" stroke="#00BFC4" stroke-width="3.0" stroke-linecap="round"/><path d="M238.3 269.6h0" stroke="#F8766D" stroke-width="3.0" stroke-linecap="round"/><path d="M256.7 263.7h0M253.9 234.6h0M268.1 244.7h0" stroke="#00BFC4" stroke-width="3.0" stroke-linecap="round"/><path d="M265.0 217.2h0M245.5 268.0h0" stroke="#F8766D" stroke-width="3.0" stroke-linecap="round"/><path d="M242.1 231.4h0M239.4 249.6h0" stroke="#00BFC4" stroke-width="3.0" stroke-linecap="round"/><path d="M263.6 242.7h0" stroke="#F8766D" stroke-width="3.0" stroke-linecap="round"/><path d="M242.2 279.3h0" stroke="#00BFC4" stroke-width="3.0" stroke-linecap="round"/><path d="M253.8 261.8h0" stroke="#F8766D" stroke-width="3.0" stroke-linecap="round"/><path d="M245.3 220.5h0" stroke="#00BFC4" stroke-width="3.0" stroke-linecap="round"/><path d="M240.5 260.4h0M232.2 263.8h0" stroke="#F8766D" stroke-width="3.0" stroke-linecap="round"/><path d="M230.3 262.5h0M257.8 226.6h0M267.7 256.1h0M250.8 234.6h0M259.6 269.0h0M240.0 250.4h0" stroke="#00BFC4" stroke-width="3.0" stroke-linecap="round"/><path d="M237.1 273.5h0" stroke="#F8766D" stroke-width="3.0" stroke-linecap="round"/><path d="M262.7 270.6h0" stroke="#00BFC4" stroke-width="3.0" stroke-linecap="round"/><path d="M238.0 255.2h0" stroke="#F8766D" stroke-width="3.0" stroke-linecap="round"/><path d="M244.3 289.9h0M243.9 230.0h0" stroke="#00BFC4" stroke-width="3.0" stroke-linecap="round"/><path d="M267.9 261.7h0M257.7 221.6h0" stroke="#F8766D" stroke-width="3.0" stroke-linecap="round"/><path d="M243.9 273.9h0M258.8 209.2h0M257.1 245.6h0M258.5 212.4h0" stroke="#00BFC4" stroke-width="3.0" stroke-linecap="round"/><path d="M264.9 224.3h0M243.3 262.9h0" stroke="#F8766D" stroke-width="3.0" stroke-linecap="round"/><path d="M267.9 217.4h0" stroke="#00BFC4" stroke-width="3.0" stroke-linecap="round"/><path d="M240.9 257.1h0" stroke="#F8766D" stroke-width="3.0" stroke-linecap="round"/><path d="M263.8 213.5h0M237.3 248.2h0" stroke="#00BFC4" stroke-width="3.0" stroke-linecap="round"/><path d="M254.9 239.5h0M255.7 248.8h0" stroke="#F8766D" stroke-width="3.0" stroke-linecap="round"/><path d="M266.1 232.7h0" stroke="#00BFC4" stroke-width="3.0" stroke-linecap="round"/><path d="M258.3 205.8h0" stroke="#F8766D" stroke-width="3.0" stroke-linecap="round"/><path d="M235.2 273.6h0M244.8 216.9h0" stroke="#00BFC4" stroke-width="3.0" stroke-linecap="round"/><path d="M236.1 265.2h0M247.1 251.7h0" stroke="#F8766D" stroke-width="3.0" stroke-linecap="round"/><path d="M229.3 270.8h0M240.1 231.1h0" stroke="#00BFC4" stroke-width="3.0" stroke-linecap="round"/><path d="M244.9 260.8h0" stroke="#F8766D" stroke-width="3.0" stroke-linecap="round"/><path d="M239.5 273.7h0" stroke="#00BFC4" stroke-width="3.0" stroke-linecap="round"/><path d="M264.8 228.4h0M247.8 211.3h0" stroke="#F8766D" stroke-width="3.0" stroke-linecap="round"/><path d="M244.8 239.0h0M253.9 227.9h0" stroke="#00BFC4" stroke-width="3.0" stroke-linecap="round"/><path d="M232.7 274.8h0M250.1 222.2h0" stroke="#F8766D" stroke-width="3.0" stroke-linecap="round"/><path d="M253.2 210.6h0" stroke="#00BFC4" stroke-width="3.0" stroke-linecap="round"/><path d="M258.3 272.3h0" stroke="#F8766D" stroke-width="3.0" stroke-linecap="round"/><path d="M254.4 283.6h0M265.6 223.0h0" stroke="#00BFC4" stroke-width="3.0" stroke-linecap="round"/><path d="M246.2 267.2h0" stroke="#F8766D" stroke-width="3.0" stroke-linecap="round"/><path d="M248.9 254.0h0" stroke="#00BFC4" stroke-width="3.0" stroke-linecap="round"/><path d="M238.3 264.3h0M256.9 233.6h0" stroke="#F8766D" stroke-width="3.0" stroke-linecap="round"/><path d="M236.2 258.9h0" stroke="#00BFC4" stroke-width="3.0" stroke-linecap="round"/><path d="M254.9 248.4h0M235.0 278.3h0M265.1 228.9h0M245.2 271.9h0" stroke="#F8766D" stroke-width="3.0" stroke-linecap="round"/><path d="M244.7 211.9h0M253.7 283.9h0M253.0 239.6h0M250.3 231.4h0" stroke="#00BFC4" stroke-width="3.0" stroke-linecap="round"/><path d="M253.3 260.4h0M234.1 280.7h0" stroke="#F8766D" stroke-width="3.0" stroke-linecap="round"/><path d="M245.8 249.3h0M244.8 248.8h0M235.1 250.9h0" stroke="#00BFC4" stroke-width="3.0" stroke-linecap="round"/><path d="M244.3 259.0h0" stroke="#F8766D" stroke-width="3.0" stroke-linecap="round"/><path d="M261.7 260.8h0M267.1 248.5h0" stroke="#00BFC4" stroke-width="3.0" stroke-linecap="round"/><path d="M252.3 223.6h0M245.0 224.9h0" stroke="#F8766D" stroke-width="3.0" stroke-linecap="round"/><path d="M250.7 248.6h0M254.0 219.4h0" stroke="#00BFC4" stroke-width="3.0" stroke-linecap="round"/><path d="M244.1 250.4h0M240.3 269.2h0" stroke="#F8766D" stroke-width="3.0" stroke-linecap="round"/><path d="M252.4 278.6h0M254.5 227.2h0" stroke="#00BFC4" stroke-width="3.0" stroke-linecap="round"/><path d="M261.9 251.1h0M249.7 215.6h0M265.8 221.5h0" stroke="#F8766D" stroke-width="3.0" stroke-linecap="round"/><path d="M265.6 217.2h0" stroke="#00BFC4" stroke-width="3.0" stroke-linecap="round"/><path d="M250.5 226.3h0" stroke="#F8766D" stroke-width="3.0" stroke-linecap="round"/><path d="M244.7 245.4h0" stroke="#00BFC4" stroke-width="3.0" stroke-linecap="round"/><path d="M263.6 243.9h0" stroke="#F8766D" stroke-width="3.0" stroke-linecap="round"/><path d="M251.1 279.6h0" stroke="#00BFC4" stroke-width="3.0" stroke-linecap="round"/><path d="M255.1 209.3h0" stroke="#F8766D" stroke-width="3.0" stroke-linecap="round"/><path d="M268.9 233.1h0" stroke="#00BFC4" stroke-width="3.0" stroke-linecap="round"/><path d="M248.1 263.0h0" stroke="#F8766D" stroke-width="3.0" stroke-linecap="round"/><path d="M249.3 239.8h0" stroke="#00BFC4" stroke-width="3.0" stroke-linecap="round"/><path d="M244.3 239.6h0M255.3 215.7h0M243.7 264.4h0M259.8 206.3h0" stroke="#F8766D" stroke-width="3.0" stroke-linecap="round"/><path d="M269.9 233.3h0" stroke="#00BFC4" stroke-width="3.0" stroke-linecap="round"/><path d="M244.4 210.4h0M259.1 244.0h0M244.3 247.5h0M245.8 269.4h0" stroke="#F8766D" stroke-width="3.0" stroke-linecap="round"/><path d="M256.0 246.3h0" stroke="#00BFC4" stroke-width="3.0" stroke-linecap="round"/><path d="M254.7 245.0h0" stroke="#F8766D" stroke-width="3.0" stroke-linecap="round"/><path d="M233.0 284.4h0" stroke="#00BFC4" stroke-width="3.0" stroke-linecap="round"/><path d="M257.4 276.0h0" stroke="#F8766D" stroke-width="3.0" stroke-linecap="round"/><path d="M242.2 289.0h0M256.7 276.4h0" stroke="#00BFC4" stroke-width="3.0" stroke-linecap="round"/><path d="M252.9 256.6h0M242.4 217.6h0M250.8 217.3h0" stroke="#F8766D" stroke-width="3.0" stroke-linecap="round"/><path d="M245.6 279.8h0M251.6 203.5h0M251.4 233.1h0" stroke="#00BFC4" stroke-width="3.0" stroke-linecap="round"/><path d="M252.4 259.7h0" stroke="#F8766D" stroke-width="3.0" stroke-linecap="round"/><path d="M247.9 247.2h0" stroke="#00BFC4" stroke-width="3.0" stroke-linecap="round"/><path d="M251.4 257.8h0M259.4 264.4h0" stroke="#F8766D" stroke-width="3.0" stroke-linecap="round"/><path d="M270.1 219.4h0M240.2 288.1h0M246.1 220.0h0M253.4 212.5h0M259.0 275.6h0M266.5 247.4h0M242.8 245.4h0M265.4 223.0h0M231.7 259.5h0" stroke="#00BFC4" stroke-width="3.0" stroke-linecap="round"/><path d="M249.9 240.2h0" stroke="#F8766D" stroke-width="3.0" stroke-linecap="round"/><path d="M241.6 278.1h0M235.2 252.7h0" stroke="#00BFC4" stroke-width="3.0" stroke-linecap="round"/><path d="M267.6 231.9h0" stroke="#F8766D" stroke-width="3.0" stroke-linecap="round"/><path d="M266.8 217.5h0M252.6 223.2h0" stroke="#00BFC4" stroke-width="3.0" stroke-linecap="round"/><path d="M237.3 252.1h0" stroke="#F8766D" stroke-width="3.0" stroke-linecap="round"/><path d="M253.9 236.0h0" stroke="#00BFC4" stroke-width="3.0" stroke-linecap="round"/><path d="M239.6 273.6h0" stroke="#F8766D" stroke-width="3.0" stroke-linecap="round"/><path d="M251.1 219.9h0" stroke="#00BFC4" stroke-width="3.0" stroke-linecap="round"/><path d="M253.6 219.2h0" stroke="#F8766D" stroke-width="3.0" stroke-linecap="round"/><path d="M251.7 280.6h0" stroke="#00BFC4" stroke-width="3.0" stroke-linecap="round"/><path d="M253.6 231.6h0M250.0 269.5h0" stroke="#F8766D" stroke-width="3.0" stroke-linecap="round"/><path d="M249.0 268.4h0M243.5 210.7h0M252.1 287.5h0M264.8 219.2h0" stroke="#00BFC4" stroke-width="3.0" stroke-linecap="round"/><path d="M249.9 284.6h0M237.5 273.3h0" stroke="#F8766D" stroke-width="3.0" stroke-linecap="round"/><path d="M260.5 214.1h0" stroke="#00BFC4" stroke-width="3.0" stroke-linecap="round"/><path d="M261.6 272.2h0" stroke="#F8766D" stroke-width="3.0" stroke-linecap="round"/><path d="M263.1 218.6h0M262.0 254.7h0M261.2 271.5h0M247.2 228.9h0M244.2 257.2h0" stroke="#00BFC4" stroke-width="3.0" stroke-linecap="round"/><path d="M251.7 268.3h0" stroke="#F8766D" stroke-width="3.0" stroke-linecap="round"/><path d="M267.7 252.2h0M258.4 202.0h0M259.7 211.1h0M259.6 208.6h0M231.5 262.8h0" stroke="#00BFC4" stroke-width="3.0" stroke-linecap="round"/><path d="M242.8 218.4h0" stroke="#F8766D" stroke-width="3.0" stroke-linecap="round"/><path d="M267.1 264.1h0M247.1 255.7h0" stroke="#00BFC4" stroke-width="3.0" stroke-linecap="round"/><path d="M235.6 277.3h0" stroke="#F8766D" stroke-width="3.0" stroke-linecap="round"/><path d="M256.0 260.7h0" stroke="#00BFC4" stroke-width="3.0" stroke-linecap="round"/><path d="M266.1 261.3h0M230.7 268.2h0" stroke="#F8766D" stroke-width="3.0" stroke-linecap="round"/><path d="M260.6 212.8h0" stroke="#00BFC4" stroke-width="3.0" stroke-linecap="round"/><path d="M246.7 277.7h0" stroke="#F8766D" stroke-width="3.0" stroke-linecap="round"/><path d="M248.4 224.3h0" stroke="#00BFC4" stroke-width="3.0" stroke-linecap="round"/><path d="M236.1 283.5h0" stroke="#F8766D" stroke-width="3.0" stroke-linecap="round"/><path d="M257.6 267.0h0" stroke="#00BFC4" stroke-width="3.0" stroke-linecap="round"/><path d="M257.2 277.3h0" stroke="#F8766D" stroke-width="3.0" stroke-linecap="round"/><path d="M258.2 206.6h0M254.4 274.0h0" stroke="#00BFC4" stroke-width="3.0" stroke-linecap="round"/><path d="M251.3 254.7h0" stroke="#F8766D" stroke-width="3.0" stroke-linecap="round"/><path d="M257.5 265.3h0M260.1 201.3h0" stroke="#00BFC4" stroke-width="3.0" stroke-linecap="round"/><path d="M237.7 268.0h0" stroke="#F8766D" stroke-width="3.0" stroke-linecap="round"/><path d="M252.5 251.7h0M260.2 248.8h0" stroke="#00BFC4" stroke-width="3.0" stroke-linecap="round"/><path d="M250.8 238.5h0" stroke="#F8766D" stroke-width="3.0" stroke-linecap="round"/><path d="M262.5 213.4h0M258.6 277.6h0" stroke="#00BFC4" stroke-width="3.0" stroke-linecap="round"/><path d="M252.9 220.7h0" stroke="#F8766D" stroke-width="3.0" stroke-linecap="round"/><path d="M263.2 254.7h0M244.6 230.2h0" stroke="#00BFC4" stroke-width="3.0" stroke-linecap="round"/><path d="M247.8 256.1h0M237.6 262.7h0" stroke="#F8766D" stroke-width="3.0" stroke-linecap="round"/><path d="M252.6 217.1h0" stroke="#00BFC4" stroke-width="3.0" stroke-linecap="round"/><path d="M241.7 213.3h0M243.2 231.0h0" stroke="#F8766D" stroke-width="3.0" stroke-linecap="round"/><path d="M246.2 220.0h0M235.6 264.9h0M247.8 209.4h0M267.7 215.6h0" stroke="#00BFC4" stroke-width="3.0" stroke-linecap="round"/><path d="M243.9 223.4h0M256.9 243.0h0" stroke="#F8766D" stroke-width="3.0" stroke-linecap="round"/><path d="M262.3 261.7h0" stroke="#00BFC4" stroke-width="3.0" stroke-linecap="round"/><path d="M236.3 277.7h0" stroke="#F8766D" stroke-width="3.0" stroke-linecap="round"/><path d="M264.2 261.9h0M243.8 232.8h0" stroke="#00BFC4" stroke-width="3.0" stroke-linecap="round"/><path d="M234.6 268.3h0M264.4 234.5h0" stroke="#F8766D" stroke-width="3.0" stroke-linecap="round"/><path d="M237.6 261.2h0" stroke="#00BFC4" stroke-width="3.0" stroke-linecap="round"/><path d="M249.8 257.2h0M236.0 259.7h0M247.3 261.6h0M248.8 246.9h0" stroke="#F8766D" stroke-width="3.0" stroke-linecap="round"/><path d="M261.1 255.6h0M247.2 236.3h0M260.5 223.4h0" stroke="#00BFC4" stroke-width="3.0" stroke-linecap="round"/><path d="M252.7 272.9h0" stroke="#F8766D" stroke-width="3.0" stroke-linecap="round"/><path d="M233.1 266.1h0" stroke="#00BFC4" stroke-width="3.0" stroke-linecap="round"/><path d="M242.6 253.8h0M246.9 253.5h0M234.3 263.9h0" stroke="#F8766D" stroke-width="3.0" stroke-linecap="round"/><path d="M239.4 252.7h0M254.2 206.4h0" stroke="#00BFC4" stroke-width="3.0" stroke-linecap="round"/><path d="M267.8 233.2h0" stroke="#F8766D" stroke-width="3.0" stroke-linecap="round"/><path d="M266.7 225.5h0" stroke="#00BFC4" stroke-width="3.0" stroke-linecap="round"/><path d="M248.9 223.1h0M252.4 211.7h0" stroke="#F8766D" stroke-width="3.0" stroke-linecap="round"/><path d="M262.1 253.0h0M266.1 229.9h0M261.0 266.3h0M251.2 285.5h0M253.7 216.3h0" stroke="#00BFC4" stroke-width="3.0" stroke-linecap="round"/><path d="M249.7 245.3h0" stroke="#F8766D" stroke-width="3.0" stroke-linecap="round"/><path d="M259.5 226.2h0" stroke="#00BFC4" stroke-width="3.0" stroke-linecap="round"/><path d="M243.5 210.2h0" stroke="#F8766D" stroke-width="3.0" stroke-linecap="round"/><path d="M256.2 215.8h0" stroke="#00BFC4" stroke-width="3.0" stroke-linecap="round"/><path d="M249.2 268.6h0M249.4 253.2h0M244.4 263.1h0" stroke="#F8766D" stroke-width="3.0" stroke-linecap="round"/><path d="M262.2 242.8h0" stroke="#00BFC4" stroke-width="3.0" stroke-linecap="round"/><path d="M261.1 270.0h0" stroke="#F8766D" stroke-width="3.0" stroke-linecap="round"/><path d="M237.6 251.8h0" stroke="#00BFC4" stroke-width="3.0" stroke-linecap="round"/><path d="M249.6 264.1h0" stroke="#F8766D" stroke-width="3.0" stroke-linecap="round"/><path d="M243.8 251.9h0M254.7 214.8h0M247.8 285.4h0M251.8 276.8h0" stroke="#00BFC4" stroke-width="3.0" stroke-linecap="round"/><path d="M254.1 277.8h0" stroke="#F8766D" stroke-width="3.0" stroke-linecap="round"/><path d="M261.5 269.3h0M246.8 216.3h0M254.1 214.3h0" stroke="#00BFC4" stroke-width="3.0" stroke-linecap="round"/><path d="M247.5 211.0h0M240.9 243.9h0" stroke="#F8766D" stroke-width="3.0" stroke-linecap="round"/><path d="M251.6 273.9h0M243.8 253.5h0M263.9 218.7h0M260.6 259.6h0M255.0 204.1h0M254.8 240.2h0" stroke="#00BFC4" stroke-width="3.0" stroke-linecap="round"/><path d="M244.7 245.2h0M234.4 251.9h0M263.5 256.9h0" stroke="#F8766D" stroke-width="3.0" stroke-linecap="round"/><path d="M269.8 251.4h0" stroke="#00BFC4" stroke-width="3.0" stroke-linecap="round"/><path d="M240.4 262.8h0" stroke="#F8766D" stroke-width="3.0" stroke-linecap="round"/><path d="M263.4 223.2h0M258.1 279.0h0" stroke="#00BFC4" stroke-width="3.0" stroke-linecap="round"/><path d="M245.7 245.2h0" stroke="#F8766D" stroke-width="3.0" stroke-linecap="round"/><path d="M263.2 243.7h0M246.9 212.5h0" stroke="#00BFC4" stroke-width="3.0" stroke-linecap="round"/><path d="M256.8 260.0h0" stroke="#F8766D" stroke-width="3.0" stroke-linecap="round"/><path d="M264.4 253.0h0M244.9 236.8h0" stroke="#00BFC4" stroke-width="3.0" stroke-linecap="round"/><path d="M242.5 249.3h0" stroke="#F8766D" stroke-width="3.0" stroke-linecap="round"/><path d="M241.2 235.5h0M255.2 280.8h0M230.2 277.7h0" stroke="#00BFC4" stroke-width="3.0" stroke-linecap="round"/><path d="M230.3 272.3h0M240.5 285.3h0M244.7 269.0h0" stroke="#F8766D" stroke-width="3.0" stroke-linecap="round"/><path d="M251.8 274.4h0" stroke="#00BFC4" stroke-width="3.0" stroke-linecap="round"/><path d="M265.9 213.9h0M237.6 254.3h0M261.9 206.8h0" stroke="#F8766D" stroke-width="3.0" stroke-linecap="round"/><path d="M240.0 288.1h0M251.1 214.6h0M254.6 250.5h0M258.1 209.2h0" stroke="#00BFC4" stroke-width="3.0" stroke-linecap="round"/><path d="M242.7 274.7h0M232.9 259.5h0" stroke="#F8766D" stroke-width="3.0" stroke-linecap="round"/><path d="M246.3 214.3h0" stroke="#00BFC4" stroke-width="3.0" stroke-linecap="round"/><path d="M248.5 212.2h0" stroke="#F8766D" stroke-width="3.0" stroke-linecap="round"/><path d="M259.4 219.8h0" stroke="#00BFC4" stroke-width="3.0" stroke-linecap="round"/><path d="M243.2 263.2h0M234.4 260.6h0" stroke="#F8766D" stroke-width="3.0" stroke-linecap="round"/><path d="M249.0 234.8h0M235.1 283.0h0M262.5 270.7h0" stroke="#00BFC4" stroke-width="3.0" stroke-linecap="round"/><path d="M240.2 258.5h0" stroke="#F8766D" stroke-width="3.0" stroke-linecap="round"/><path d="M249.2 209.7h0" stroke="#00BFC4" stroke-width="3.0" stroke-linecap="round"/><path d="M264.5 254.7h0" stroke="#F8766D" stroke-width="3.0" stroke-linecap="round"/><path d="M262.7 210.2h0M248.5 283.9h0M267.1 254.8h0M253.3 276.8h0M252.0 283.5h0M242.3 218.9h0" stroke="#00BFC4" stroke-width="3.0" stroke-linecap="round"/><path d="M254.6 221.5h0" stroke="#F8766D" stroke-width="3.0" stroke-linecap="round"/><path d="M266.0 252.6h0M241.5 240.5h0M241.0 249.5h0" stroke="#00BFC4" stroke-width="3.0" stroke-linecap="round"/><path d="M243.1 274.8h0" stroke="#F8766D" stroke-width="3.0" stroke-linecap="round"/><path d="M266.7 269.0h0" stroke="#00BFC4" stroke-width="3.0" stroke-linecap="round"/><path d="M253.9 210.2h0" stroke="#F8766D" stroke-width="3.0" stroke-linecap="round"/><path d="M248.0 289.0h0M266.8 244.5h0M245.7 216.2h0M231.8 263.8h0M241.0 277.4h0" stroke="#00BFC4" stroke-width="3.0" stroke-linecap="round"/><path d="M254.1 228.2h0M243.3 268.1h0" stroke="#F8766D" stroke-width="3.0" stroke-linecap="round"/><path d="M250.9 283.6h0M249.7 262.9h0M242.6 239.7h0" stroke="#00BFC4" stroke-width="3.0" stroke-linecap="round"/><path d="M242.6 234.1h0" stroke="#F8766D" stroke-width="3.0" stroke-linecap="round"/><path d="M258.9 257.8h0M256.7 269.8h0M244.8 240.7h0M256.9 215.2h0" stroke="#00BFC4" stroke-width="3.0" stroke-linecap="round"/><path d="M232.3 275.1h0" stroke="#F8766D" stroke-width="3.0" stroke-linecap="round"/><path d="M266.8 217.4h0" stroke="#00BFC4" stroke-width="3.0" stroke-linecap="round"/><path d="M257.1 251.8h0" stroke="#F8766D" stroke-width="3.0" stroke-linecap="round"/><path d="M254.3 255.1h0" stroke="#00BFC4" stroke-width="3.0" stroke-linecap="round"/><path d="M252.9 271.4h0M253.2 239.6h0M242.9 247.2h0M242.0 274.1h0M256.5 228.2h0M251.4 255.2h0" stroke="#F8766D" stroke-width="3.0" stroke-linecap="round"/><path d="M240.9 223.0h0M267.1 238.4h0M250.5 269.2h0" stroke="#00BFC4" stroke-width="3.0" stroke-linecap="round"/><path d="M244.2 209.6h0" stroke="#F8766D" stroke-width="3.0" stroke-linecap="round"/><path d="M270.3 259.6h0M235.5 276.6h0" stroke="#00BFC4" stroke-width="3.0" stroke-linecap="round"/><path d="M244.9 263.5h0M259.0 217.6h0" stroke="#F8766D" stroke-width="3.0" stroke-linecap="round"/><path d="M264.3 223.9h0M267.9 250.7h0M264.9 243.7h0" stroke="#00BFC4" stroke-width="3.0" stroke-linecap="round"/><path d="M258.0 271.1h0M247.9 281.6h0" stroke="#F8766D" stroke-width="3.0" stroke-linecap="round"/><path d="M265.8 219.1h0M239.1 251.9h0M250.4 251.2h0M242.3 240.3h0" stroke="#00BFC4" stroke-width="3.0" stroke-linecap="round"/><path d="M243.5 238.0h0" stroke="#F8766D" stroke-width="3.0" stroke-linecap="round"/><path d="M246.0 206.3h0M234.4 258.8h0M250.9 285.4h0M253.0 222.7h0M249.0 247.2h0M234.7 276.0h0M262.5 214.4h0M264.4 260.6h0" stroke="#00BFC4" stroke-width="3.0" stroke-linecap="round"/><path d="M266.8 250.7h0M266.7 223.1h0M239.6 243.5h0" stroke="#F8766D" stroke-width="3.0" stroke-linecap="round"/><path d="M233.9 281.3h0" stroke="#00BFC4" stroke-width="3.0" stroke-linecap="round"/><path d="M240.2 231.3h0" stroke="#F8766D" stroke-width="3.0" stroke-linecap="round"/><path d="M260.9 205.4h0M260.0 257.8h0M232.9 267.0h0" stroke="#00BFC4" stroke-width="3.0" stroke-linecap="round"/><path d="M260.1 233.3h0M243.8 269.6h0M263.3 221.0h0" stroke="#F8766D" stroke-width="3.0" stroke-linecap="round"/><path d="M256.1 220.0h0M243.0 276.5h0M251.2 220.6h0" stroke="#00BFC4" stroke-width="3.0" stroke-linecap="round"/><path d="M235.6 257.9h0" stroke="#F8766D" stroke-width="3.0" stroke-linecap="round"/><path d="M241.4 251.1h0" stroke="#00BFC4" stroke-width="3.0" stroke-linecap="round"/><path d="M246.5 272.5h0" stroke="#F8766D" stroke-width="3.0" stroke-linecap="round"/><path d="M260.1 234.8h0" stroke="#00BFC4" stroke-width="3.0" stroke-linecap="round"/><path d="M251.9 245.2h0M263.4 266.1h0" stroke="#F8766D" stroke-width="3.0" stroke-linecap="round"/><path d="M243.3 216.2h0M268.1 219.4h0M240.6 288.6h0M258.1 245.9h0" stroke="#00BFC4" stroke-width="3.0" stroke-linecap="round"/><path d="M246.0 277.3h0" stroke="#F8766D" stroke-width="3.0" stroke-linecap="round"/><path d="M247.3 285.7h0M245.9 282.7h0" stroke="#00BFC4" stroke-width="3.0" stroke-linecap="round"/><path d="M251.2 252.5h0M244.6 282.8h0" stroke="#F8766D" stroke-width="3.0" stroke-linecap="round"/><path d="M257.8 251.0h0" stroke="#00BFC4" stroke-width="3.0" stroke-linecap="round"/><path d="M253.7 276.1h0" stroke="#F8766D" stroke-width="3.0" stroke-linecap="round"/><path d="M265.6 231.6h0M247.1 238.9h0" stroke="#00BFC4" stroke-width="3.0" stroke-linecap="round"/><path d="M258.0 278.7h0M253.4 218.9h0" stroke="#F8766D" stroke-width="3.0" stroke-linecap="round"/><path d="M255.9 280.3h0M267.6 221.9h0" stroke="#00BFC4" stroke-width="3.0" stroke-linecap="round"/><path d="M246.0 252.6h0" stroke="#F8766D" stroke-width="3.0" stroke-linecap="round"/><path d="M249.1 284.0h0M249.2 224.0h0" stroke="#00BFC4" stroke-width="3.0" stroke-linecap="round"/><path d="M244.3 256.2h0" stroke="#F8766D" stroke-width="3.0" stroke-linecap="round"/><path d="M260.0 217.4h0M254.6 233.5h0M247.6 205.9h0M261.2 215.9h0" stroke="#00BFC4" stroke-width="3.0" stroke-linecap="round"/><path d="M245.8 269.1h0" stroke="#F8766D" stroke-width="3.0" stroke-linecap="round"/><path d="M248.7 225.4h0M261.7 232.9h0M249.5 278.1h0M249.5 231.4h0M262.6 246.2h0" stroke="#00BFC4" stroke-width="3.0" stroke-linecap="round"/><path d="M256.7 211.3h0" stroke="#F8766D" stroke-width="3.0" stroke-linecap="round"/><path d="M240.8 218.6h0M248.3 217.9h0" stroke="#00BFC4" stroke-width="3.0" stroke-linecap="round"/><path d="M235.3 263.0h0M247.7 239.6h0M252.3 255.2h0" stroke="#F8766D" stroke-width="3.0" stroke-linecap="round"/><path d="M253.2 228.1h0" stroke="#00BFC4" stroke-width="3.0" stroke-linecap="round"/><path d="M251.7 282.5h0M254.3 280.1h0" stroke="#F8766D" stroke-width="3.0" stroke-linecap="round"/><path d="M257.2 248.8h0" stroke="#00BFC4" stroke-width="3.0" stroke-linecap="round"/><path d="M257.2 270.5h0" stroke="#F8766D" stroke-width="3.0" stroke-linecap="round"/><path d="M261.1 220.8h0" stroke="#00BFC4" stroke-width="3.0" stroke-linecap="round"/><path d="M245.1 290.4h0" stroke="#F8766D" stroke-width="3.0" stroke-linecap="round"/><path d="M265.8 233.7h0M246.4 217.3h0" stroke="#00BFC4" stroke-width="3.0" stroke-linecap="round"/><path d="M236.0 280.1h0M257.4 205.9h0" stroke="#F8766D" stroke-width="3.0" stroke-linecap="round"/><path d="M263.4 243.1h0M269.0 241.5h0M268.6 265.4h0" stroke="#00BFC4" stroke-width="3.0" stroke-linecap="round"/><path d="M257.9 234.3h0M240.8 252.8h0M251.4 259.9h0M255.0 262.2h0" stroke="#F8766D" stroke-width="3.0" stroke-linecap="round"/><path d="M263.1 261.2h0M246.4 240.2h0" stroke="#00BFC4" stroke-width="3.0" stroke-linecap="round"/><path d="M250.8 239.0h0" stroke="#F8766D" stroke-width="3.0" stroke-linecap="round"/><path d="M256.7 229.3h0M262.2 231.3h0M248.9 239.8h0M236.8 278.7h0" stroke="#00BFC4" stroke-width="3.0" stroke-linecap="round"/><path d="M247.9 255.8h0" stroke="#F8766D" stroke-width="3.0" stroke-linecap="round"/><path d="M253.4 259.6h0" stroke="#00BFC4" stroke-width="3.0" stroke-linecap="round"/><path d="M233.1 284.2h0M254.1 254.5h0M243.0 222.7h0M250.9 260.6h0" stroke="#F8766D" stroke-width="3.0" stroke-linecap="round"/><path d="M256.8 199.2h0M240.6 258.0h0M263.0 273.4h0M256.2 237.5h0M248.3 285.9h0" stroke="#00BFC4" stroke-width="3.0" stroke-linecap="round"/><path d="M263.9 217.1h0M259.1 233.1h0" stroke="#F8766D" stroke-width="3.0" stroke-linecap="round"/><path d="M263.4 217.8h0" stroke="#00BFC4" stroke-width="3.0" stroke-linecap="round"/><path d="M232.9 276.1h0" stroke="#F8766D" stroke-width="3.0" stroke-linecap="round"/><path d="M237.9 275.0h0M258.2 224.4h0M243.1 283.3h0" stroke="#00BFC4" stroke-width="3.0" stroke-linecap="round"/><path d="M248.9 266.1h0" stroke="#F8766D" stroke-width="3.0" stroke-linecap="round"/><path d="M263.0 242.3h0M247.4 211.4h0M256.9 248.7h0M239.4 287.0h0M239.0 286.6h0" stroke="#00BFC4" stroke-width="3.0" stroke-linecap="round"/><path d="M248.6 285.1h0" stroke="#F8766D" stroke-width="3.0" stroke-linecap="round"/><path d="M259.1 269.8h0M266.8 220.6h0" stroke="#00BFC4" stroke-width="3.0" stroke-linecap="round"/><path d="M247.0 286.1h0M265.4 226.9h0" stroke="#F8766D" stroke-width="3.0" stroke-linecap="round"/><path d="M251.7 263.2h0" stroke="#00BFC4" stroke-width="3.0" stroke-linecap="round"/><path d="M240.7 263.9h0" stroke="#F8766D" stroke-width="3.0" stroke-linecap="round"/><path d="M261.0 215.9h0M265.3 229.5h0" stroke="#00BFC4" stroke-width="3.0" stroke-linecap="round"/><path d="M248.3 268.7h0" stroke="#F8766D" stroke-width="3.0" stroke-linecap="round"/><path d="M266.4 259.3h0M247.9 259.6h0M267.6 241.0h0" stroke="#00BFC4" stroke-width="3.0" stroke-linecap="round"/><path d="M267.5 251.1h0M259.5 204.3h0" stroke="#F8766D" stroke-width="3.0" stroke-linecap="round"/><path d="M256.5 219.1h0M265.0 245.3h0M266.5 240.4h0" stroke="#00BFC4" stroke-width="3.0" stroke-linecap="round"/><path d="M249.2 251.3h0" stroke="#F8766D" stroke-width="3.0" stroke-linecap="round"/><path d="M254.1 239.1h0M261.1 274.5h0M261.3 256.4h0M254.1 280.7h0M253.5 277.8h0M247.3 218.2h0M240.8 237.1h0" stroke="#00BFC4" stroke-width="3.0" stroke-linecap="round"/><path d="M240.0 275.2h0" stroke="#F8766D" stroke-width="3.0" stroke-linecap="round"/><path d="M258.1 222.1h0" stroke="#00BFC4" stroke-width="3.0" stroke-linecap="round"/><path d="M254.4 203.6h0" stroke="#F8766D" stroke-width="3.0" stroke-linecap="round"/><path d="M251.5 216.6h0M247.5 207.2h0" stroke="#00BFC4" stroke-width="3.0" stroke-linecap="round"/><path d="M234.1 255.2h0" stroke="#F8766D" stroke-width="3.0" stroke-linecap="round"/><path d="M260.3 267.6h0" stroke="#00BFC4" stroke-width="3.0" stroke-linecap="round"/><path d="M244.3 235.5h0" stroke="#F8766D" stroke-width="3.0" stroke-linecap="round"/><path d="M250.8 213.6h0M252.1 233.0h0M266.0 256.8h0" stroke="#00BFC4" stroke-width="3.0" stroke-linecap="round"/><path d="M266.3 223.9h0" stroke="#F8766D" stroke-width="3.0" stroke-linecap="round"/><path d="M260.4 261.4h0M268.1 236.3h0M262.9 235.9h0M250.8 215.4h0" stroke="#00BFC4" stroke-width="3.0" stroke-linecap="round"/><path d="M251.7 256.2h0" stroke="#F8766D" stroke-width="3.0" stroke-linecap="round"/><path d="M245.7 229.9h0M243.1 229.5h0M251.7 230.1h0M233.2 274.4h0M250.8 203.4h0M251.5 209.0h0M264.1 232.7h0M267.9 239.5h0M236.7 279.6h0M262.0 210.8h0M265.8 214.3h0M242.8 247.3h0M243.5 261.0h0" stroke="#00BFC4" stroke-width="3.0" stroke-linecap="round"/><path d="M246.3 274.9h0" stroke="#F8766D" stroke-width="3.0" stroke-linecap="round"/><path d="M255.4 271.8h0M251.9 205.5h0M253.0 199.4h0" stroke="#00BFC4" stroke-width="3.0" stroke-linecap="round"/><path d="M251.1 254.6h0" stroke="#F8766D" stroke-width="3.0" stroke-linecap="round"/><path d="M263.7 258.0h0M240.5 286.7h0M252.2 242.0h0" stroke="#00BFC4" stroke-width="3.0" stroke-linecap="round"/><path d="M257.7 214.3h0" stroke="#F8766D" stroke-width="3.0" stroke-linecap="round"/><path d="M239.8 241.8h0" stroke="#00BFC4" stroke-width="3.0" stroke-linecap="round"/><path d="M247.0 275.4h0" stroke="#F8766D" stroke-width="3.0" stroke-linecap="round"/><path d="M233.5 281.8h0M256.6 213.3h0M256.8 229.3h0M262.8 225.9h0M268.4 260.4h0M241.4 234.7h0" stroke="#00BFC4" stroke-width="3.0" stroke-linecap="round"/><path d="M249.5 207.3h0M256.4 262.9h0" stroke="#F8766D" stroke-width="3.0" stroke-linecap="round"/><path d="M236.6 277.4h0" stroke="#00BFC4" stroke-width="3.0" stroke-linecap="round"/><path d="M254.1 259.6h0" stroke="#F8766D" stroke-width="3.0" stroke-linecap="round"/><path d="M246.8 213.6h0M242.1 228.7h0" stroke="#00BFC4" stroke-width="3.0" stroke-linecap="round"/><path d="M265.7 240.2h0" stroke="#F8766D" stroke-width="3.0" stroke-linecap="round"/><path d="M258.4 237.2h0M241.1 233.5h0M257.2 220.1h0M266.5 237.7h0M253.5 280.0h0" stroke="#00BFC4" stroke-width="3.0" stroke-linecap="round"/><path d="M247.2 261.5h0M260.3 221.0h0" stroke="#F8766D" stroke-width="3.0" stroke-linecap="round"/><path d="M250.3 245.6h0M268.7 259.8h0" stroke="#00BFC4" stroke-width="3.0" stroke-linecap="round"/><path d="M241.7 249.3h0" stroke="#F8766D" stroke-width="3.0" stroke-linecap="round"/><path d="M246.8 284.6h0" stroke="#00BFC4" stroke-width="3.0" stroke-linecap="round"/><path d="M241.7 261.6h0M246.2 248.8h0" stroke="#F8766D" stroke-width="3.0" stroke-linecap="round"/><path d="M251.1 223.9h0" stroke="#00BFC4" stroke-width="3.0" stroke-linecap="round"/><path d="M241.1 281.7h0M249.8 262.1h0M237.7 249.4h0" stroke="#F8766D" stroke-width="3.0" stroke-linecap="round"/><path d="M250.5 216.9h0" stroke="#00BFC4" stroke-width="3.0" stroke-linecap="round"/><path d="M250.5 288.6h0M241.4 279.8h0" stroke="#F8766D" stroke-width="3.0" stroke-linecap="round"/><path d="M247.7 245.0h0M244.9 218.2h0" stroke="#00BFC4" stroke-width="3.0" stroke-linecap="round"/><path d="M243.6 227.6h0" stroke="#F8766D" stroke-width="3.0" stroke-linecap="round"/><path d="M253.8 215.3h0" stroke="#00BFC4" stroke-width="3.0" stroke-linecap="round"/><path d="M250.2 270.0h0" stroke="#F8766D" stroke-width="3.0" stroke-linecap="round"/><path d="M269.0 242.7h0M251.8 217.0h0" stroke="#00BFC4" stroke-width="3.0" stroke-linecap="round"/><path d="M240.3 270.4h0" stroke="#F8766D" stroke-width="3.0" stroke-linecap="round"/><path d="M258.0 255.3h0M254.3 282.3h0M262.0 275.5h0" stroke="#00BFC4" stroke-width="3.0" stroke-linecap="round"/><path d="M239.5 257.0h0" stroke="#F8766D" stroke-width="3.0" stroke-linecap="round"/><path d="M249.4 221.3h0" stroke="#00BFC4" stroke-width="3.0" stroke-linecap="round"/><path d="M245.3 270.5h0M247.9 253.3h0" stroke="#F8766D" stroke-width="3.0" stroke-linecap="round"/><path d="M251.6 241.2h0" stroke="#00BFC4" stroke-width="3.0" stroke-linecap="round"/><path d="M235.6 256.6h0M241.7 261.0h0" stroke="#F8766D" stroke-width="3.0" stroke-linecap="round"/><path d="M249.3 204.4h0M260.2 242.7h0M255.8 280.2h0" stroke="#00BFC4" stroke-width="3.0" stroke-linecap="round"/><path d="M246.9 256.0h0" stroke="#F8766D" stroke-width="3.0" stroke-linecap="round"/><path d="M267.7 257.9h0M239.1 285.8h0M253.7 281.3h0" stroke="#00BFC4" stroke-width="3.0" stroke-linecap="round"/><path d="M259.0 205.1h0M257.8 262.1h0M266.2 240.4h0" stroke="#F8766D" stroke-width="3.0" stroke-linecap="round"/><path d="M243.9 221.1h0" stroke="#00BFC4" stroke-width="3.0" stroke-linecap="round"/><path d="M249.5 257.0h0" stroke="#F8766D" stroke-width="3.0" stroke-linecap="round"/><path d="M242.9 209.0h0M243.3 218.7h0M242.9 279.5h0" stroke="#00BFC4" stroke-width="3.0" stroke-linecap="round"/><path d="M241.8 270.7h0" stroke="#F8766D" stroke-width="3.0" stroke-linecap="round"/><path d="M253.4 206.7h0M253.7 233.8h0" stroke="#00BFC4" stroke-width="3.0" stroke-linecap="round"/><path d="M264.9 229.1h0" stroke="#F8766D" stroke-width="3.0" stroke-linecap="round"/><path d="M260.7 200.8h0" stroke="#00BFC4" stroke-width="3.0" stroke-linecap="round"/><path d="M259.7 258.2h0M246.0 271.6h0M253.4 276.0h0" stroke="#F8766D" stroke-width="3.0" stroke-linecap="round"/><path d="M249.2 246.5h0M241.7 222.3h0" stroke="#00BFC4" stroke-width="3.0" stroke-linecap="round"/><path d="M231.1 276.2h0" stroke="#F8766D" stroke-width="3.0" stroke-linecap="round"/><path d="M238.0 281.0h0" stroke="#00BFC4" stroke-width="3.0" stroke-linecap="round"/><path d="M243.4 251.9h0" stroke="#F8766D" stroke-width="3.0" stroke-linecap="round"/><path d="M263.7 254.8h0" stroke="#00BFC4" stroke-width="3.0" stroke-linecap="round"/><path d="M253.3 272.6h0" stroke="#F8766D" stroke-width="3.0" stroke-linecap="round"/><path d="M244.2 215.8h0M246.1 233.5h0M231.0 267.7h0M263.9 216.5h0M259.1 249.6h0" stroke="#00BFC4" stroke-width="3.0" stroke-linecap="round"/><path d="M251.7 240.3h0" stroke="#F8766D" stroke-width="3.0" stroke-linecap="round"/><path d="M246.3 209.6h0M267.1 219.5h0" stroke="#00BFC4" stroke-width="3.0" stroke-linecap="round"/><path d="M267.5 233.7h0" stroke="#F8766D" stroke-width="3.0" stroke-linecap="round"/><path d="M252.3 275.0h0" stroke="#00BFC4" stroke-width="3.0" stroke-linecap="round"/><path d="M239.1 260.8h0M248.9 204.5h0M251.2 255.8h0" stroke="#F8766D" stroke-width="3.0" stroke-linecap="round"/><path d="M253.5 220.5h0M245.7 231.5h0M255.8 231.6h0M261.9 210.5h0M248.5 250.4h0M236.0 249.6h0M267.0 250.2h0" stroke="#00BFC4" stroke-width="3.0" stroke-linecap="round"/><path d="M241.9 211.5h0" stroke="#F8766D" stroke-width="3.0" stroke-linecap="round"/><path d="M245.5 286.0h0M264.0 206.1h0M260.0 216.2h0" stroke="#00BFC4" stroke-width="3.0" stroke-linecap="round"/><path d="M238.6 271.7h0M252.1 255.3h0M260.9 213.2h0M263.3 242.3h0M246.3 258.1h0M253.0 215.0h0" stroke="#F8766D" stroke-width="3.0" stroke-linecap="round"/><path d="M244.3 209.0h0M245.2 225.8h0" stroke="#00BFC4" stroke-width="3.0" stroke-linecap="round"/><path d="M249.2 241.2h0M251.2 214.7h0" stroke="#F8766D" stroke-width="3.0" stroke-linecap="round"/><path d="M263.0 211.3h0" stroke="#00BFC4" stroke-width="3.0" stroke-linecap="round"/><path d="M250.6 230.9h0" stroke="#F8766D" stroke-width="3.0" stroke-linecap="round"/><path d="M266.6 266.7h0" stroke="#00BFC4" stroke-width="3.0" stroke-linecap="round"/><path d="M250.1 230.7h0" stroke="#F8766D" stroke-width="3.0" stroke-linecap="round"/><path d="M261.1 209.7h0" stroke="#00BFC4" stroke-width="3.0" stroke-linecap="round"/><path d="M257.4 209.3h0M251.6 286.3h0M248.3 234.5h0" stroke="#F8766D" stroke-width="3.0" stroke-linecap="round"/><path d="M239.7 259.8h0M262.0 244.8h0M267.4 269.2h0M268.8 238.0h0M255.2 239.9h0" stroke="#00BFC4" stroke-width="3.0" stroke-linecap="round"/><path d="M261.3 227.9h0M245.4 267.3h0M255.2 221.9h0M254.8 249.2h0" stroke="#F8766D" stroke-width="3.0" stroke-linecap="round"/><path d="M241.7 284.3h0M268.6 257.8h0M246.2 236.7h0" stroke="#00BFC4" stroke-width="3.0" stroke-linecap="round"/><path d="M250.0 277.1h0" stroke="#F8766D" stroke-width="3.0" stroke-linecap="round"/><path d="M243.4 251.5h0M234.2 262.5h0" stroke="#00BFC4" stroke-width="3.0" stroke-linecap="round"/><path d="M232.5 258.8h0" stroke="#F8766D" stroke-width="3.0" stroke-linecap="round"/><path d="M256.7 256.9h0M265.7 224.9h0M254.4 206.0h0" stroke="#00BFC4" stroke-width="3.0" stroke-linecap="round"/><path d="M261.4 240.5h0" stroke="#F8766D" stroke-width="3.0" stroke-linecap="round"/><path d="M257.2 215.8h0" stroke="#00BFC4" stroke-width="3.0" stroke-linecap="round"/><path d="M260.5 217.9h0M257.6 211.9h0" stroke="#F8766D" stroke-width="3.0" stroke-linecap="round"/><path d="M265.6 225.7h0" stroke="#00BFC4" stroke-width="3.0" stroke-linecap="round"/><path d="M246.6 260.1h0M253.5 247.1h0M261.5 252.4h0" stroke="#F8766D" stroke-width="3.0" stroke-linecap="round"/><path d="M253.9 286.1h0" stroke="#00BFC4" stroke-width="3.0" stroke-linecap="round"/><path d="M258.5 201.7h0M263.1 237.2h0M258.7 245.7h0M236.2 255.6h0M241.7 246.4h0" stroke="#F8766D" stroke-width="3.0" stroke-linecap="round"/><path d="M266.1 239.9h0M253.2 204.7h0M265.0 250.4h0M242.1 272.2h0M259.2 265.8h0M247.6 217.7h0M264.8 234.1h0M247.5 278.5h0" stroke="#00BFC4" stroke-width="3.0" stroke-linecap="round"/><path d="M240.1 267.9h0" stroke="#F8766D" stroke-width="3.0" stroke-linecap="round"/><path d="M237.9 249.6h0" stroke="#00BFC4" stroke-width="3.0" stroke-linecap="round"/><path d="M254.0 231.2h0" stroke="#F8766D" stroke-width="3.0" stroke-linecap="round"/><path d="M255.5 236.5h0M264.8 228.4h0" stroke="#00BFC4" stroke-width="3.0" stroke-linecap="round"/><path d="M256.2 229.8h0" stroke="#F8766D" stroke-width="3.0" stroke-linecap="round"/><path d="M264.8 228.4h0M253.3 201.3h0" stroke="#00BFC4" stroke-width="3.0" stroke-linecap="round"/><path d="M232.2 260.3h0" stroke="#F8766D" stroke-width="3.0" stroke-linecap="round"/><path d="M253.0 217.8h0" stroke="#00BFC4" stroke-width="3.0" stroke-linecap="round"/><path d="M254.7 241.3h0M237.5 267.0h0" stroke="#F8766D" stroke-width="3.0" stroke-linecap="round"/><path d="M268.2 256.7h0M265.5 211.6h0" stroke="#00BFC4" stroke-width="3.0" stroke-linecap="round"/><path d="M243.8 234.5h0" stroke="#F8766D" stroke-width="3.0" stroke-linecap="round"/><path d="M263.0 236.6h0M257.6 218.9h0M258.3 276.7h0" stroke="#00BFC4" stroke-width="3.0" stroke-linecap="round"/><path d="M256.0 266.2h0M254.4 274.8h0M245.2 234.7h0M245.5 259.3h0M252.7 253.8h0" stroke="#F8766D" stroke-width="3.0" stroke-linecap="round"/><path d="M254.5 222.8h0" stroke="#00BFC4" stroke-width="3.0" stroke-linecap="round"/><path d="M243.6 249.5h0M257.1 239.5h0M270.0 223.0h0" stroke="#F8766D" stroke-width="3.0" stroke-linecap="round"/><path d="M260.6 209.9h0M257.8 244.3h0" stroke="#00BFC4" stroke-width="3.0" stroke-linecap="round"/><path d="M248.0 223.1h0" stroke="#F8766D" stroke-width="3.0" stroke-linecap="round"/><path d="M257.3 262.3h0M268.5 244.3h0M249.4 229.5h0M242.6 242.8h0M261.4 246.1h0M250.0 218.8h0" stroke="#00BFC4" stroke-width="3.0" stroke-linecap="round"/><path d="M244.5 276.4h0M269.5 243.1h0M237.7 245.6h0M244.7 275.1h0" stroke="#F8766D" stroke-width="3.0" stroke-linecap="round"/><path d="M263.7 214.5h0M251.5 232.0h0" stroke="#00BFC4" stroke-width="3.0" stroke-linecap="round"/><path d="M255.6 253.6h0" stroke="#F8766D" stroke-width="3.0" stroke-linecap="round"/><path d="M231.5 279.2h0M255.8 253.8h0M241.5 223.6h0M257.8 247.4h0M265.2 241.6h0" stroke="#00BFC4" stroke-width="3.0" stroke-linecap="round"/><path d="M251.3 237.4h0M254.2 270.8h0M250.3 236.0h0" stroke="#F8766D" stroke-width="3.0" stroke-linecap="round"/><path d="M240.4 283.5h0" stroke="#00BFC4" stroke-width="3.0" stroke-linecap="round"/><path d="M245.8 211.3h0" stroke="#F8766D" stroke-width="3.0" stroke-linecap="round"/><path d="M269.5 261.5h0M268.0 214.2h0M262.8 249.1h0" stroke="#00BFC4" stroke-width="3.0" stroke-linecap="round"/><path d="M263.6 261.9h0" stroke="#F8766D" stroke-width="3.0" stroke-linecap="round"/><path d="M237.7 284.0h0M263.1 261.2h0M255.9 202.6h0" stroke="#00BFC4" stroke-width="3.0" stroke-linecap="round"/><path d="M247.8 288.9h0" stroke="#F8766D" stroke-width="3.0" stroke-linecap="round"/><path d="M265.1 209.1h0M254.7 281.3h0M260.3 233.1h0" stroke="#00BFC4" stroke-width="3.0" stroke-linecap="round"/><path d="M261.8 252.8h0" stroke="#F8766D" stroke-width="3.0" stroke-linecap="round"/><path d="M261.6 254.6h0" stroke="#00BFC4" stroke-width="3.0" stroke-linecap="round"/><path d="M238.3 256.0h0" stroke="#F8766D" stroke-width="3.0" stroke-linecap="round"/><path d="M243.7 226.2h0M254.5 225.8h0" stroke="#00BFC4" stroke-width="3.0" stroke-linecap="round"/><path d="M259.4 221.8h0" stroke="#F8766D" stroke-width="3.0" stroke-linecap="round"/><path d="M255.4 204.0h0" stroke="#00BFC4" stroke-width="3.0" stroke-linecap="round"/><path d="M258.5 215.7h0" stroke="#F8766D" stroke-width="3.0" stroke-linecap="round"/><path d="M265.1 208.5h0" stroke="#00BFC4" stroke-width="3.0" stroke-linecap="round"/><path d="M268.0 215.9h0M245.3 254.0h0" stroke="#F8766D" stroke-width="3.0" stroke-linecap="round"/><path d="M237.4 286.5h0M265.0 269.6h0M248.8 258.5h0" stroke="#00BFC4" stroke-width="3.0" stroke-linecap="round"/><path d="M263.9 275.6h0M259.3 218.1h0M263.2 266.0h0" stroke="#F8766D" stroke-width="3.0" stroke-linecap="round"/><path d="M244.4 217.1h0" stroke="#00BFC4" stroke-width="3.0" stroke-linecap="round"/><path d="M234.1 272.3h0M233.9 262.3h0M262.6 258.6h0M234.1 264.5h0" stroke="#F8766D" stroke-width="3.0" stroke-linecap="round"/><path d="M245.7 291.1h0M251.3 255.4h0M266.3 229.2h0M252.2 225.3h0M247.6 276.9h0" stroke="#00BFC4" stroke-width="3.0" stroke-linecap="round"/><path d="M255.3 273.2h0M252.6 263.1h0" stroke="#F8766D" stroke-width="3.0" stroke-linecap="round"/><path d="M242.9 213.3h0" stroke="#00BFC4" stroke-width="3.0" stroke-linecap="round"/><path d="M249.1 247.2h0M251.7 259.5h0M258.7 222.0h0" stroke="#F8766D" stroke-width="3.0" stroke-linecap="round"/><path d="M246.0 265.5h0M245.5 269.8h0M241.3 230.5h0" stroke="#00BFC4" stroke-width="3.0" stroke-linecap="round"/><path d="M248.0 248.6h0M254.4 268.5h0" stroke="#F8766D" stroke-width="3.0" stroke-linecap="round"/><path d="M248.1 278.5h0M251.8 203.1h0" stroke="#00BFC4" stroke-width="3.0" stroke-linecap="round"/><path d="M245.9 259.4h0" stroke="#F8766D" stroke-width="3.0" stroke-linecap="round"/><path d="M249.0 246.1h0M258.5 219.2h0" stroke="#00BFC4" stroke-width="3.0" stroke-linecap="round"/><path d="M234.5 262.6h0M236.6 257.3h0M240.5 282.6h0" stroke="#F8766D" stroke-width="3.0" stroke-linecap="round"/><path d="M264.7 250.7h0" stroke="#00BFC4" stroke-width="3.0" stroke-linecap="round"/><path d="M262.0 202.3h0" stroke="#F8766D" stroke-width="3.0" stroke-linecap="round"/><path d="M249.9 286.3h0" stroke="#00BFC4" stroke-width="3.0" stroke-linecap="round"/><path d="M239.7 264.0h0" stroke="#F8766D" stroke-width="3.0" stroke-linecap="round"/><path d="M246.5 242.9h0M247.3 223.6h0M253.3 276.1h0" stroke="#00BFC4" stroke-width="3.0" stroke-linecap="round"/><path d="M257.6 222.1h0M251.5 278.6h0" stroke="#F8766D" stroke-width="3.0" stroke-linecap="round"/><path d="M262.2 232.5h0M248.7 225.8h0M253.8 227.3h0M270.1 224.7h0" stroke="#00BFC4" stroke-width="3.0" stroke-linecap="round"/><path d="M244.5 266.3h0M259.6 211.1h0M254.1 273.0h0" stroke="#F8766D" stroke-width="3.0" stroke-linecap="round"/><path d="M268.7 246.4h0M262.1 255.8h0" stroke="#00BFC4" stroke-width="3.0" stroke-linecap="round"/><path d="M245.5 230.1h0M252.7 210.1h0" stroke="#F8766D" stroke-width="3.0" stroke-linecap="round"/><path d="M241.6 279.2h0M263.1 262.8h0" stroke="#00BFC4" stroke-width="3.0" stroke-linecap="round"/><path d="M246.5 215.7h0M259.9 246.5h0" stroke="#F8766D" stroke-width="3.0" stroke-linecap="round"/><path d="M251.4 208.6h0M233.7 283.4h0" stroke="#00BFC4" stroke-width="3.0" stroke-linecap="round"/><path d="M265.0 229.6h0M249.4 218.2h0" stroke="#F8766D" stroke-width="3.0" stroke-linecap="round"/><path d="M259.0 203.4h0" stroke="#00BFC4" stroke-width="3.0" stroke-linecap="round"/><path d="M237.8 246.8h0" stroke="#F8766D" stroke-width="3.0" stroke-linecap="round"/><path d="M260.2 212.4h0" stroke="#00BFC4" stroke-width="3.0" stroke-linecap="round"/><path d="M249.7 262.3h0" stroke="#F8766D" stroke-width="3.0" stroke-linecap="round"/><path d="M258.2 257.3h0M261.6 237.9h0" stroke="#00BFC4" stroke-width="3.0" stroke-linecap="round"/><path d="M257.0 266.5h0M248.1 247.3h0M247.6 226.3h0" stroke="#F8766D" stroke-width="3.0" stroke-linecap="round"/><path d="M258.6 265.5h0M230.0 274.4h0" stroke="#00BFC4" stroke-width="3.0" stroke-linecap="round"/><path d="M243.0 231.0h0M235.2 266.3h0M249.4 248.1h0M240.1 239.5h0" stroke="#F8766D" stroke-width="3.0" stroke-linecap="round"/><path d="M246.2 286.0h0M241.3 268.7h0M263.2 267.0h0M240.9 242.7h0M239.5 238.3h0M260.7 265.3h0" stroke="#00BFC4" stroke-width="3.0" stroke-linecap="round"/><path d="M265.5 218.7h0M252.9 252.0h0" stroke="#F8766D" stroke-width="3.0" stroke-linecap="round"/><path d="M256.8 220.1h0" stroke="#00BFC4" stroke-width="3.0" stroke-linecap="round"/><path d="M258.0 259.0h0" stroke="#F8766D" stroke-width="3.0" stroke-linecap="round"/><path d="M240.3 234.4h0" stroke="#00BFC4" stroke-width="3.0" stroke-linecap="round"/><path d="M260.7 234.4h0M256.4 237.4h0" stroke="#F8766D" stroke-width="3.0" stroke-linecap="round"/><path d="M242.6 231.4h0" stroke="#00BFC4" stroke-width="3.0" stroke-linecap="round"/><path d="M247.0 218.4h0" stroke="#F8766D" stroke-width="3.0" stroke-linecap="round"/><path d="M234.7 278.3h0M263.7 221.2h0" stroke="#00BFC4" stroke-width="3.0" stroke-linecap="round"/><path d="M251.5 236.7h0" stroke="#F8766D" stroke-width="3.0" stroke-linecap="round"/><path d="M244.1 234.9h0" stroke="#00BFC4" stroke-width="3.0" stroke-linecap="round"/><path d="M247.7 274.8h0" stroke="#F8766D" stroke-width="3.0" stroke-linecap="round"/><path d="M245.5 233.8h0M264.0 208.6h0M259.3 229.9h0M248.6 205.9h0" stroke="#00BFC4" stroke-width="3.0" stroke-linecap="round"/><path d="M248.5 256.0h0" stroke="#F8766D" stroke-width="3.0" stroke-linecap="round"/><path d="M242.6 285.2h0" stroke="#00BFC4" stroke-width="3.0" stroke-linecap="round"/><path d="M255.7 232.0h0M236.9 267.8h0M239.5 266.5h0M245.2 262.2h0M256.0 231.9h0M258.7 272.9h0" stroke="#F8766D" stroke-width="3.0" stroke-linecap="round"/><path d="M245.5 277.9h0M249.8 228.6h0" stroke="#00BFC4" stroke-width="3.0" stroke-linecap="round"/><path d="M258.1 225.6h0M253.2 230.6h0" stroke="#F8766D" stroke-width="3.0" stroke-linecap="round"/><path d="M241.9 231.9h0M257.4 231.1h0M270.1 247.4h0M262.1 224.0h0M247.2 219.8h0" stroke="#00BFC4" stroke-width="3.0" stroke-linecap="round"/><path d="M239.9 272.1h0M259.5 266.1h0" stroke="#F8766D" stroke-width="3.0" stroke-linecap="round"/><path d="M241.5 213.9h0" stroke="#00BFC4" stroke-width="3.0" stroke-linecap="round"/><path d="M265.7 246.4h0" stroke="#F8766D" stroke-width="3.0" stroke-linecap="round"/><path d="M260.6 273.9h0M246.2 214.0h0M254.8 219.6h0" stroke="#00BFC4" stroke-width="3.0" stroke-linecap="round"/><path d="M253.6 229.5h0M243.3 267.5h0M246.6 272.9h0M256.6 218.4h0" stroke="#F8766D" stroke-width="3.0" stroke-linecap="round"/><path d="M251.2 248.4h0" stroke="#00BFC4" stroke-width="3.0" stroke-linecap="round"/><path d="M243.3 247.8h0" stroke="#F8766D" stroke-width="3.0" stroke-linecap="round"/><path d="M243.0 223.6h0M256.4 275.1h0" stroke="#00BFC4" stroke-width="3.0" stroke-linecap="round"/><path d="M249.1 205.0h0M239.0 279.0h0" stroke="#F8766D" stroke-width="3.0" stroke-linecap="round"/><path d="M252.7 230.4h0M252.8 274.5h0" stroke="#00BFC4" stroke-width="3.0" stroke-linecap="round"/><path d="M261.8 264.3h0M246.3 262.8h0M239.8 283.5h0M265.0 227.3h0M249.5 211.6h0" stroke="#F8766D" stroke-width="3.0" stroke-linecap="round"/><path d="M253.2 234.0h0M257.1 245.5h0M246.6 277.9h0M246.3 246.4h0" stroke="#00BFC4" stroke-width="3.0" stroke-linecap="round"/><path d="M250.9 226.6h0M231.7 265.5h0" stroke="#F8766D" stroke-width="3.0" stroke-linecap="round"/><path d="M249.1 204.3h0M255.9 210.9h0M269.2 229.0h0M259.4 258.3h0" stroke="#00BFC4" stroke-width="3.0" stroke-linecap="round"/><path d="M245.3 267.7h0" stroke="#F8766D" stroke-width="3.0" stroke-linecap="round"/><path d="M260.1 212.9h0M239.6 264.0h0M247.1 228.1h0" stroke="#00BFC4" stroke-width="3.0" stroke-linecap="round"/><path d="M258.4 246.8h0M269.9 222.5h0M252.8 245.4h0M247.7 252.0h0" stroke="#F8766D" stroke-width="3.0" stroke-linecap="round"/><path d="M251.3 265.1h0" stroke="#00BFC4" stroke-width="3.0" stroke-linecap="round"/><path d="M242.7 264.0h0" stroke="#F8766D" stroke-width="3.0" stroke-linecap="round"/><path d="M268.9 253.2h0M262.6 208.3h0M265.2 265.9h0" stroke="#00BFC4" stroke-width="3.0" stroke-linecap="round"/><path d="M254.4 201.3h0" stroke="#F8766D" stroke-width="3.0" stroke-linecap="round"/><path d="M254.6 235.6h0M253.3 222.2h0M266.0 224.0h0M271.5 242.0h0M247.1 240.0h0M251.8 243.0h0" stroke="#00BFC4" stroke-width="3.0" stroke-linecap="round"/><path d="M241.5 222.9h0" stroke="#F8766D" stroke-width="3.0" stroke-linecap="round"/><path d="M249.6 258.2h0M260.6 230.1h0M265.5 240.1h0M252.7 200.2h0" stroke="#00BFC4" stroke-width="3.0" stroke-linecap="round"/><path d="M253.7 231.6h0" stroke="#F8766D" stroke-width="3.0" stroke-linecap="round"/><path d="M248.7 256.8h0M265.4 249.7h0M262.5 236.1h0M262.5 258.9h0" stroke="#00BFC4" stroke-width="3.0" stroke-linecap="round"/><path d="M244.0 238.4h0" stroke="#F8766D" stroke-width="3.0" stroke-linecap="round"/><path d="M262.8 193.6h0M274.3 221.5h0M273.0 229.8h0M278.0 242.8h0M277.0 252.4h0M277.8 242.6h0" stroke="#00BFC4" stroke-width="3.0" stroke-linecap="round"/><path d="M234.3 241.0h0M232.4 297.0h0M229.0 262.0h0M231.0 255.0h0M227.0 258.0h0M226.0 267.0h0M228.0 285.0h0M235.0 232.0h0M236.0 226.0h0" stroke="#F8766D" stroke-width="3.0" stroke-linecap="round"/><path d="M275.0 212.0h0M276.0 225.0h0M273.0 236.0h0M275.0 262.0h0M226.0 281.0h0M231.0 289.0h0M238.0 296.0h0M246.0 297.0h0" stroke="#00BFC4" stroke-width="3.0" stroke-linecap="round"/><path d="M36.9 187V333.4H289.5" fill="none" stroke="#303030" stroke-width="1.05"/><path d="M35.1 204.4H36.9" stroke="#333" stroke-width="0.7"/><text x="34.8" y="206.3" text-anchor="end" font-size="4.8" fill="#2a2a2a" stroke="#2a2a2a" stroke-width="0.08" font-family="Liberation Sans, sans-serif">0.05</text><path d="M35.1 249H36.9" stroke="#333" stroke-width="0.7"/><text x="34.8" y="250.9" text-anchor="end" font-size="4.8" fill="#2a2a2a" stroke="#2a2a2a" stroke-width="0.08" font-family="Liberation Sans, sans-serif">0.00</text><path d="M35.1 293.8H36.9" stroke="#333" stroke-width="0.7"/><text x="34.8" y="295.7" text-anchor="end" font-size="4.8" fill="#2a2a2a" stroke="#2a2a2a" stroke-width="0.08" font-family="Liberation Sans, sans-serif">-0.05</text><path d="M97.7 333.4V334.59999999999997" stroke="#333" stroke-width="0.7"/><text x="97.7" y="339.4" text-anchor="middle" font-size="4.8" fill="#2a2a2a" stroke="#2a2a2a" stroke-width="0.08" font-family="Liberation Sans, sans-serif">-0.050</text><path d="M159.8 333.4V334.59999999999997" stroke="#333" stroke-width="0.7"/><text x="159.8" y="339.4" text-anchor="middle" font-size="4.8" fill="#2a2a2a" stroke="#2a2a2a" stroke-width="0.08" font-family="Liberation Sans, sans-serif">-0.025</text><path d="M221.8 333.4V334.59999999999997" stroke="#333" stroke-width="0.7"/><text x="221.8" y="339.4" text-anchor="middle" font-size="4.8" fill="#2a2a2a" stroke="#2a2a2a" stroke-width="0.08" font-family="Liberation Sans, sans-serif">0.000</text><path d="M283.7 333.4V334.59999999999997" stroke="#333" stroke-width="0.7"/><text x="283.7" y="339.4" text-anchor="middle" font-size="4.8" fill="#2a2a2a" stroke="#2a2a2a" stroke-width="0.08" font-family="Liberation Sans, sans-serif">0.025</text><text transform="translate(163 345.4) scale(0.94 1)" text-anchor="middle" font-size="6.6" font-weight="bold" fill="#000" stroke="#000" stroke-width="0.08" font-family="Liberation Sans, sans-serif">PCA1(7.96%)</text><text transform="translate(21.5 260.2) rotate(-90) scale(0.94 1)" text-anchor="middle" font-size="6.6" font-weight="bold" fill="#000" stroke="#000" stroke-width="0.08" font-family="Liberation Sans, sans-serif">PCA2(1.76%)</text><path d="M425.9 242.9h0M426.6 241.3h0M415.2 237.6h0M409.7 222.3h0M417.6 220.3h0M402.7 224.5h0M421.1 241.6h0M416.9 232.2h0M416.2 230.2h0M416.0 224.5h0M411.9 239.9h0M419.4 247.9h0M427.0 243.8h0M420.2 243.4h0M420.7 234.5h0M414.1 226.5h0M418.5 221.7h0M415.8 235.2h0M410.8 231.7h0M415.2 218.9h0M414.5 243.5h0M417.1 222.1h0M415.6 246.8h0M404.9 239.0h0M410.7 247.3h0M404.3 237.7h0M421.9 248.4h0M406.0 225.8h0M409.1 238.3h0M409.1 244.1h0M413.8 224.0h0M426.1 235.7h0M402.6 239.2h0M416.7 226.6h0M414.5 235.6h0M417.2 249.1h0M412.4 234.9h0M420.8 249.2h0M418.9 237.4h0M427.7 243.1h0M407.1 218.3h0M410.0 246.0h0M408.4 226.2h0M427.8 234.3h0M417.0 230.5h0M412.7 218.5h0M429.6 237.9h0M425.5 249.1h0M417.7 223.6h0M409.7 224.1h0M420.5 223.7h0M421.3 226.0h0M410.6 223.8h0M421.1 231.4h0M420.4 236.7h0M424.0 221.6h0M414.6 224.0h0M403.0 228.6h0M418.2 223.7h0M403.7 231.3h0M405.6 222.8h0M415.2 226.5h0M427.4 247.5h0M417.2 249.4h0M413.5 221.0h0M407.3 222.2h0M416.1 228.4h0M428.7 236.7h0M407.2 228.0h0M425.1 226.7h0M422.6 230.3h0M402.0 230.3h0M422.1 226.9h0M417.6 242.6h0M414.1 237.5h0M416.3 235.8h0M414.9 237.1h0M422.1 228.7h0M422.4 237.4h0M422.4 231.1h0M421.7 242.8h0M407.9 239.5h0M429.5 235.4h0M414.3 236.4h0M417.9 239.2h0M409.3 225.1h0M414.8 242.2h0M426.0 237.4h0M423.9 233.6h0M428.0 231.7h0M416.6 221.2h0M420.4 240.2h0M404.5 220.4h0M417.7 236.4h0M421.2 231.4h0M423.6 241.0h0M410.7 236.7h0M409.7 217.8h0M420.0 226.5h0M407.8 235.2h0M429.1 243.4h0M424.9 233.6h0M430.4 248.4h0M418.9 228.3h0M416.5 220.6h0M421.8 238.7h0M418.0 241.7h0M420.0 244.6h0M415.8 244.3h0M412.4 217.8h0M415.7 218.9h0M407.8 228.7h0M427.2 222.9h0M414.5 224.2h0M415.2 232.9h0M426.0 236.5h0M418.6 231.5h0M419.5 222.3h0M417.6 247.5h0M409.9 223.1h0M423.7 232.3h0M409.6 227.2h0M415.5 222.4h0M425.0 233.3h0M411.6 239.2h0M433.0 232.0h0M425.3 245.5h0M421.4 233.1h0M412.3 231.9h0M426.6 229.8h0M423.9 231.5h0M423.8 228.6h0M433.9 237.3h0M416.4 227.4h0M407.9 232.6h0M401.4 229.7h0M424.8 248.2h0M431.6 229.7h0M406.3 237.6h0M418.7 242.5h0M401.0 227.3h0M413.4 233.4h0M421.1 249.9h0M421.8 217.2h0M419.9 220.0h0M418.2 232.7h0M418.0 239.2h0M412.0 222.0h0M408.7 232.3h0M413.7 232.0h0M414.2 238.0h0M418.8 236.8h0M421.9 243.1h0M409.7 236.2h0M416.4 247.0h0M415.1 227.8h0M423.7 242.8h0M429.5 234.0h0M413.1 213.4h0M413.2 236.8h0M413.7 223.4h0M425.6 241.8h0M425.9 238.0h0M432.3 241.2h0M406.4 224.4h0M428.6 221.2h0M416.7 227.2h0M426.5 215.5h0M422.1 258.3h0M421.8 229.0h0M412.2 240.3h0M421.5 242.1h0M409.4 241.0h0M416.7 239.8h0M419.3 219.2h0M402.5 243.7h0M405.9 224.4h0M422.0 230.2h0M431.3 231.8h0M418.9 237.3h0M415.2 197.6h0M405.7 204.0h0M415.2 208.0h0M418.8 207.0h0M407.0 212.0h0M411.0 211.0h0M392.0 226.0h0M395.0 227.0h0M398.0 229.0h0M392.0 236.0h0M396.0 244.0h0M397.0 249.0h0M400.0 246.0h0M433.0 234.0h0M438.0 235.5h0M444.0 235.5h0M436.0 221.0h0M440.0 243.5h0M448.0 248.0h0M453.4 256.0h0M422.0 251.0h0M424.0 257.0h0M428.0 257.0h0M436.0 258.0h0M440.0 258.0h0M448.4 248.4h0M453.6 255.7h0M459.7 258.3h0M457.6 263.4h0M443.3 262.9h0M436.4 258.0h0M439.8 258.0h0M440.3 243.3h0M463.1 271.2h0M452.8 277.2h0M457.0 285.5h0M454.5 288.1h0M495.0 307.1h0M483.5 298.1h0M485.2 304.8h0M490.1 303.2h0M482.1 295.6h0M493.6 308.7h0M477.9 303.3h0M478.4 297.5h0M478.5 301.9h0M482.9 294.5h0M492.2 299.0h0M486.2 306.5h0M480.0 300.6h0M478.9 295.6h0M488.0 308.6h0M487.4 297.8h0M478.4 299.6h0M487.6 303.7h0M480.4 295.3h0M483.8 305.6h0M486.4 304.6h0M484.6 289.9h0M493.1 308.5h0M494.3 309.9h0M487.1 303.3h0M495.1 308.2h0M483.0 293.8h0M476.4 300.8h0M477.9 299.4h0M481.3 306.0h0M494.1 301.3h0M489.4 294.8h0M492.1 301.6h0M482.1 293.6h0M479.9 299.9h0M488.9 293.8h0M495.4 298.4h0M489.5 304.8h0M491.3 300.0h0M498.0 302.9h0M489.6 294.4h0M486.5 305.2h0M495.1 307.3h0M496.0 301.8h0M478.9 297.5h0M492.5 302.6h0M486.6 308.3h0M481.9 292.8h0M481.8 300.0h0M489.9 296.2h0M497.1 298.6h0M485.3 303.1h0M480.6 295.6h0M494.7 307.9h0M481.0 294.1h0M490.6 296.5h0M488.2 294.9h0M489.4 307.9h0M479.8 295.1h0M488.8 296.5h0M465.3 286.1h0M491.7 289.7h0M508.4 296.5h0M471.3 302.3h0M474.1 295.5h0M490.1 309.3h0M487.9 304.8h0M477.2 291.7h0M471.7 289.3h0M496.0 324.5h0M493.0 298.0h0M494.1 304.0h0M474.4 280.7h0M472.3 293.6h0M479.0 291.1h0M498.6 295.4h0M484.1 300.3h0M458.7 276.0h0M491.7 284.1h0M482.8 302.5h0M481.1 279.2h0M475.9 304.2h0M496.3 310.9h0M476.8 305.4h0M484.9 286.3h0M493.5 305.8h0M479.3 294.4h0M487.5 291.1h0M476.8 300.4h0M476.6 289.7h0M480.9 298.7h0M473.1 289.1h0M491.8 306.9h0M482.5 300.7h0M461.3 292.7h0M467.9 293.2h0M479.6 308.8h0M514.5 304.4h0M498.1 313.5h0M489.0 293.6h0M484.9 304.7h0M476.7 292.7h0M485.2 295.0h0M487.9 299.8h0M480.6 290.5h0M461.4 289.1h0M488.0 292.2h0M488.6 294.9h0M482.0 287.1h0M506.9 303.6h0M498.3 285.6h0M475.5 299.9h0M486.1 285.5h0M481.2 295.4h0M487.8 284.5h0M462.9 274.5h0M480.7 291.5h0M491.3 301.9h0M501.9 313.4h0M501.2 301.6h0M474.4 284.4h0M477.2 280.3h0M487.4 296.7h0M475.7 295.7h0M467.1 285.9h0M502.3 305.0h0M489.3 315.1h0M471.8 269.3h0M481.0 299.4h0M475.9 292.6h0M494.7 299.5h0M487.7 310.9h0M482.1 298.8h0M484.6 285.7h0M498.6 303.1h0M482.6 287.2h0M473.6 284.6h0M494.3 304.2h0M485.6 298.9h0M501.4 305.9h0M496.7 299.0h0M480.3 286.6h0M500.0 310.5h0M494.2 293.4h0M480.6 274.8h0M504.1 299.2h0M479.2 271.1h0M482.4 274.2h0M491.2 298.4h0M473.3 308.3h0M502.1 311.8h0M484.0 280.1h0M483.8 283.5h0M476.1 289.0h0M467.8 289.2h0M484.2 308.0h0M473.6 298.3h0M472.9 299.7h0M474.9 305.1h0M472.8 299.7h0M494.0 297.6h0M460.2 279.7h0M496.3 287.3h0M491.4 296.4h0M482.7 271.8h0M483.6 309.9h0M499.5 294.4h0M483.7 316.3h0M468.9 276.8h0M500.5 314.4h0M475.1 297.4h0M480.3 299.7h0M492.5 292.0h0M466.2 277.7h0M498.1 299.9h0M487.1 303.7h0M490.1 292.6h0M483.8 289.1h0M506.1 302.5h0M495.0 299.4h0M477.6 283.6h0M491.9 303.2h0M482.6 279.9h0M489.7 280.2h0M492.2 301.9h0M507.8 302.4h0M503.5 311.3h0M487.4 288.1h0M509.8 297.1h0M499.8 303.2h0M487.1 283.6h0M485.1 289.1h0M496.4 315.6h0M479.2 270.7h0M496.5 312.3h0M490.0 284.8h0M477.3 281.3h0M479.4 290.5h0M491.5 286.1h0M512.8 319.4h0M476.8 293.5h0M499.4 288.2h0M489.0 295.8h0M469.7 287.5h0M476.3 291.3h0M496.9 298.7h0M467.4 298.1h0M476.4 300.7h0M499.6 309.4h0M485.0 296.3h0M459.7 284.0h0M468.3 295.3h0M505.0 318.3h0M463.3 278.8h0M485.2 289.9h0M461.2 298.2h0M478.5 299.6h0M475.0 289.1h0M492.1 301.4h0M500.0 313.0h0M480.7 305.7h0M472.7 289.2h0M467.6 288.9h0M495.0 293.2h0M492.7 305.8h0M484.7 283.4h0M492.2 301.3h0M470.8 289.4h0M485.7 305.9h0M497.4 293.5h0M469.6 278.8h0M499.3 307.3h0M487.9 274.0h0M489.4 290.5h0M474.8 302.7h0M475.6 283.9h0M494.1 301.6h0M470.2 302.1h0M508.4 314.5h0M494.1 282.9h0M491.9 316.0h0M485.2 312.2h0M496.1 305.2h0M482.7 310.6h0M472.8 290.2h0M465.0 283.0h0M482.9 296.9h0M498.5 282.1h0M488.4 286.2h0M494.5 308.4h0M483.0 276.3h0M486.8 300.9h0M471.6 292.7h0M489.5 283.1h0M488.2 304.0h0M483.0 277.5h0M488.7 312.8h0M472.0 305.5h0M488.1 297.0h0M500.7 304.4h0M496.6 300.4h0M480.4 297.4h0M486.7 300.6h0M471.5 287.7h0M466.0 291.0h0M504.9 291.7h0M483.7 283.5h0M476.9 300.6h0M491.4 309.9h0M490.6 300.4h0M502.7 290.4h0M479.9 286.6h0M482.0 272.9h0M477.7 274.5h0M464.4 269.3h0M500.4 311.9h0M485.5 301.1h0M488.0 290.1h0M493.1 300.7h0M481.1 284.3h0M493.0 298.7h0M487.8 322.3h0M478.9 291.8h0M480.2 297.3h0M482.5 290.3h0M502.0 291.7h0M488.6 306.0h0M480.4 278.2h0M495.8 319.3h0M489.3 318.4h0M480.5 294.3h0M491.4 278.0h0M480.2 294.9h0M481.2 295.6h0M487.5 315.3h0M474.4 295.6h0M487.0 309.0h0M495.9 297.7h0M482.8 297.3h0M511.4 313.6h0M479.4 292.5h0M485.7 298.9h0M475.0 288.0h0M509.0 291.4h0M506.9 296.9h0M475.8 289.7h0M492.5 304.9h0M483.3 294.7h0M502.1 295.8h0M470.4 288.6h0M463.0 271.0h0M471.0 272.0h0M474.0 276.0h0M466.0 278.0h0M464.0 280.0h0M453.0 277.0h0M454.0 288.0h0M457.0 285.0h0M459.0 309.0h0M520.0 289.0h0M514.0 306.0h0M519.0 310.0h0M484.0 322.0h0M498.0 316.0h0M502.0 317.0h0M548.0 291.9h0M548.2 289.7h0M548.3 286.4h0M561.8 284.5h0M547.6 286.2h0M561.6 277.7h0M553.6 288.7h0M556.6 300.0h0M546.7 285.9h0M548.1 279.8h0M537.7 294.7h0M539.5 287.4h0M533.7 291.4h0M546.6 277.0h0M548.7 276.9h0M558.9 289.7h0M547.0 295.8h0M546.3 288.4h0M549.6 285.0h0M537.3 287.0h0M546.4 277.7h0M549.0 289.2h0M538.4 278.2h0M552.7 281.0h0M541.5 285.4h0M547.7 284.3h0M550.2 296.7h0M540.8 294.0h0M545.1 275.1h0M539.2 292.7h0M540.5 283.5h0M555.0 288.1h0M546.4 278.5h0M547.7 283.6h0M543.0 285.5h0M549.1 284.8h0M544.4 289.3h0M561.9 286.8h0M540.9 289.5h0M555.3 286.1h0M556.3 282.3h0M564.5 292.7h0M550.8 281.6h0M558.4 285.8h0M547.0 296.7h0M551.4 273.7h0M548.4 300.1h0M549.0 282.7h0M561.7 283.5h0M558.3 282.9h0M548.2 288.3h0M549.4 284.7h0M538.1 284.4h0M551.9 287.8h0M549.1 289.2h0M547.8 287.1h0M550.9 277.6h0M550.5 291.0h0M533.5 288.3h0M556.8 279.5h0M537.9 291.0h0M551.4 286.3h0M552.4 293.2h0M537.1 276.5h0M539.3 273.8h0M550.6 287.3h0M544.2 281.0h0M541.8 287.8h0M551.7 286.3h0M534.7 282.1h0M534.9 285.4h0M559.1 282.2h0M571.9 228.7h0M576.1 238.8h0M558.8 228.3h0M558.5 223.1h0M559.2 230.8h0M580.2 229.0h0M560.8 225.5h0M572.1 236.6h0M561.5 229.1h0M576.0 233.6h0M565.9 230.8h0M570.0 223.0h0M567.8 230.0h0M584.6 240.2h0M575.1 227.0h0M568.3 236.5h0M572.3 222.2h0M575.8 229.5h0M567.2 225.9h0M568.1 221.7h0M563.4 231.7h0M578.1 235.7h0M575.0 232.9h0M575.1 229.1h0M573.5 232.8h0M568.2 228.5h0M567.0 227.5h0M563.3 232.8h0M563.8 220.3h0M567.3 233.6h0M581.0 237.3h0M564.3 227.4h0M574.4 227.7h0M562.2 227.7h0M573.3 238.3h0M561.0 228.6h0M567.5 222.6h0M578.0 226.2h0M580.6 236.7h0M569.6 224.0h0M551.3 215.2h0M553.4 219.8h0M558.1 214.3h0M564.8 211.1h0M545.5 236.4h0M562.9 244.3h0M589.0 208.3h0M607.9 195.3h0M599.6 198.5h0M617.6 203.7h0M615.5 197.4h0M611.8 197.4h0M595.8 206.8h0M603.6 208.4h0M620.1 201.4h0M616.1 197.6h0M611.2 193.3h0M603.7 206.3h0M616.1 194.5h0M601.5 206.7h0M593.1 201.0h0M618.1 208.2h0M621.5 200.4h0M618.2 207.7h0M608.5 196.3h0M610.5 212.3h0M590.9 204.9h0M587.3 207.9h0M601.2 211.6h0M620.6 201.4h0M595.7 205.2h0M595.4 216.3h0M614.9 207.5h0M607.2 193.0h0M608.5 211.9h0M600.3 206.6h0M593.2 206.9h0M593.4 211.6h0M602.1 211.5h0M610.8 209.9h0M606.2 201.7h0M609.1 212.9h0M607.4 202.2h0M610.1 202.7h0M612.9 206.8h0M605.8 198.2h0M604.8 207.6h0M611.9 204.3h0M608.2 196.2h0M615.0 191.2h0M610.6 209.5h0M607.1 194.4h0M615.0 203.4h0M596.2 211.0h0M605.9 193.3h0M600.9 195.8h0M605.6 201.3h0M605.1 194.3h0M595.0 233.2h0M589.3 214.5h0M615.0 220.5h0" stroke="#F8766D" stroke-width="3.0" stroke-linecap="round"/><path d="M469.0 230.7h0M483.3 232.9h0M483.3 241.6h0M488.4 219.1h0M491.0 222.0h0M489.3 230.3h0M491.9 230.3h0M490.2 233.8h0M491.9 233.8h0M496.6 211.7h0M499.3 212.2h0M495.9 216.0h0M501.4 215.7h0M498.3 222.0h0M496.2 226.4h0M500.5 226.4h0M496.2 227.8h0M498.8 231.2h0M501.4 231.2h0M501.4 237.8h0M498.3 246.7h0M503.1 245.3h0M507.4 206.2h0M510.3 203.3h0M505.7 216.6h0M507.4 216.6h0M508.3 219.1h0M504.8 220.9h0M509.1 220.9h0M511.7 224.3h0M514.3 216.9h0M517.8 216.9h0M513.4 226.0h0M510.0 230.3h0M512.6 231.2h0M515.2 228.6h0M516.9 225.2h0M516.0 232.0h0M511.7 237.8h0M509.5 239.8h0M519.5 236.4h0M518.1 207.9h0M520.0 212.2h0M525.2 207.4h0M519.5 221.7h0M520.7 222.6h0M522.9 228.1h0M524.1 228.1h0M526.4 219.1h0M549.3 209.5h0M542.2 214.7h0M548.2 225.8h0M468.5 230.5h0M478.4 263.4h0M482.0 272.6h0M487.8 269.4h0M491.7 277.0h0M490.0 281.0h0M493.0 282.5h0M496.0 284.0h0M498.0 281.5h0M480.0 286.6h0M508.5 291.0h0M516.5 295.7h0M520.8 295.3h0M526.0 297.4h0M512.0 300.6h0M510.0 304.0h0M493.9 305.6h0M532.7 306.5h0M538.0 305.0h0M532.0 311.9h0M534.8 314.0h0M542.4 301.3h0M538.7 294.2h0M529.4 319.0h0M523.0 320.0h0M518.7 322.0h0M538.7 320.5h0M441.7 266.2h0M448.2 266.6h0M521.0 296.0h0M526.5 297.4h0M531.7 311.4h0M529.5 318.6h0" stroke="#00BFC4" stroke-width="3.0" stroke-linecap="round"/><path d="M380.5 187V333.4H633" fill="none" stroke="#303030" stroke-width="1.05"/><path d="M378.7 188.6H380.5" stroke="#333" stroke-width="0.7"/><text x="378.4" y="190.5" text-anchor="end" font-size="4.8" fill="#2a2a2a" stroke="#2a2a2a" stroke-width="0.08" font-family="Liberation Sans, sans-serif">0.08</text><path d="M378.7 224.1H380.5" stroke="#333" stroke-width="0.7"/><text x="378.4" y="226.0" text-anchor="end" font-size="4.8" fill="#2a2a2a" stroke="#2a2a2a" stroke-width="0.08" font-family="Liberation Sans, sans-serif">0.04</text><path d="M378.7 259.6H380.5" stroke="#333" stroke-width="0.7"/><text x="378.4" y="261.5" text-anchor="end" font-size="4.8" fill="#2a2a2a" stroke="#2a2a2a" stroke-width="0.08" font-family="Liberation Sans, sans-serif">0.00</text><path d="M378.7 295.1H380.5" stroke="#333" stroke-width="0.7"/><text x="378.4" y="297.0" text-anchor="end" font-size="4.8" fill="#2a2a2a" stroke="#2a2a2a" stroke-width="0.08" font-family="Liberation Sans, sans-serif">-0.04</text><path d="M378.7 330.6H380.5" stroke="#333" stroke-width="0.7"/><text x="378.4" y="332.5" text-anchor="end" font-size="4.8" fill="#2a2a2a" stroke="#2a2a2a" stroke-width="0.08" font-family="Liberation Sans, sans-serif">-0.08</text><path d="M421.6 333.4V334.59999999999997" stroke="#333" stroke-width="0.7"/><text x="421.6" y="339.4" text-anchor="middle" font-size="4.8" fill="#2a2a2a" stroke="#2a2a2a" stroke-width="0.08" font-family="Liberation Sans, sans-serif">-0.05</text><path d="M493.5 333.4V334.59999999999997" stroke="#333" stroke-width="0.7"/><text x="493.5" y="339.4" text-anchor="middle" font-size="4.8" fill="#2a2a2a" stroke="#2a2a2a" stroke-width="0.08" font-family="Liberation Sans, sans-serif">0.00</text><path d="M565.5 333.4V334.59999999999997" stroke="#333" stroke-width="0.7"/><text x="565.5" y="339.4" text-anchor="middle" font-size="4.8" fill="#2a2a2a" stroke="#2a2a2a" stroke-width="0.08" font-family="Liberation Sans, sans-serif">0.05</text><text transform="translate(507 345.4) scale(0.94 1)" text-anchor="middle" font-size="6.6" font-weight="bold" fill="#000" stroke="#000" stroke-width="0.08" font-family="Liberation Sans, sans-serif">PCA1(5.23%)</text><text transform="translate(365.6 260.2) rotate(-90) scale(0.94 1)" text-anchor="middle" font-size="6.6" font-weight="bold" fill="#000" stroke="#000" stroke-width="0.08" font-family="Liberation Sans, sans-serif">PCA2(3.05%)</text><text transform="translate(0.5 12.0) scale(0.97 1)" font-size="15.8" font-weight="bold" fill="#111" font-family="Liberation Sans, sans-serif">A</text><text transform="translate(346.1 12.1) scale(0.89 1)" font-size="15.8" font-weight="bold" fill="#111" font-family="Liberation Sans, sans-serif">B</text><text transform="translate(0.66 190.2) scale(0.87 1)" font-size="15.8" font-weight="bold" fill="#111" font-family="Liberation Sans, sans-serif">C</text><text transform="translate(345.6 190.8) scale(1.0 1)" font-size="15.8" font-weight="bold" fill="#111" font-family="Liberation Sans, sans-serif">D</text><text x="641" y="77.0" font-size="6" font-weight="bold" fill="#000" stroke="#000" stroke-width="0.12" font-family="Liberation Sans, sans-serif">Population</text><circle cx="644" cy="82.7" r="1.5" fill="#F8766D"/><text x="649.8" y="85.0" font-size="6" font-weight="bold" fill="#111" stroke="#111" stroke-width="0.08" font-family="Liberation Sans, sans-serif">Population1</text><circle cx="644" cy="89.5" r="1.5" fill="#00BFC4"/><text x="649.8" y="91.8" font-size="6" font-weight="bold" fill="#111" stroke="#111" stroke-width="0.08" font-family="Liberation Sans, sans-serif">Population2</text>
</svg>
</body></html>
